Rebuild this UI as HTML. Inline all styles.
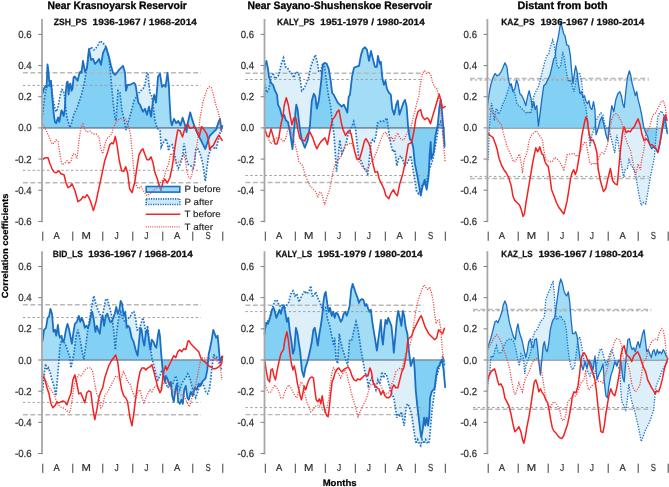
<!DOCTYPE html>
<html><head><meta charset="utf-8"><style>
html,body{margin:0;padding:0;background:#fff;}
svg{display:block;will-change:transform;}
text{font-family:"Liberation Sans", sans-serif;white-space:pre;text-rendering:geometricPrecision;}
</style></head><body>
<svg width="669" height="487" viewBox="0 0 669 487" xml:space="preserve">
<rect width="669" height="487" fill="#fff"/>
<path d="M42.00,118.00 L42.70,113.20 L44.20,100.20 L45.60,91.60 L47.00,85.90 L48.50,85.10 L49.90,87.30 L50.90,80.10 L52.10,93.00 L53.20,100.20 L54.60,107.40 L56.10,111.70 L57.50,108.90 L59.00,101.70 L60.40,94.50 L61.80,89.50 L63.30,90.20 L64.30,94.50 L65.30,103.10 L66.40,114.60 L67.60,120.30 L68.60,123.20 L70.00,127.50 L71.50,123.20 L72.90,117.50 L74.30,113.20 L75.80,110.30 L77.20,107.40 L78.60,103.10 L80.10,98.80 L81.50,94.50 L84.00,84.80 L86.00,72.80 L89.00,50.90 L91.00,46.90 L94.00,49.90 L97.00,46.90 L100.00,40.90 L103.00,42.90 L106.00,46.90 L109.00,58.90 L111.00,78.80 L113.00,100.70 L115.00,118.60 L116.00,120.60 L118.00,90.70 L120.00,92.70 L122.00,110.70 L124.00,118.60 L126.00,130.00 L128.00,122.60 L131.00,112.60 L134.00,100.70 L139.00,92.70 L143.00,88.70 L145.00,84.80 L147.00,72.80 L148.00,72.80 L149.00,84.80 L150.00,92.70 L152.00,96.70 L153.50,108.70 L155.00,120.60 L157.00,128.00 L160.00,130.50 L161.20,147.20 L163.60,142.20 L166.10,138.60 L167.30,143.50 L168.60,150.90 L169.80,146.00 L172.20,144.70 L173.50,149.60 L175.30,158.30 L176.60,164.40 L178.40,168.10 L179.60,165.70 L180.90,162.00 L182.70,155.80 L184.00,143.50 L185.20,149.60 L186.40,159.50 L188.30,164.40 L190.70,165.70 L193.20,168.10 L194.40,165.70 L195.70,149.60 L197.50,148.40 L199.40,152.10 L201.20,157.00 L203.00,165.00 L205.30,181.30 L208.50,155.50 L211.70,146.80 L216.10,149.00 L219.30,136.10 L221.40,127.40 L221.4,127.9 L42.0,127.9 Z" fill="#ddf0fa" stroke="none"/>
<path d="M42.00,93.50 L42.70,93.00 L44.20,88.00 L45.60,85.90 L46.60,87.30 L47.50,64.30 L48.50,71.50 L49.20,81.60 L49.90,84.40 L50.90,80.80 L51.80,91.60 L52.80,103.10 L53.80,114.60 L54.90,121.80 L56.10,123.20 L57.10,120.30 L58.10,117.50 L59.20,121.80 L60.40,116.00 L61.40,110.30 L62.40,111.70 L63.60,116.00 L64.70,110.30 L65.70,93.00 L66.70,83.00 L67.60,81.60 L68.60,94.50 L69.60,84.40 L70.40,83.70 L71.50,90.90 L72.50,88.70 L73.60,77.20 L74.80,76.50 L76.20,78.70 L77.60,80.80 L79.10,74.40 L80.50,71.50 L81.50,72.90 L83.00,60.90 L85.00,71.80 L87.00,67.80 L89.00,48.90 L91.00,59.90 L93.00,58.90 L95.00,63.80 L97.00,61.90 L99.00,58.90 L101.00,64.80 L103.00,52.90 L106.00,46.90 L109.00,56.90 L111.00,65.80 L113.00,72.80 L115.00,74.80 L117.00,72.80 L119.00,69.80 L121.00,67.80 L123.00,65.80 L125.00,72.80 L126.00,90.70 L127.60,84.80 L130.00,84.80 L132.00,83.80 L134.00,82.80 L135.60,84.80 L137.00,94.70 L138.40,102.70 L140.00,104.70 L141.60,108.70 L143.00,111.70 L145.00,108.70 L147.00,114.60 L149.00,106.70 L151.00,116.60 L153.00,100.70 L154.30,94.70 L156.00,102.70 L158.00,76.80 L160.00,73.80 L162.00,86.80 L164.00,84.80 L165.50,86.80 L167.50,72.80 L168.80,84.80 L169.80,104.70 L170.80,121.00 L171.90,125.30 L174.00,118.80 L176.20,123.10 L178.30,121.00 L180.50,125.30 L182.60,117.70 L184.80,124.20 L186.50,132.00 L188.00,122.00 L190.20,112.30 L192.30,119.90 L194.50,126.40 L196.70,131.70 L198.80,136.10 L201.00,140.40 L203.10,144.70 L205.30,149.00 L207.40,142.50 L209.60,136.10 L211.70,133.90 L213.90,131.70 L216.10,129.60 L218.20,123.10 L220.00,118.80 L221.40,129.60 L222.50,125.30 L222.5,127.9 L42.0,127.9 Z" fill="#a3dcf5" stroke="none"/>
<path d="M42.00,118.00 L42.25,116.29 L42.50,114.57 L42.75,112.77 L43.00,110.60 L43.25,108.43 L43.50,106.27 L43.75,104.10 L44.00,101.93 L44.25,99.89 L44.50,98.36 L44.75,96.82 L45.00,95.29 L45.25,93.75 L45.50,92.21 L45.75,90.99 L46.00,89.97 L46.25,88.95 L46.50,87.94 L46.75,86.92 L47.00,85.90 L47.25,85.77 L47.50,85.63 L47.75,85.50 L48.00,85.37 L48.25,85.23 L48.50,85.10 L48.75,85.49 L49.00,85.89 L49.25,86.28 L49.50,86.67 L49.75,87.06 L50.00,86.58 L50.25,84.78 L50.50,82.98 L50.75,81.34 L51.00,82.00 L51.25,85.00 L51.50,88.00 L51.75,91.00 L52.00,93.90 L52.25,96.78 L52.50,99.65 L52.75,102.53 L53.00,105.40 L53.25,108.28 L53.50,111.15 L53.75,114.03 L54.00,115.91 L54.25,117.55 L54.50,119.18 L54.75,120.82 L55.00,121.92 L55.25,122.21 L55.50,122.50 L55.75,122.79 L56.00,123.08 L56.25,122.77 L56.50,122.04 L56.75,121.31 L57.00,120.59 L57.25,119.88 L57.50,119.18 L57.75,118.48 L58.00,117.78 L58.25,118.09 L58.50,119.06 L58.75,120.04 L59.00,121.02 L59.25,121.56 L59.50,120.35 L59.75,119.14 L60.00,117.93 L60.25,116.72 L60.50,115.43 L60.75,114.00 L61.00,112.58 L61.25,111.15 L61.50,110.44 L61.75,110.79 L62.00,111.14 L62.25,111.49 L62.50,112.06 L62.75,112.95 L63.00,113.85 L63.25,114.75 L63.50,115.64 L63.75,115.22 L64.00,113.93 L64.25,112.63 L64.50,111.34 L64.75,109.44 L65.00,105.11 L65.25,102.67 L65.50,105.19 L65.75,107.80 L66.00,110.42 L66.25,113.03 L66.50,115.07 L66.75,116.26 L67.00,117.45 L67.25,118.64 L67.50,119.83 L67.75,120.74 L68.00,121.46 L68.25,122.19 L68.50,122.91 L68.75,123.66 L69.00,124.43 L69.25,125.20 L69.50,125.96 L69.75,126.73 L70.00,127.50 L70.25,126.78 L70.50,126.07 L70.75,125.35 L71.00,124.63 L71.25,123.92 L71.50,123.20 L71.75,122.18 L72.00,121.16 L72.25,120.15 L72.50,119.13 L72.75,118.11 L73.00,117.19 L73.25,116.43 L73.50,115.66 L73.75,114.89 L74.00,114.12 L74.25,113.35 L74.50,112.81 L74.75,112.33 L75.00,111.85 L75.25,111.36 L75.50,110.88 L75.75,110.40 L76.00,109.89 L76.25,109.37 L76.50,108.85 L76.75,108.33 L77.00,107.81 L77.25,107.25 L77.50,106.48 L77.75,105.71 L78.00,104.94 L78.25,104.17 L78.50,103.41 L78.75,102.67 L79.00,101.95 L79.25,101.24 L79.50,100.52 L79.75,99.80 L80.00,99.09 L80.25,98.34 L80.50,97.57 L80.75,96.80 L81.00,96.04 L81.25,95.27 L81.50,94.50 L81.75,93.53 L82.00,92.56 L82.25,91.59 L82.50,90.62 L82.75,89.65 L83.00,88.68 L83.25,87.71 L83.50,86.74 L83.75,85.77 L84.00,84.80 L84.25,83.30 L84.50,81.80 L84.75,80.30 L85.00,78.80 L85.25,77.30 L85.50,75.80 L85.75,74.30 L86.00,72.80 L86.25,70.97 L86.50,69.15 L86.75,68.30 L87.00,67.80 L87.25,65.44 L87.50,63.08 L87.75,60.71 L88.00,58.35 L88.25,56.38 L88.50,54.55 L88.75,52.73 L89.00,50.90 L89.25,50.40 L89.50,51.65 L89.75,53.03 L90.00,54.40 L90.25,55.78 L90.50,57.15 L90.75,58.53 L91.00,59.90 L91.25,59.78 L91.50,59.65 L91.75,59.53 L92.00,59.40 L92.25,59.28 L92.50,59.15 L92.75,59.03 L93.00,58.90 L93.25,59.51 L93.50,60.12 L93.75,60.74 L94.00,61.35 L94.25,61.96 L94.50,62.58 L94.75,63.19 L95.00,63.80 L95.25,63.56 L95.50,63.33 L95.75,63.09 L96.00,62.85 L96.25,62.61 L96.50,62.38 L96.75,62.14 L97.00,61.90 L97.25,61.53 L97.50,61.15 L97.75,60.78 L98.00,60.40 L98.25,60.03 L98.50,59.65 L98.75,59.28 L99.00,58.90 L99.25,59.64 L99.50,60.38 L99.75,61.11 L100.00,61.85 L100.25,62.59 L100.50,63.33 L100.75,64.06 L101.00,64.80 L101.25,63.31 L101.50,61.83 L101.75,60.34 L102.00,58.85 L102.25,57.36 L102.50,55.88 L102.75,54.39 L103.00,52.90 L103.25,52.40 L103.50,51.90 L103.75,51.40 L104.00,50.90 L104.25,50.40 L104.50,49.90 L104.75,49.40 L105.00,48.90 L105.25,48.40 L105.50,47.90 L105.75,47.40 L106.00,46.90 L106.25,47.90 L106.50,48.90 L106.75,49.90 L107.00,50.90 L107.25,51.90 L107.50,52.90 L107.75,53.90 L108.00,54.90 L108.25,55.90 L108.50,56.90 L108.75,57.90 L109.00,58.90 L109.25,61.39 L109.50,63.88 L109.75,66.36 L110.00,68.85 L110.25,71.34 L110.50,73.83 L110.75,76.31 L111.00,78.80 L111.25,81.54 L111.50,84.28 L111.75,87.01 L112.00,89.75 L112.25,92.49 L112.50,95.22 L112.75,97.96 L113.00,100.70 L113.25,102.94 L113.50,105.17 L113.75,107.41 L114.00,109.65 L114.25,111.89 L114.50,114.12 L114.75,116.36 L115.00,118.60 L115.25,119.10 L115.50,119.60 L115.75,120.10 L116.00,120.60 L116.25,116.86 L116.50,113.12 L116.75,109.39 L117.00,105.65 L117.25,101.91 L117.50,98.17 L117.75,94.44 L118.00,90.70 L118.25,90.95 L118.50,91.20 L118.75,91.45 L119.00,91.70 L119.25,91.95 L119.50,92.20 L119.75,92.45 L120.00,92.70 L120.25,94.95 L120.50,97.20 L120.75,99.45 L121.00,101.70 L121.25,103.95 L121.50,106.20 L121.75,108.45 L122.00,110.70 L122.25,111.69 L122.50,112.67 L122.75,113.66 L123.00,114.65 L123.25,115.64 L123.50,116.62 L123.75,117.61 L124.00,118.60 L124.25,120.02 L124.50,121.45 L124.75,122.88 L125.00,124.30 L125.25,125.72 L125.50,127.15 L125.75,127.90 L126.00,127.90 L126.25,127.90 L126.50,127.90 L126.75,127.22 L127.00,126.30 L127.25,125.38 L127.50,124.45 L127.75,123.52 L128.00,122.60 L128.25,121.77 L128.50,120.93 L128.75,120.10 L129.00,119.27 L129.25,118.43 L129.50,117.60 L129.75,116.77 L130.00,115.93 L130.25,115.10 L130.50,114.27 L130.75,113.43 L131.00,112.60 L131.25,111.61 L131.50,110.62 L131.75,109.62 L132.00,108.63 L132.25,107.64 L132.50,106.65 L132.75,105.66 L133.00,104.67 L133.25,103.67 L133.50,102.68 L133.75,101.69 L134.00,100.70 L134.25,100.30 L134.50,99.90 L134.75,99.50 L135.00,99.10 L135.25,98.70 L135.50,98.30 L135.75,97.90 L136.00,97.50 L136.25,97.10 L136.50,96.70 L136.75,96.30 L137.00,95.90 L137.25,96.13 L137.50,97.56 L137.75,98.99 L138.00,100.41 L138.25,101.84 L138.50,102.82 L138.75,103.14 L139.00,103.45 L139.25,103.76 L139.50,104.08 L139.75,104.39 L140.00,104.70 L140.25,105.33 L140.50,105.95 L140.75,106.58 L141.00,107.20 L141.25,107.83 L141.50,108.45 L141.75,109.02 L142.00,109.56 L142.25,110.09 L142.50,110.63 L142.75,111.16 L143.00,111.70 L143.25,111.33 L143.50,110.95 L143.75,110.58 L144.00,110.20 L144.25,109.83 L144.50,109.45 L144.75,109.08 L145.00,108.70 L145.25,109.44 L145.50,110.17 L145.75,110.91 L146.00,111.65 L146.25,112.39 L146.50,113.12 L146.75,113.86 L147.00,114.60 L147.25,113.61 L147.50,112.62 L147.75,111.64 L148.00,110.65 L148.25,109.66 L148.50,108.67 L148.75,107.69 L149.00,106.70 L149.25,107.94 L149.50,109.17 L149.75,110.41 L150.00,111.65 L150.25,112.89 L150.50,114.12 L150.75,115.36 L151.00,116.60 L151.25,114.61 L151.50,112.62 L151.75,110.64 L152.00,108.65 L152.25,106.66 L152.50,104.67 L152.75,102.70 L153.00,104.70 L153.25,106.70 L153.50,108.70 L153.75,110.68 L154.00,112.67 L154.25,114.65 L154.50,116.63 L154.75,118.62 L155.00,120.60 L155.25,121.52 L155.50,122.45 L155.75,123.38 L156.00,124.30 L156.25,125.22 L156.50,126.15 L156.75,127.08 L157.00,127.90 L157.25,127.90 L157.50,127.90 L157.75,127.90 L158.00,127.90 L158.25,127.90 L158.50,127.90 L158.75,127.90 L159.00,127.90 L159.25,127.90 L159.50,127.90 L159.75,127.90 L160.00,127.90 L160.25,127.90 L160.50,127.90 L160.75,127.90 L161.00,127.90 L161.25,127.90 L161.50,127.90 L161.75,127.90 L162.00,127.90 L162.25,127.90 L162.50,127.90 L162.75,127.90 L163.00,127.90 L163.25,127.90 L163.50,127.90 L163.75,127.90 L164.00,127.90 L164.25,127.90 L164.50,127.90 L164.75,127.90 L165.00,127.90 L165.25,127.90 L165.50,127.90 L165.75,127.90 L166.00,127.90 L166.25,127.90 L166.50,127.90 L166.75,127.90 L167.00,127.90 L167.25,127.90 L167.50,127.90 L167.75,127.90 L168.00,127.90 L168.25,127.90 L168.50,127.90 L168.75,127.90 L169.00,127.90 L169.25,127.90 L169.50,127.90 L169.75,127.90 L170.00,127.90 L170.25,127.90 L170.50,127.90 L170.75,127.90 L171.00,127.90 L171.25,127.90 L171.50,127.90 L171.75,127.90 L172.00,127.90 L172.25,127.90 L172.50,127.90 L172.75,127.90 L173.00,127.90 L173.25,127.90 L173.50,127.90 L173.75,127.90 L174.00,127.90 L174.25,127.90 L174.50,127.90 L174.75,127.90 L175.00,127.90 L175.25,127.90 L175.50,127.90 L175.75,127.90 L176.00,127.90 L176.25,127.90 L176.50,127.90 L176.75,127.90 L177.00,127.90 L177.25,127.90 L177.50,127.90 L177.75,127.90 L178.00,127.90 L178.25,127.90 L178.50,127.90 L178.75,127.90 L179.00,127.90 L179.25,127.90 L179.50,127.90 L179.75,127.90 L180.00,127.90 L180.25,127.90 L180.50,127.90 L180.75,127.90 L181.00,127.90 L181.25,127.90 L181.50,127.90 L181.75,127.90 L182.00,127.90 L182.25,127.90 L182.50,127.90 L182.75,127.90 L183.00,127.90 L183.25,127.90 L183.50,127.90 L183.75,127.90 L184.00,127.90 L184.25,127.90 L184.50,127.90 L184.75,127.90 L185.00,127.90 L185.25,127.90 L185.50,127.90 L185.75,128.56 L186.00,129.71 L186.25,130.85 L186.50,132.00 L186.75,130.33 L187.00,128.67 L187.25,127.90 L187.50,127.90 L187.75,127.90 L188.00,127.90 L188.25,127.90 L188.50,127.90 L188.75,127.90 L189.00,127.90 L189.25,127.90 L189.50,127.90 L189.75,127.90 L190.00,127.90 L190.25,127.90 L190.50,127.90 L190.75,127.90 L191.00,127.90 L191.25,127.90 L191.50,127.90 L191.75,127.90 L192.00,127.90 L192.25,127.90 L192.50,127.90 L192.75,127.90 L193.00,127.90 L193.25,127.90 L193.50,127.90 L193.75,127.90 L194.00,127.90 L194.25,127.90 L194.50,127.90 L194.75,127.90 L195.00,127.90 L195.25,128.21 L195.50,128.81 L195.75,129.41 L196.00,130.01 L196.25,130.62 L196.50,131.22 L196.75,131.80 L197.00,132.33 L197.25,132.85 L197.50,133.38 L197.75,133.90 L198.00,134.42 L198.25,134.95 L198.50,135.47 L198.75,136.00 L199.00,136.49 L199.25,136.98 L199.50,137.47 L199.75,137.96 L200.00,138.45 L200.25,138.93 L200.50,139.42 L200.75,139.91 L201.00,140.40 L201.25,140.91 L201.50,141.42 L201.75,141.94 L202.00,142.45 L202.25,142.96 L202.50,143.47 L202.75,143.98 L203.00,144.50 L203.25,144.99 L203.50,145.48 L203.75,145.97 L204.00,146.46 L204.25,146.95 L204.50,147.44 L204.75,147.92 L205.00,148.41 L205.25,148.90 L205.50,148.38 L205.75,147.61 L206.00,146.83 L206.25,146.06 L206.50,145.29 L206.75,144.51 L207.00,143.74 L207.25,142.96 L207.50,142.21 L207.75,141.48 L208.00,140.75 L208.25,140.03 L208.50,139.30 L208.75,138.57 L209.00,137.85 L209.25,137.12 L209.50,136.39 L209.75,135.94 L210.00,135.68 L210.25,135.42 L210.50,135.16 L210.75,134.90 L211.00,134.63 L211.25,134.37 L211.50,134.11 L211.75,133.85 L212.00,133.60 L212.25,133.35 L212.50,133.10 L212.75,132.85 L213.00,132.60 L213.25,132.35 L213.50,132.10 L213.75,131.85 L214.00,131.60 L214.25,131.37 L214.50,131.13 L214.75,130.89 L215.00,130.65 L215.25,130.41 L215.50,130.17 L215.75,129.93 L216.00,129.70 L216.25,129.14 L216.50,128.36 L216.75,127.90 L217.00,127.90 L217.25,127.90 L217.50,127.90 L217.75,127.90 L218.00,127.90 L218.25,127.90 L218.50,127.90 L218.75,127.90 L219.00,127.90 L219.25,127.90 L219.50,127.90 L219.75,127.90 L220.00,127.90 L220.25,127.90 L220.50,127.90 L220.75,127.90 L221.00,127.90 L221.25,128.02 L221.25,127.9 L42.00,127.9 Z" fill="#82d0f3" stroke="none"/>
<path d="M264.50,95.00 L265.00,84.80 L267.00,92.70 L269.00,88.70 L271.00,76.80 L273.00,72.80 L275.00,78.80 L277.00,76.80 L279.00,74.80 L281.00,64.80 L283.50,57.90 L285.50,66.80 L287.50,67.80 L289.90,71.80 L291.90,73.80 L293.90,77.80 L295.90,71.80 L297.90,72.80 L299.80,76.80 L301.80,90.70 L303.80,88.70 L305.80,84.80 L308.80,76.80 L310.80,66.80 L312.80,60.90 L315.40,54.90 L317.40,62.80 L318.80,71.80 L320.80,70.80 L322.80,62.80 L324.70,66.80 L326.70,82.80 L328.70,96.70 L330.70,106.70 L332.10,120.60 L334.00,134.60 L335.70,159.30 L336.50,171.60 L338.10,159.30 L339.80,140.00 L341.70,153.80 L343.70,150.00 L345.70,145.00 L348.00,134.60 L351.30,128.00 L353.70,121.50 L355.40,128.00 L357.00,142.80 L358.70,157.60 L361.10,160.90 L363.60,167.50 L366.00,170.80 L367.70,174.00 L369.30,159.30 L371.00,142.80 L372.60,139.60 L374.30,141.20 L375.90,136.30 L377.50,123.10 L380.00,121.50 L382.50,120.70 L384.00,121.00 L386.90,118.00 L388.80,131.90 L390.80,143.90 L392.80,151.80 L394.80,149.80 L396.80,165.80 L398.80,157.80 L400.80,155.80 L402.80,159.80 L404.80,165.80 L406.80,163.80 L408.80,159.80 L410.80,155.80 L412.70,167.80 L414.70,179.70 L416.70,191.70 L418.70,193.70 L420.70,189.70 L422.70,183.70 L424.70,185.70 L426.70,181.70 L428.70,171.80 L430.70,165.80 L432.70,159.80 L434.70,149.80 L436.70,137.90 L438.60,126.00 L440.60,122.00 L442.60,129.90 L444.60,147.80 L444.6,127.9 L264.5,127.9 Z" fill="#ddf0fa" stroke="none"/>
<path d="M264.50,70.00 L265.00,64.80 L266.40,60.90 L268.00,68.80 L269.00,76.80 L271.00,82.80 L273.00,84.80 L275.00,90.70 L277.00,94.70 L278.00,104.70 L280.00,108.70 L282.00,116.60 L284.00,114.60 L286.00,120.60 L288.00,122.00 L290.00,132.00 L292.50,149.00 L294.00,130.00 L295.50,112.00 L296.30,104.70 L297.50,108.70 L298.90,120.60 L300.00,130.00 L301.80,139.90 L304.80,147.80 L307.80,139.90 L309.80,127.00 L311.80,100.70 L313.80,93.70 L315.40,96.70 L316.80,108.70 L318.80,100.70 L320.80,84.80 L322.80,64.80 L324.70,62.80 L326.70,63.80 L328.70,68.80 L330.70,80.80 L332.10,92.70 L333.70,94.70 L335.70,98.70 L337.70,102.70 L339.70,104.70 L341.70,106.70 L343.70,104.70 L345.70,108.70 L347.30,112.60 L348.70,96.70 L350.00,94.70 L352.00,76.80 L354.00,67.80 L356.00,66.80 L359.00,65.80 L361.00,54.90 L363.00,48.90 L365.00,47.30 L367.00,49.90 L369.00,60.90 L371.00,50.90 L372.90,58.90 L374.90,66.80 L376.90,66.80 L377.90,55.90 L379.90,63.80 L380.90,61.90 L382.30,77.80 L383.90,84.80 L385.50,80.80 L386.90,88.70 L388.80,92.70 L390.80,94.70 L392.20,108.70 L394.20,114.60 L396.20,104.70 L397.80,100.70 L399.40,114.60 L401.40,108.70 L403.40,102.70 L405.00,99.90 L406.60,106.40 L408.30,129.40 L409.90,139.30 L411.60,140.90 L413.20,147.50 L414.90,163.90 L417.70,177.70 L419.70,189.70 L420.70,195.70 L422.70,185.70 L424.70,179.70 L426.70,189.70 L428.70,175.70 L429.60,155.00 L430.70,141.90 L431.30,159.00 L433.70,152.40 L435.40,136.00 L437.80,124.50 L439.50,106.40 L440.80,99.90 L442.00,111.30 L443.60,131.00 L444.70,145.80 L444.7,127.9 L264.5,127.9 Z" fill="#a3dcf5" stroke="none"/>
<path d="M264.50,95.00 L264.75,89.90 L265.00,84.80 L265.25,85.79 L265.50,86.78 L265.75,87.76 L266.00,88.75 L266.25,89.74 L266.50,90.72 L266.75,91.71 L267.00,92.70 L267.25,92.20 L267.50,91.70 L267.75,91.20 L268.00,90.70 L268.25,90.20 L268.50,89.70 L268.75,89.20 L269.00,88.70 L269.25,87.21 L269.50,85.72 L269.75,84.24 L270.00,82.75 L270.25,81.26 L270.50,81.30 L270.75,82.05 L271.00,82.80 L271.25,83.05 L271.50,83.30 L271.75,83.55 L272.00,83.80 L272.25,84.05 L272.50,84.30 L272.75,84.55 L273.00,84.80 L273.25,85.54 L273.50,86.28 L273.75,87.01 L274.00,87.75 L274.25,88.49 L274.50,89.22 L274.75,89.96 L275.00,90.70 L275.25,91.20 L275.50,91.70 L275.75,92.20 L276.00,92.70 L276.25,93.20 L276.50,93.70 L276.75,94.20 L277.00,94.70 L277.25,97.20 L277.50,99.70 L277.75,102.20 L278.00,104.70 L278.25,105.20 L278.50,105.70 L278.75,106.20 L279.00,106.70 L279.25,107.20 L279.50,107.70 L279.75,108.20 L280.00,108.70 L280.25,109.69 L280.50,110.67 L280.75,111.66 L281.00,112.65 L281.25,113.64 L281.50,114.62 L281.75,115.61 L282.00,116.60 L282.25,116.35 L282.50,116.10 L282.75,115.85 L283.00,115.60 L283.25,115.35 L283.50,115.10 L283.75,114.85 L284.00,114.60 L284.25,115.35 L284.50,116.10 L284.75,116.85 L285.00,117.60 L285.25,118.35 L285.50,119.10 L285.75,119.85 L286.00,120.60 L286.25,120.77 L286.50,120.95 L286.75,121.12 L287.00,121.30 L287.25,121.47 L287.50,121.65 L287.75,121.83 L288.00,122.00 L288.25,123.25 L288.50,124.50 L288.75,125.75 L289.00,127.00 L289.25,127.90 L289.50,127.90 L289.75,127.90 L290.00,127.90 L290.25,127.90 L290.50,127.90 L290.75,127.90 L291.00,127.90 L291.25,127.90 L291.50,127.90 L291.75,127.90 L292.00,127.90 L292.25,127.90 L292.50,127.90 L292.75,127.90 L293.00,127.90 L293.25,127.90 L293.50,127.90 L293.75,127.90 L294.00,127.90 L294.25,127.00 L294.50,124.00 L294.75,121.00 L295.00,118.00 L295.25,115.00 L295.50,112.00 L295.75,109.72 L296.00,107.44 L296.25,105.16 L296.50,105.37 L296.75,106.20 L297.00,107.03 L297.25,107.87 L297.50,108.70 L297.75,110.83 L298.00,112.95 L298.25,115.08 L298.50,117.20 L298.75,119.33 L299.00,121.45 L299.25,123.59 L299.50,125.73 L299.75,127.86 L300.00,127.90 L300.25,127.90 L300.50,127.90 L300.75,127.90 L301.00,127.90 L301.25,127.90 L301.50,127.90 L301.75,127.90 L302.00,127.90 L302.25,127.90 L302.50,127.90 L302.75,127.90 L303.00,127.90 L303.25,127.90 L303.50,127.90 L303.75,127.90 L304.00,127.90 L304.25,127.90 L304.50,127.90 L304.75,127.90 L305.00,127.90 L305.25,127.90 L305.50,127.90 L305.75,127.90 L306.00,127.90 L306.25,127.90 L306.50,127.90 L306.75,127.90 L307.00,127.90 L307.25,127.90 L307.50,127.90 L307.75,127.90 L308.00,127.90 L308.25,127.90 L308.50,127.90 L308.75,127.90 L309.00,127.90 L309.25,127.90 L309.50,127.90 L309.75,127.32 L310.00,124.37 L310.25,121.08 L310.50,117.80 L310.75,114.51 L311.00,111.22 L311.25,107.93 L311.50,104.65 L311.75,101.36 L312.00,100.00 L312.25,99.13 L312.50,98.25 L312.75,97.38 L313.00,96.50 L313.25,95.63 L313.50,94.75 L313.75,93.88 L314.00,94.07 L314.25,94.54 L314.50,95.01 L314.75,95.48 L315.00,95.95 L315.25,96.42 L315.50,97.56 L315.75,99.70 L316.00,101.84 L316.25,103.99 L316.50,106.13 L316.75,108.27 L317.00,107.90 L317.25,106.90 L317.50,105.90 L317.75,104.90 L318.00,103.90 L318.25,102.90 L318.50,101.90 L318.75,100.90 L319.00,99.11 L319.25,97.12 L319.50,95.14 L319.75,93.15 L320.00,91.16 L320.25,89.17 L320.50,87.19 L320.75,85.20 L321.00,82.80 L321.25,80.30 L321.50,77.80 L321.75,75.30 L322.00,72.80 L322.25,70.30 L322.50,67.80 L322.75,65.30 L323.00,64.59 L323.25,64.33 L323.50,64.27 L323.75,64.80 L324.00,65.33 L324.25,65.85 L324.50,66.38 L324.75,67.20 L325.00,69.20 L325.25,71.20 L325.50,73.20 L325.75,75.20 L326.00,77.20 L326.25,79.20 L326.50,81.20 L326.75,83.15 L327.00,84.89 L327.25,86.62 L327.50,88.36 L327.75,90.10 L328.00,91.84 L328.25,93.57 L328.50,95.31 L328.75,96.95 L329.00,98.20 L329.25,99.45 L329.50,100.70 L329.75,101.95 L330.00,103.20 L330.25,104.45 L330.50,105.70 L330.75,107.20 L331.00,109.68 L331.25,112.16 L331.50,114.64 L331.75,117.12 L332.00,119.61 L332.25,121.71 L332.50,123.55 L332.75,125.39 L333.00,127.23 L333.25,127.90 L333.50,127.90 L333.75,127.90 L334.00,127.90 L334.25,127.90 L334.50,127.90 L334.75,127.90 L335.00,127.90 L335.25,127.90 L335.50,127.90 L335.75,127.90 L336.00,127.90 L336.25,127.90 L336.50,127.90 L336.75,127.90 L337.00,127.90 L337.25,127.90 L337.50,127.90 L337.75,127.90 L338.00,127.90 L338.25,127.90 L338.50,127.90 L338.75,127.90 L339.00,127.90 L339.25,127.90 L339.50,127.90 L339.75,127.90 L340.00,127.90 L340.25,127.90 L340.50,127.90 L340.75,127.90 L341.00,127.90 L341.25,127.90 L341.50,127.90 L341.75,127.90 L342.00,127.90 L342.25,127.90 L342.50,127.90 L342.75,127.90 L343.00,127.90 L343.25,127.90 L343.50,127.90 L343.75,127.90 L344.00,127.90 L344.25,127.90 L344.50,127.90 L344.75,127.90 L345.00,127.90 L345.25,127.90 L345.50,127.90 L345.75,127.90 L346.00,127.90 L346.25,127.90 L346.50,127.90 L346.75,127.90 L347.00,127.90 L347.25,127.90 L347.50,127.90 L347.75,127.90 L348.00,127.90 L348.25,127.90 L348.50,127.90 L348.75,127.90 L349.00,127.90 L349.25,127.90 L349.50,127.90 L349.75,127.90 L350.00,127.90 L350.25,127.90 L350.50,127.90 L350.75,127.90 L351.00,127.90 L351.25,127.90 L351.50,127.46 L351.75,126.78 L352.00,126.10 L352.25,125.43 L352.50,124.75 L352.75,124.07 L353.00,123.40 L353.25,122.72 L353.50,122.04 L353.75,121.69 L354.00,122.65 L354.25,123.60 L354.50,124.56 L354.75,125.51 L355.00,126.47 L355.25,127.43 L355.50,127.90 L355.75,127.90 L356.00,127.90 L356.25,127.90 L356.50,127.90 L356.75,127.90 L357.00,127.90 L357.25,127.90 L357.50,127.90 L357.75,127.90 L358.00,127.90 L358.25,127.90 L358.50,127.90 L358.75,127.90 L359.00,127.90 L359.25,127.90 L359.50,127.90 L359.75,127.90 L360.00,127.90 L360.25,127.90 L360.50,127.90 L360.75,127.90 L361.00,127.90 L361.25,127.90 L361.50,127.90 L361.75,127.90 L362.00,127.90 L362.25,127.90 L362.50,127.90 L362.75,127.90 L363.00,127.90 L363.25,127.90 L363.50,127.90 L363.75,127.90 L364.00,127.90 L364.25,127.90 L364.50,127.90 L364.75,127.90 L365.00,127.90 L365.25,127.90 L365.50,127.90 L365.75,127.90 L366.00,127.90 L366.25,127.90 L366.50,127.90 L366.75,127.90 L367.00,127.90 L367.25,127.90 L367.50,127.90 L367.75,127.90 L368.00,127.90 L368.25,127.90 L368.50,127.90 L368.75,127.90 L369.00,127.90 L369.25,127.90 L369.50,127.90 L369.75,127.90 L370.00,127.90 L370.25,127.90 L370.50,127.90 L370.75,127.90 L371.00,127.90 L371.25,127.90 L371.50,127.90 L371.75,127.90 L372.00,127.90 L372.25,127.90 L372.50,127.90 L372.75,127.90 L373.00,127.90 L373.25,127.90 L373.50,127.90 L373.75,127.90 L374.00,127.90 L374.25,127.90 L374.50,127.90 L374.75,127.90 L375.00,127.90 L375.25,127.90 L375.50,127.90 L375.75,127.90 L376.00,127.90 L376.25,127.90 L376.50,127.90 L376.75,127.90 L377.00,127.22 L377.25,125.16 L377.50,123.10 L377.75,122.94 L378.00,122.78 L378.25,122.62 L378.50,122.46 L378.75,122.30 L379.00,122.14 L379.25,121.98 L379.50,121.82 L379.75,121.66 L380.00,121.50 L380.25,121.42 L380.50,121.34 L380.75,121.26 L381.00,121.18 L381.25,121.10 L381.50,121.02 L381.75,120.94 L382.00,120.86 L382.25,120.78 L382.50,120.70 L382.75,120.75 L383.00,120.80 L383.25,120.85 L383.50,120.90 L383.75,120.95 L384.00,121.00 L384.25,120.74 L384.50,120.48 L384.75,120.22 L385.00,119.97 L385.25,119.71 L385.50,119.45 L385.75,119.19 L386.00,118.93 L386.25,118.67 L386.50,118.41 L386.75,118.16 L387.00,118.73 L387.25,120.56 L387.50,122.39 L387.75,124.22 L388.00,126.05 L388.25,127.88 L388.50,127.90 L388.75,127.90 L389.00,127.90 L389.25,127.90 L389.50,127.90 L389.75,127.90 L390.00,127.90 L390.25,127.90 L390.50,127.90 L390.75,127.90 L391.00,127.90 L391.25,127.90 L391.50,127.90 L391.75,127.90 L392.00,127.90 L392.25,127.90 L392.50,127.90 L392.75,127.90 L393.00,127.90 L393.25,127.90 L393.50,127.90 L393.75,127.90 L394.00,127.90 L394.25,127.90 L394.50,127.90 L394.75,127.90 L395.00,127.90 L395.25,127.90 L395.50,127.90 L395.75,127.90 L396.00,127.90 L396.25,127.90 L396.50,127.90 L396.75,127.90 L397.00,127.90 L397.25,127.90 L397.50,127.90 L397.75,127.90 L398.00,127.90 L398.25,127.90 L398.50,127.90 L398.75,127.90 L399.00,127.90 L399.25,127.90 L399.50,127.90 L399.75,127.90 L400.00,127.90 L400.25,127.90 L400.50,127.90 L400.75,127.90 L401.00,127.90 L401.25,127.90 L401.50,127.90 L401.75,127.90 L402.00,127.90 L402.25,127.90 L402.50,127.90 L402.75,127.90 L403.00,127.90 L403.25,127.90 L403.50,127.90 L403.75,127.90 L404.00,127.90 L404.25,127.90 L404.50,127.90 L404.75,127.90 L405.00,127.90 L405.25,127.90 L405.50,127.90 L405.75,127.90 L406.00,127.90 L406.25,127.90 L406.50,127.90 L406.75,127.90 L407.00,127.90 L407.25,127.90 L407.50,127.90 L407.75,127.90 L408.00,127.90 L408.25,128.72 L408.50,130.64 L408.75,132.18 L409.00,133.73 L409.25,135.28 L409.50,136.83 L409.75,138.37 L410.00,139.39 L410.25,139.63 L410.50,139.86 L410.75,140.10 L411.00,140.34 L411.25,140.57 L411.50,140.81 L411.75,141.52 L412.00,142.55 L412.25,143.58 L412.50,144.61 L412.75,145.64 L413.00,146.68 L413.25,147.98 L413.50,150.39 L413.75,152.81 L414.00,155.22 L414.25,157.63 L414.50,160.04 L414.75,162.45 L415.00,164.39 L415.25,165.63 L415.50,166.86 L415.75,168.09 L416.00,169.32 L416.25,170.55 L416.50,171.79 L416.75,173.02 L417.00,174.25 L417.25,175.48 L417.50,176.71 L417.75,178.00 L418.00,179.50 L418.25,181.00 L418.50,182.50 L418.75,184.00 L419.00,185.50 L419.25,187.00 L419.50,188.50 L419.75,190.00 L420.00,191.10 L420.25,190.60 L420.50,190.10 L420.75,189.55 L421.00,188.80 L421.25,188.05 L421.50,187.30 L421.75,186.55 L422.00,185.80 L422.25,185.05 L422.50,184.30 L422.75,183.75 L423.00,184.00 L423.25,184.05 L423.50,183.30 L423.75,182.55 L424.00,181.80 L424.25,181.05 L424.50,180.30 L424.75,179.95 L425.00,181.20 L425.25,182.45 L425.50,183.70 L425.75,183.60 L426.00,183.10 L426.25,182.60 L426.50,182.10 L426.75,181.45 L427.00,180.21 L427.25,178.98 L427.50,177.74 L427.75,176.50 L428.00,175.26 L428.25,174.03 L428.50,172.79 L428.75,171.65 L429.00,168.80 L429.25,163.05 L429.50,157.30 L429.75,153.21 L430.00,150.24 L430.25,147.26 L430.50,144.28 L430.75,143.33 L431.00,150.45 L431.25,157.57 L431.50,158.45 L431.75,157.76 L432.00,157.08 L432.25,156.39 L432.50,155.70 L432.75,155.01 L433.00,154.32 L433.25,153.64 L433.50,152.95 L433.75,151.92 L434.00,149.51 L434.25,147.09 L434.50,144.68 L434.75,142.27 L435.00,139.86 L435.25,137.45 L435.50,135.52 L435.75,134.32 L436.00,133.12 L436.25,131.93 L436.50,130.73 L436.75,129.53 L437.00,128.33 L437.25,127.90 L437.50,127.90 L437.75,127.90 L438.00,127.90 L438.25,127.90 L438.50,126.63 L438.75,125.70 L439.00,125.20 L439.25,124.70 L439.50,124.20 L439.75,123.70 L440.00,123.20 L440.25,122.70 L440.50,122.20 L440.75,122.59 L441.00,123.58 L441.25,124.57 L441.50,125.55 L441.75,126.54 L442.00,127.53 L442.25,127.90 L442.50,127.90 L442.75,127.90 L443.00,127.90 L443.25,127.90 L443.50,129.77 L443.75,133.02 L444.00,136.38 L444.25,139.75 L444.50,143.11 L444.50,127.9 L264.50,127.9 Z" fill="#82d0f3" stroke="none"/>
<path d="M487.40,160.00 L488.30,159.50 L489.20,129.90 L490.20,117.00 L491.50,103.10 L492.90,109.60 L494.40,120.70 L495.70,109.60 L497.00,108.70 L498.50,114.20 L500.30,111.40 L502.90,103.70 L504.90,99.70 L506.90,93.70 L508.90,87.70 L510.90,85.70 L512.90,89.70 L514.90,93.70 L516.90,103.70 L518.90,105.70 L520.90,107.60 L522.80,109.60 L524.80,111.60 L526.80,113.60 L528.80,111.60 L530.80,113.60 L532.80,99.70 L534.80,93.70 L536.80,89.70 L538.80,85.70 L540.80,77.80 L542.80,69.80 L544.80,61.80 L546.80,55.90 L548.70,53.90 L550.70,45.90 L552.70,39.90 L554.30,45.90 L555.70,55.90 L557.10,65.80 L558.70,67.80 L560.70,65.80 L562.70,51.90 L564.30,57.80 L565.70,67.80 L567.10,75.80 L568.70,81.80 L570.70,79.80 L572.60,87.70 L574.00,91.70 L576.00,79.80 L578.00,72.80 L580.00,73.80 L581.60,81.80 L583.00,95.70 L584.40,103.70 L586.00,107.60 L588.00,124.90 L590.00,146.80 L592.00,134.80 L594.00,128.90 L596.00,120.90 L598.00,116.90 L600.90,112.90 L602.90,114.90 L604.90,124.90 L606.90,128.90 L608.90,126.90 L610.80,136.80 L612.80,144.80 L614.80,152.80 L616.80,134.80 L618.80,146.80 L620.80,160.70 L622.00,168.50 L623.50,177.70 L625.00,170.00 L627.40,168.50 L629.00,160.00 L631.00,165.00 L633.00,168.00 L635.80,176.20 L637.40,185.40 L638.90,194.70 L641.20,205.50 L643.50,202.40 L645.80,203.90 L648.20,190.10 L650.50,176.20 L652.80,165.40 L654.30,157.70 L655.70,140.00 L657.70,116.90 L659.60,112.90 L661.60,111.00 L663.60,114.90 L665.60,126.90 L667.60,134.80 L667.6,127.9 L487.4,127.9 Z" fill="#ddf0fa" stroke="none"/>
<path d="M487.40,105.90 L489.20,92.90 L491.00,83.70 L493.00,77.80 L495.00,73.40 L497.00,75.80 L499.00,74.80 L501.00,71.80 L502.90,67.80 L504.90,62.80 L506.90,66.80 L508.50,79.80 L509.90,85.70 L511.30,83.70 L512.90,91.70 L514.90,88.70 L516.50,79.80 L517.90,83.70 L519.90,93.70 L521.90,95.70 L523.80,99.70 L525.80,105.70 L527.80,95.70 L529.20,90.70 L530.80,97.70 L532.40,107.60 L533.80,101.70 L535.20,109.60 L536.80,105.70 L538.40,126.00 L539.80,115.60 L541.80,99.70 L543.80,85.70 L545.80,83.70 L547.70,79.80 L549.70,75.80 L551.70,67.80 L553.70,58.80 L555.10,56.90 L556.30,45.90 L557.70,39.90 L559.10,32.00 L560.70,22.00 L562.30,28.00 L563.70,33.90 L565.10,35.90 L566.70,44.90 L568.70,45.90 L570.30,54.90 L571.70,71.80 L573.00,83.70 L574.60,71.80 L575.60,65.80 L577.00,71.80 L578.40,83.70 L580.00,93.70 L581.60,91.70 L583.00,97.70 L584.40,95.70 L586.00,101.70 L587.50,103.70 L588.90,100.70 L590.30,107.60 L591.90,109.60 L593.50,101.70 L594.90,109.60 L596.00,134.80 L598.00,128.90 L600.00,120.90 L602.00,116.90 L604.00,124.90 L606.00,134.80 L608.00,140.80 L610.00,118.90 L611.80,105.70 L613.80,111.60 L615.80,99.70 L617.80,93.70 L619.80,91.70 L621.40,95.70 L622.80,103.70 L624.20,107.60 L625.80,91.70 L627.40,77.80 L629.40,70.80 L630.80,75.80 L632.20,83.70 L633.80,89.70 L635.30,95.70 L636.70,91.70 L638.10,99.70 L639.70,105.70 L641.70,114.90 L643.70,126.90 L645.70,132.80 L647.70,136.80 L649.70,144.80 L651.70,148.80 L653.70,146.80 L655.70,148.80 L657.70,152.80 L659.60,144.80 L661.60,134.80 L663.60,122.90 L665.20,116.90 L667.20,132.80 L667.2,127.9 L487.4,127.9 Z" fill="#a3dcf5" stroke="none"/>
<path d="M487.40,127.90 L487.65,127.90 L487.90,127.90 L488.15,127.90 L488.40,127.90 L488.65,127.90 L488.90,127.90 L489.15,127.90 L489.40,127.32 L489.65,124.10 L489.90,120.87 L490.15,117.65 L490.40,114.86 L490.65,112.19 L490.90,109.52 L491.15,106.84 L491.40,104.17 L491.65,103.80 L491.90,104.96 L492.15,106.12 L492.40,107.28 L492.65,108.44 L492.90,109.60 L493.15,111.45 L493.40,113.30 L493.65,115.15 L493.90,117.00 L494.15,118.85 L494.40,120.70 L494.65,118.57 L494.90,116.43 L495.15,114.30 L495.40,112.16 L495.65,110.03 L495.90,109.46 L496.15,109.29 L496.40,109.12 L496.65,108.94 L496.90,108.77 L497.15,109.25 L497.40,110.17 L497.65,111.08 L497.90,112.00 L498.15,112.92 L498.40,113.83 L498.65,113.97 L498.90,113.58 L499.15,113.19 L499.40,112.80 L499.65,112.41 L499.90,112.02 L500.15,111.63 L500.40,111.10 L500.65,110.36 L500.90,109.62 L501.15,108.88 L501.40,108.14 L501.65,107.40 L501.90,106.66 L502.15,105.92 L502.40,105.18 L502.65,104.44 L502.90,103.70 L503.15,103.20 L503.40,102.70 L503.65,102.20 L503.90,101.70 L504.15,101.20 L504.40,100.70 L504.65,100.20 L504.90,99.70 L505.15,98.95 L505.40,98.20 L505.65,97.45 L505.90,96.70 L506.15,95.95 L506.40,95.20 L506.65,94.45 L506.90,93.70 L507.15,92.95 L507.40,92.20 L507.65,91.45 L507.90,90.70 L508.15,89.95 L508.40,89.20 L508.65,88.45 L508.90,87.70 L509.15,87.45 L509.40,87.20 L509.65,86.95 L509.90,86.70 L510.15,86.45 L510.40,86.20 L510.65,85.95 L510.90,85.70 L511.15,86.20 L511.40,86.70 L511.65,87.20 L511.90,87.70 L512.15,88.20 L512.40,89.20 L512.65,90.45 L512.90,91.70 L513.15,91.33 L513.40,90.95 L513.65,91.20 L513.90,91.70 L514.15,92.20 L514.40,92.70 L514.65,93.20 L514.90,93.70 L515.15,94.95 L515.40,96.20 L515.65,97.45 L515.90,98.70 L516.15,99.95 L516.40,101.20 L516.65,102.45 L516.90,103.70 L517.15,103.95 L517.40,104.20 L517.65,104.45 L517.90,104.70 L518.15,104.95 L518.40,105.20 L518.65,105.45 L518.90,105.70 L519.15,105.94 L519.40,106.17 L519.65,106.41 L519.90,106.65 L520.15,106.89 L520.40,107.12 L520.65,107.36 L520.90,107.60 L521.15,107.86 L521.40,108.13 L521.65,108.39 L521.90,108.65 L522.15,108.92 L522.40,109.18 L522.65,109.44 L522.90,109.70 L523.15,109.95 L523.40,110.20 L523.65,110.45 L523.90,110.70 L524.15,110.95 L524.40,111.20 L524.65,111.45 L524.90,111.70 L525.15,111.95 L525.40,112.20 L525.65,112.45 L525.90,112.70 L526.15,112.95 L526.40,113.20 L526.65,113.45 L526.90,113.50 L527.15,113.25 L527.40,113.00 L527.65,112.75 L527.90,112.50 L528.15,112.25 L528.40,112.00 L528.65,111.75 L528.90,111.70 L529.15,111.95 L529.40,112.20 L529.65,112.45 L529.90,112.70 L530.15,112.95 L530.40,113.20 L530.65,113.45 L530.90,112.90 L531.15,111.17 L531.40,109.43 L531.65,107.69 L531.90,105.95 L532.15,106.05 L532.40,107.60 L532.65,106.55 L532.90,105.49 L533.15,104.44 L533.40,103.39 L533.65,102.33 L533.90,102.26 L534.15,103.67 L534.40,105.09 L534.65,106.50 L534.90,107.91 L535.15,109.32 L535.40,109.11 L535.65,108.50 L535.90,107.89 L536.15,107.28 L536.40,106.67 L536.65,106.07 L536.90,106.97 L537.15,110.14 L537.40,113.31 L537.65,116.48 L537.90,119.66 L538.15,122.83 L538.40,126.00 L538.65,124.14 L538.90,122.29 L539.15,120.43 L539.40,118.57 L539.65,116.71 L539.90,114.80 L540.15,112.82 L540.40,110.83 L540.65,108.84 L540.90,106.85 L541.15,104.87 L541.40,102.88 L541.65,100.89 L541.90,99.00 L542.15,97.25 L542.40,95.50 L542.65,93.75 L542.90,92.00 L543.15,90.25 L543.40,88.50 L543.65,86.75 L543.90,85.60 L544.15,85.35 L544.40,85.10 L544.65,84.85 L544.90,84.60 L545.15,84.35 L545.40,84.10 L545.65,83.85 L545.90,83.49 L546.15,82.98 L546.40,82.47 L546.65,81.96 L546.90,81.44 L547.15,80.93 L547.40,80.42 L547.65,79.90 L547.90,79.40 L548.15,78.90 L548.40,78.40 L548.65,77.90 L548.90,77.40 L549.15,76.90 L549.40,76.40 L549.65,75.90 L549.90,75.00 L550.15,74.00 L550.40,73.00 L550.65,72.00 L550.90,71.00 L551.15,70.00 L551.40,69.00 L551.65,68.00 L551.90,66.90 L552.15,65.78 L552.40,64.65 L552.65,63.53 L552.90,62.40 L553.15,61.28 L553.40,60.15 L553.65,59.03 L553.90,58.53 L554.15,58.19 L554.40,57.85 L554.65,57.51 L554.90,57.17 L555.15,56.44 L555.40,54.15 L555.65,55.54 L555.90,57.31 L556.15,59.08 L556.40,60.85 L556.65,62.62 L556.90,64.39 L557.15,65.86 L557.40,66.17 L557.65,66.49 L557.90,66.80 L558.15,67.11 L558.40,67.42 L558.65,67.74 L558.90,67.60 L559.15,67.35 L559.40,67.10 L559.65,66.85 L559.90,66.60 L560.15,66.35 L560.40,66.10 L560.65,65.85 L560.90,64.41 L561.15,62.67 L561.40,60.94 L561.65,59.20 L561.90,57.46 L562.15,55.72 L562.40,53.99 L562.65,52.25 L562.90,52.64 L563.15,53.56 L563.40,54.48 L563.65,55.40 L563.90,56.33 L564.15,57.25 L564.40,58.51 L564.65,60.30 L564.90,62.09 L565.15,63.87 L565.40,65.66 L565.65,67.44 L565.90,68.94 L566.15,70.37 L566.40,71.80 L566.65,73.23 L566.90,74.66 L567.15,75.99 L567.40,76.92 L567.65,77.86 L567.90,78.80 L568.15,79.74 L568.40,80.67 L568.65,81.61 L568.90,81.60 L569.15,81.35 L569.40,81.10 L569.65,80.85 L569.90,80.60 L570.15,80.35 L570.40,80.10 L570.65,79.85 L570.90,80.63 L571.15,81.67 L571.40,82.71 L571.65,83.75 L571.90,84.79 L572.15,85.83 L572.40,86.87 L572.65,87.84 L572.90,88.56 L573.15,89.27 L573.40,89.99 L573.65,90.70 L573.90,91.41 L574.15,90.81 L574.40,89.32 L574.65,87.83 L574.90,86.35 L575.15,84.86 L575.40,83.37 L575.65,81.88 L575.90,80.40 L576.15,79.28 L576.40,78.40 L576.65,77.53 L576.90,76.65 L577.15,75.78 L577.40,75.20 L577.65,77.32 L577.90,79.45 L578.15,81.57 L578.40,83.70 L578.65,85.26 L578.90,86.82 L579.15,88.39 L579.40,89.95 L579.65,91.51 L579.90,93.07 L580.15,93.51 L580.40,93.20 L580.65,92.89 L580.90,92.58 L581.15,92.26 L581.40,91.95 L581.65,91.91 L581.90,92.99 L582.15,94.06 L582.40,95.13 L582.65,96.20 L582.90,97.27 L583.15,97.49 L583.40,97.99 L583.65,99.41 L583.90,100.84 L584.15,102.27 L584.40,103.70 L584.65,104.31 L584.90,104.92 L585.15,105.53 L585.40,106.14 L585.65,106.75 L585.90,107.36 L586.15,108.90 L586.40,111.06 L586.65,113.22 L586.90,115.38 L587.15,117.55 L587.40,119.71 L587.65,121.87 L587.90,124.03 L588.15,126.54 L588.40,127.90 L588.65,127.90 L588.90,127.90 L589.15,127.90 L589.40,127.90 L589.65,127.90 L589.90,127.90 L590.15,127.90 L590.40,127.90 L590.65,127.90 L590.90,127.90 L591.15,127.90 L591.40,127.90 L591.65,127.90 L591.90,127.90 L592.15,127.90 L592.40,127.90 L592.65,127.90 L592.90,127.90 L593.15,127.90 L593.40,127.90 L593.65,127.90 L593.90,127.90 L594.15,127.90 L594.40,127.30 L594.65,126.30 L594.90,125.30 L595.15,124.30 L595.40,123.30 L595.65,126.78 L595.90,127.90 L596.15,127.90 L596.40,127.90 L596.65,127.90 L596.90,127.90 L597.15,127.90 L597.40,127.90 L597.65,127.90 L597.90,127.90 L598.15,127.90 L598.40,127.30 L598.65,126.30 L598.90,125.30 L599.15,124.30 L599.40,123.30 L599.65,122.30 L599.90,121.30 L600.15,120.60 L600.40,120.10 L600.65,119.60 L600.90,119.10 L601.15,118.60 L601.40,118.10 L601.65,117.60 L601.90,117.10 L602.15,117.50 L602.40,118.50 L602.65,119.50 L602.90,120.50 L603.15,121.50 L603.40,122.50 L603.65,123.50 L603.90,124.50 L604.15,125.64 L604.40,126.88 L604.65,127.90 L604.90,127.90 L605.15,127.90 L605.40,127.90 L605.65,127.90 L605.90,127.90 L606.15,127.90 L606.40,127.90 L606.65,128.40 L606.90,128.90 L607.15,128.65 L607.40,128.40 L607.65,128.15 L607.90,127.90 L608.15,127.90 L608.40,127.90 L608.65,127.90 L608.90,127.90 L609.15,128.20 L609.40,127.90 L609.65,127.90 L609.90,127.90 L610.15,127.90 L610.40,127.90 L610.65,127.90 L610.90,127.90 L611.15,127.90 L611.40,127.90 L611.65,127.90 L611.90,127.90 L612.15,127.90 L612.40,127.90 L612.65,127.90 L612.90,127.90 L613.15,127.90 L613.40,127.90 L613.65,127.90 L613.90,127.90 L614.15,127.90 L614.40,127.90 L614.65,127.90 L614.90,127.90 L615.15,127.90 L615.40,127.90 L615.65,127.90 L615.90,127.90 L616.15,127.90 L616.40,127.90 L616.65,127.90 L616.90,127.90 L617.15,127.90 L617.40,127.90 L617.65,127.90 L617.90,127.90 L618.15,127.90 L618.40,127.90 L618.65,127.90 L618.90,127.90 L619.15,127.90 L619.40,127.90 L619.65,127.90 L619.90,127.90 L620.15,127.90 L620.40,127.90 L620.65,127.90 L620.90,127.90 L621.15,127.90 L621.40,127.90 L621.65,127.90 L621.90,127.90 L622.15,127.90 L622.40,127.90 L622.65,127.90 L622.90,127.90 L623.15,127.90 L623.40,127.90 L623.65,127.90 L623.90,127.90 L624.15,127.90 L624.40,127.90 L624.65,127.90 L624.90,127.90 L625.15,127.90 L625.40,127.90 L625.65,127.90 L625.90,127.90 L626.15,127.90 L626.40,127.90 L626.65,127.90 L626.90,127.90 L627.15,127.90 L627.40,127.90 L627.65,127.90 L627.90,127.90 L628.15,127.90 L628.40,127.90 L628.65,127.90 L628.90,127.90 L629.15,127.90 L629.40,127.90 L629.65,127.90 L629.90,127.90 L630.15,127.90 L630.40,127.90 L630.65,127.90 L630.90,127.90 L631.15,127.90 L631.40,127.90 L631.65,127.90 L631.90,127.90 L632.15,127.90 L632.40,127.90 L632.65,127.90 L632.90,127.90 L633.15,127.90 L633.40,127.90 L633.65,127.90 L633.90,127.90 L634.15,127.90 L634.40,127.90 L634.65,127.90 L634.90,127.90 L635.15,127.90 L635.40,127.90 L635.65,127.90 L635.90,127.90 L636.15,127.90 L636.40,127.90 L636.65,127.90 L636.90,127.90 L637.15,127.90 L637.40,127.90 L637.65,127.90 L637.90,127.90 L638.15,127.90 L638.40,127.90 L638.65,127.90 L638.90,127.90 L639.15,127.90 L639.40,127.90 L639.65,127.90 L639.90,127.90 L640.15,127.90 L640.40,127.90 L640.65,127.90 L640.90,127.90 L641.15,127.90 L641.40,127.90 L641.65,127.90 L641.90,127.90 L642.15,127.90 L642.40,127.90 L642.65,127.90 L642.90,127.90 L643.15,127.90 L643.40,127.90 L643.65,127.90 L643.90,127.90 L644.15,128.23 L644.40,128.96 L644.65,129.70 L644.90,130.44 L645.15,131.18 L645.40,131.91 L645.65,132.65 L645.90,133.20 L646.15,133.70 L646.40,134.20 L646.65,134.70 L646.90,135.20 L647.15,135.70 L647.40,136.20 L647.65,136.70 L647.90,137.60 L648.15,138.60 L648.40,139.60 L648.65,140.60 L648.90,141.60 L649.15,142.60 L649.40,143.60 L649.65,144.60 L649.90,145.20 L650.15,145.70 L650.40,146.20 L650.65,146.70 L650.90,147.20 L651.15,147.70 L651.40,148.20 L651.65,148.70 L651.90,148.60 L652.15,148.35 L652.40,148.10 L652.65,147.85 L652.90,147.60 L653.15,147.35 L653.40,147.10 L653.65,146.85 L653.90,147.00 L654.15,147.25 L654.40,147.50 L654.65,147.75 L654.90,148.00 L655.15,146.95 L655.40,143.79 L655.65,140.63 L655.90,137.69 L656.15,134.80 L656.40,131.92 L656.65,129.03 L656.90,127.90 L657.15,127.90 L657.40,127.90 L657.65,127.90 L657.90,127.90 L658.15,127.90 L658.40,127.90 L658.65,127.90 L658.90,127.90 L659.15,127.90 L659.40,127.90 L659.65,127.90 L659.90,127.90 L660.15,127.90 L660.40,127.90 L660.65,127.90 L660.90,127.90 L661.15,127.90 L661.40,127.90 L661.65,127.90 L661.90,127.90 L662.15,127.90 L662.40,127.90 L662.65,127.90 L662.90,127.07 L663.15,125.58 L663.40,124.09 L663.65,122.71 L663.90,121.78 L664.15,120.84 L664.40,119.90 L664.65,121.20 L664.90,122.70 L665.15,124.20 L665.40,125.70 L665.65,127.10 L665.90,127.90 L666.15,127.90 L666.40,127.90 L666.65,128.43 L666.90,130.41 L667.15,132.40 L667.15,127.9 L487.40,127.9 Z" fill="#82d0f3" stroke="none"/>
<path d="M42.40,393.80 L44.00,375.90 L45.60,364.00 L47.00,369.90 L48.40,367.90 L50.00,371.90 L52.00,379.90 L53.90,385.90 L55.90,395.80 L57.50,377.90 L58.90,361.60 L59.90,345.70 L61.90,339.70 L63.90,341.70 L65.90,345.70 L67.90,351.70 L69.90,357.60 L70.90,367.90 L71.90,363.60 L73.90,353.70 L75.90,337.70 L77.80,329.80 L79.80,337.70 L81.80,349.70 L83.80,359.60 L85.80,345.70 L87.80,329.80 L89.80,317.80 L91.80,305.90 L93.80,295.90 L95.80,303.90 L97.80,309.80 L99.80,313.80 L101.80,317.80 L103.70,309.80 L105.70,298.90 L107.70,299.90 L109.70,307.80 L111.70,315.80 L113.70,329.80 L115.30,349.70 L116.70,331.80 L118.70,317.80 L120.70,311.80 L122.70,317.80 L124.70,321.80 L126.70,319.80 L128.60,317.80 L130.60,315.80 L132.60,311.80 L134.00,311.80 L135.60,317.80 L137.00,329.80 L139.00,329.80 L141.00,323.80 L142.90,317.80 L144.30,323.80 L145.90,333.70 L147.50,325.80 L148.90,337.70 L150.30,345.70 L151.90,358.00 L153.90,365.90 L155.90,373.90 L157.90,379.90 L159.90,375.90 L161.90,369.90 L163.90,377.90 L165.90,383.90 L167.80,387.80 L169.80,383.90 L171.80,385.90 L173.80,381.90 L175.80,375.90 L177.80,383.90 L179.80,389.80 L181.80,383.90 L183.80,379.90 L185.80,377.90 L187.80,373.90 L189.80,377.90 L191.80,385.90 L193.70,393.80 L195.70,397.80 L197.70,391.80 L199.70,385.90 L201.70,381.90 L203.70,385.90 L205.70,391.80 L207.70,393.80 L209.30,389.80 L210.70,379.90 L211.70,369.90 L213.70,355.00 L215.70,356.00 L217.60,358.00 L219.60,362.00 L221.60,369.90 L221.6,360.0 L42.4,360.0 Z" fill="#ddf0fa" stroke="none"/>
<path d="M42.40,341.70 L44.00,329.80 L46.00,327.80 L47.60,317.80 L49.00,316.80 L50.40,308.80 L52.00,313.80 L53.50,331.80 L55.00,329.80 L56.30,335.70 L57.90,324.80 L58.90,333.70 L59.90,337.70 L61.50,335.70 L62.90,341.70 L64.30,339.70 L65.90,329.80 L67.50,323.80 L68.90,328.80 L70.30,335.70 L71.90,343.70 L73.50,331.80 L74.90,323.80 L76.90,321.80 L78.80,315.80 L80.20,321.80 L81.80,317.80 L83.40,321.80 L84.80,327.80 L86.20,325.80 L87.80,327.80 L89.40,323.80 L90.80,315.80 L92.20,311.80 L93.80,319.80 L95.40,331.80 L96.80,325.80 L98.20,329.80 L99.80,333.70 L101.40,319.80 L102.70,315.80 L104.10,325.80 L105.70,315.80 L107.30,313.80 L108.70,317.80 L110.10,321.80 L111.70,321.80 L113.30,317.80 L114.70,313.80 L116.30,306.90 L117.70,313.80 L119.30,309.80 L120.70,300.90 L122.10,303.90 L123.70,315.80 L125.30,311.80 L126.70,327.80 L128.00,325.80 L129.60,327.80 L131.60,337.70 L133.60,341.70 L135.60,349.70 L137.60,355.70 L139.00,341.70 L140.40,327.80 L141.60,329.80 L142.90,339.70 L144.30,345.70 L145.90,331.80 L147.50,329.80 L148.90,339.70 L150.30,349.70 L151.90,339.70 L153.50,341.70 L154.90,345.70 L156.30,347.70 L157.90,335.70 L158.90,329.80 L159.90,335.70 L160.90,349.70 L161.90,362.00 L162.90,371.90 L163.90,377.90 L164.90,381.90 L165.90,375.90 L167.80,379.90 L169.80,385.90 L170.80,381.90 L172.20,395.80 L173.80,401.80 L175.40,389.80 L176.80,383.90 L178.20,401.80 L179.80,403.80 L181.40,399.80 L182.80,403.80 L184.20,389.80 L185.80,385.90 L187.40,397.80 L188.80,399.80 L190.80,391.80 L192.70,395.80 L194.70,387.80 L196.70,389.80 L198.70,383.90 L200.70,385.90 L202.10,381.90 L204.10,379.90 L205.70,377.90 L207.30,369.90 L208.70,354.00 L209.70,349.70 L211.70,339.70 L213.30,329.80 L214.70,333.70 L216.10,337.70 L217.60,335.70 L218.60,345.70 L219.60,357.60 L220.60,362.00 L222.00,356.00 L222.0,360.0 L42.4,360.0 Z" fill="#a3dcf5" stroke="none"/>
<path d="M42.40,360.00 L42.65,360.00 L42.90,360.00 L43.15,360.00 L43.40,360.00 L43.65,360.00 L43.90,360.00 L44.15,360.00 L44.40,360.00 L44.65,360.00 L44.90,360.00 L45.15,360.00 L45.40,360.00 L45.65,360.00 L45.90,360.00 L46.15,360.00 L46.40,360.00 L46.65,360.00 L46.90,360.00 L47.15,360.00 L47.40,360.00 L47.65,360.00 L47.90,360.00 L48.15,360.00 L48.40,360.00 L48.65,360.00 L48.90,360.00 L49.15,360.00 L49.40,360.00 L49.65,360.00 L49.90,360.00 L50.15,360.00 L50.40,360.00 L50.65,360.00 L50.90,360.00 L51.15,360.00 L51.40,360.00 L51.65,360.00 L51.90,360.00 L52.15,360.00 L52.40,360.00 L52.65,360.00 L52.90,360.00 L53.15,360.00 L53.40,360.00 L53.65,360.00 L53.90,360.00 L54.15,360.00 L54.40,360.00 L54.65,360.00 L54.90,360.00 L55.15,360.00 L55.40,360.00 L55.65,360.00 L55.90,360.00 L56.15,360.00 L56.40,360.00 L56.65,360.00 L56.90,360.00 L57.15,360.00 L57.40,360.00 L57.65,360.00 L57.90,360.00 L58.15,360.00 L58.40,360.00 L58.65,360.00 L58.90,360.00 L59.15,357.62 L59.40,353.65 L59.65,349.68 L59.90,345.70 L60.15,344.95 L60.40,344.20 L60.65,343.45 L60.90,342.70 L61.15,341.95 L61.40,341.20 L61.65,340.45 L61.90,339.70 L62.15,339.95 L62.40,340.20 L62.65,340.63 L62.90,341.70 L63.15,341.34 L63.40,341.20 L63.65,341.45 L63.90,341.70 L64.15,342.20 L64.40,342.70 L64.65,343.20 L64.90,343.70 L65.15,344.20 L65.40,344.70 L65.65,345.20 L65.90,345.70 L66.15,346.45 L66.40,347.20 L66.65,347.95 L66.90,348.70 L67.15,349.45 L67.40,350.20 L67.65,350.95 L67.90,351.70 L68.15,352.44 L68.40,353.18 L68.65,353.91 L68.90,354.65 L69.15,355.39 L69.40,356.12 L69.65,356.86 L69.90,357.60 L70.15,360.00 L70.40,360.00 L70.65,360.00 L70.90,360.00 L71.15,360.00 L71.40,360.00 L71.65,360.00 L71.90,360.00 L72.15,360.00 L72.40,360.00 L72.65,359.89 L72.90,358.65 L73.15,357.41 L73.40,356.18 L73.65,354.94 L73.90,353.70 L74.15,351.70 L74.40,349.70 L74.65,347.70 L74.90,345.70 L75.15,343.70 L75.40,341.70 L75.65,339.70 L75.90,337.70 L76.15,336.66 L76.40,335.62 L76.65,334.58 L76.90,333.54 L77.15,332.50 L77.40,331.46 L77.65,330.42 L77.90,330.20 L78.15,331.18 L78.40,332.17 L78.65,333.16 L78.90,334.15 L79.15,335.13 L79.40,336.12 L79.65,337.11 L79.90,338.30 L80.15,339.80 L80.40,341.30 L80.65,342.80 L80.90,344.30 L81.15,345.80 L81.40,347.30 L81.65,348.80 L81.90,350.20 L82.15,351.43 L82.40,352.67 L82.65,353.91 L82.90,355.15 L83.15,356.38 L83.40,357.62 L83.65,358.86 L83.90,358.90 L84.15,357.17 L84.40,355.43 L84.65,353.69 L84.90,351.95 L85.15,350.22 L85.40,348.48 L85.65,346.74 L85.90,344.90 L86.15,342.92 L86.40,340.93 L86.65,338.94 L86.90,336.95 L87.15,334.97 L87.40,332.98 L87.65,330.99 L87.90,329.20 L88.15,327.70 L88.40,326.30 L88.65,325.68 L88.90,325.05 L89.15,324.43 L89.40,323.80 L89.65,322.37 L89.90,320.94 L90.15,319.51 L90.40,318.09 L90.65,316.66 L90.90,315.51 L91.15,314.80 L91.40,314.09 L91.65,313.37 L91.90,312.66 L92.15,311.94 L92.40,312.80 L92.65,314.05 L92.90,315.30 L93.15,316.55 L93.40,317.80 L93.65,319.05 L93.90,320.55 L94.15,322.43 L94.40,324.30 L94.65,326.18 L94.90,328.05 L95.15,329.93 L95.40,331.80 L95.65,330.73 L95.90,329.66 L96.15,328.59 L96.40,327.51 L96.65,326.44 L96.90,326.09 L97.15,326.80 L97.40,327.51 L97.65,328.23 L97.90,328.94 L98.15,329.66 L98.40,330.29 L98.65,330.90 L98.90,331.51 L99.15,332.12 L99.40,332.73 L99.65,333.33 L99.90,332.83 L100.15,330.66 L100.40,328.49 L100.65,326.32 L100.90,324.14 L101.15,321.97 L101.40,319.80 L101.65,319.03 L101.90,318.26 L102.15,317.49 L102.40,316.72 L102.65,315.95 L102.90,317.23 L103.15,319.01 L103.40,320.80 L103.65,322.59 L103.90,324.37 L104.15,325.49 L104.40,323.92 L104.65,322.36 L104.90,320.80 L105.15,319.24 L105.40,317.67 L105.65,316.11 L105.90,315.55 L106.15,315.24 L106.40,314.93 L106.65,314.61 L106.90,314.30 L107.15,313.99 L107.40,314.09 L107.65,314.80 L107.90,315.51 L108.15,316.23 L108.40,316.94 L108.65,317.66 L108.90,318.37 L109.15,319.09 L109.40,319.80 L109.65,320.51 L109.90,321.23 L110.15,321.80 L110.40,321.80 L110.65,321.80 L110.90,321.80 L111.15,321.80 L111.40,321.80 L111.65,321.80 L111.90,321.30 L112.15,320.68 L112.40,320.70 L112.65,322.45 L112.90,324.20 L113.15,325.95 L113.40,327.70 L113.65,329.45 L113.90,332.29 L114.15,335.40 L114.40,338.51 L114.65,341.62 L114.90,344.73 L115.15,347.83 L115.40,348.42 L115.65,345.22 L115.90,342.03 L116.15,338.83 L116.40,335.64 L116.65,332.44 L116.90,330.40 L117.15,328.65 L117.40,326.90 L117.65,325.15 L117.90,323.40 L118.15,321.65 L118.40,319.90 L118.65,318.15 L118.90,317.20 L119.15,316.45 L119.40,315.70 L119.65,314.95 L119.90,314.20 L120.15,313.45 L120.40,312.70 L120.65,311.95 L120.90,312.40 L121.15,313.15 L121.40,313.90 L121.65,314.65 L121.90,315.40 L122.15,316.15 L122.40,316.90 L122.65,317.65 L122.90,318.20 L123.15,318.70 L123.40,319.20 L123.65,319.70 L123.90,320.20 L124.15,320.70 L124.40,321.20 L124.65,321.70 L124.90,321.60 L125.15,321.35 L125.40,321.10 L125.65,320.85 L125.90,320.60 L126.15,321.51 L126.40,324.37 L126.65,327.23 L126.90,327.49 L127.15,327.11 L127.40,326.72 L127.65,326.34 L127.90,325.95 L128.15,325.99 L128.40,326.30 L128.65,326.61 L128.90,326.93 L129.15,327.24 L129.40,327.55 L129.65,328.05 L129.90,329.29 L130.15,330.52 L130.40,331.76 L130.65,333.00 L130.90,334.24 L131.15,335.47 L131.40,336.71 L131.65,337.80 L131.90,338.30 L132.15,338.80 L132.40,339.30 L132.65,339.80 L132.90,340.30 L133.15,340.80 L133.40,341.30 L133.65,341.90 L133.90,342.90 L134.15,343.90 L134.40,344.90 L134.65,345.90 L134.90,346.90 L135.15,347.90 L135.40,348.90 L135.65,349.85 L135.90,350.60 L136.15,351.35 L136.40,352.10 L136.65,352.85 L136.90,353.60 L137.15,354.35 L137.40,355.10 L137.65,355.20 L137.90,352.70 L138.15,350.20 L138.40,347.70 L138.65,345.20 L138.90,342.70 L139.15,340.21 L139.40,337.73 L139.65,335.25 L139.90,332.76 L140.15,330.28 L140.40,327.80 L140.65,328.22 L140.90,328.63 L141.15,329.05 L141.40,329.47 L141.65,330.18 L141.90,332.08 L142.15,333.99 L142.40,335.89 L142.65,337.80 L142.90,339.70 L143.15,340.77 L143.40,341.84 L143.65,342.91 L143.90,343.99 L144.15,345.06 L144.40,344.83 L144.65,342.66 L144.90,340.49 L145.15,338.32 L145.40,336.14 L145.65,333.97 L145.90,333.70 L146.15,332.47 L146.40,331.23 L146.65,330.86 L146.90,330.55 L147.15,330.24 L147.40,329.93 L147.65,330.86 L147.90,332.63 L148.15,334.40 L148.40,336.16 L148.65,337.93 L148.90,339.70 L149.15,341.49 L149.40,343.27 L149.65,345.06 L149.90,346.84 L150.15,348.63 L150.40,349.08 L150.65,348.39 L150.90,350.31 L151.15,352.23 L151.40,354.16 L151.65,356.08 L151.90,358.00 L152.15,358.99 L152.40,359.98 L152.65,360.00 L152.90,360.00 L153.15,360.00 L153.40,360.00 L153.65,360.00 L153.90,360.00 L154.15,360.00 L154.40,360.00 L154.65,360.00 L154.90,360.00 L155.15,360.00 L155.40,360.00 L155.65,360.00 L155.90,360.00 L156.15,360.00 L156.40,360.00 L156.65,360.00 L156.90,360.00 L157.15,360.00 L157.40,360.00 L157.65,360.00 L157.90,360.00 L158.15,360.00 L158.40,360.00 L158.65,360.00 L158.90,360.00 L159.15,360.00 L159.40,360.00 L159.65,360.00 L159.90,360.00 L160.15,360.00 L160.40,360.00 L160.65,360.00 L160.90,360.00 L161.15,360.00 L161.40,360.00 L161.65,360.00 L161.90,362.00 L162.15,364.48 L162.40,366.95 L162.65,369.42 L162.90,371.90 L163.15,373.40 L163.40,374.90 L163.65,376.40 L163.90,377.90 L164.15,378.65 L164.40,379.40 L164.65,380.15 L164.90,380.90 L165.15,380.40 L165.40,378.90 L165.65,377.40 L165.90,375.90 L166.15,376.43 L166.40,376.95 L166.65,377.48 L166.90,378.01 L167.15,378.53 L167.40,379.06 L167.65,379.58 L167.90,380.20 L168.15,380.95 L168.40,381.70 L168.65,382.45 L168.90,383.20 L169.15,383.95 L169.40,384.68 L169.65,384.19 L169.90,384.00 L170.15,384.25 L170.40,383.50 L170.65,382.50 L170.90,382.89 L171.15,385.25 L171.40,385.50 L171.65,385.75 L171.90,385.70 L172.15,385.20 L172.40,384.70 L172.65,384.20 L172.90,383.70 L173.15,383.20 L173.40,382.70 L173.65,382.20 L173.90,381.60 L174.15,380.85 L174.40,380.10 L174.65,379.35 L174.90,378.60 L175.15,377.85 L175.40,377.10 L175.65,376.35 L175.90,376.30 L176.15,377.30 L176.40,378.30 L176.65,379.30 L176.90,380.30 L177.15,381.30 L177.40,382.30 L177.65,383.30 L177.90,384.19 L178.15,384.93 L178.40,385.67 L178.65,386.41 L178.90,387.14 L179.15,387.88 L179.40,388.62 L179.65,389.36 L179.90,389.51 L180.15,388.77 L180.40,388.03 L180.65,387.29 L180.90,386.56 L181.15,385.82 L181.40,385.08 L181.65,384.34 L181.90,383.70 L182.15,383.20 L182.40,382.70 L182.65,382.20 L182.90,381.70 L183.15,381.20 L183.40,380.70 L183.65,380.20 L183.90,379.80 L184.15,379.55 L184.40,379.30 L184.65,379.05 L184.90,378.80 L185.15,378.55 L185.40,378.30 L185.65,378.05 L185.90,377.70 L186.15,377.20 L186.40,376.70 L186.65,376.20 L186.90,375.70 L187.15,375.20 L187.40,374.70 L187.65,374.20 L187.90,374.10 L188.15,374.60 L188.40,375.10 L188.65,375.60 L188.90,376.10 L189.15,376.60 L189.40,377.10 L189.65,377.60 L189.90,378.30 L190.15,379.30 L190.40,380.30 L190.65,381.30 L190.90,382.30 L191.15,383.30 L191.40,384.30 L191.65,385.30 L191.90,386.32 L192.15,387.36 L192.40,388.39 L192.65,389.43 L192.90,390.47 L193.15,391.51 L193.40,392.55 L193.65,392.00 L193.90,391.00 L194.15,390.00 L194.40,389.00 L194.65,388.00 L194.90,388.00 L195.15,388.25 L195.40,388.50 L195.65,388.75 L195.90,389.00 L196.15,389.25 L196.40,389.50 L196.65,389.75 L196.90,389.21 L197.15,388.47 L197.40,387.73 L197.65,387.00 L197.90,386.26 L198.15,385.52 L198.40,384.78 L198.65,384.05 L198.90,384.10 L199.15,384.35 L199.40,384.60 L199.65,384.85 L199.90,385.10 L200.15,385.00 L200.40,384.50 L200.65,384.00 L200.90,383.50 L201.15,383.00 L201.40,382.50 L201.65,382.00 L201.90,382.30 L202.15,381.85 L202.40,381.60 L202.65,381.35 L202.90,381.10 L203.15,380.85 L203.40,380.60 L203.65,380.35 L203.90,380.10 L204.15,379.84 L204.40,379.52 L204.65,379.21 L204.90,378.90 L205.15,378.59 L205.40,378.27 L205.65,377.96 L205.90,376.90 L206.15,375.65 L206.40,374.40 L206.65,373.15 L206.90,371.90 L207.15,370.65 L207.40,368.76 L207.65,365.92 L207.90,363.09 L208.15,360.25 L208.40,360.00 L208.65,360.00 L208.90,360.00 L209.15,360.00 L209.40,360.00 L209.65,360.00 L209.90,360.00 L210.15,360.00 L210.40,360.00 L210.65,360.00 L210.90,360.00 L211.15,360.00 L211.40,360.00 L211.65,360.00 L211.90,360.00 L212.15,360.00 L212.40,360.00 L212.65,360.00 L212.90,360.00 L213.15,359.10 L213.40,357.23 L213.65,355.37 L213.90,355.10 L214.15,355.23 L214.40,355.35 L214.65,355.48 L214.90,355.60 L215.15,355.73 L215.40,355.85 L215.65,355.98 L215.90,356.21 L216.15,356.47 L216.40,356.74 L216.65,357.00 L216.90,357.26 L217.15,357.53 L217.40,357.79 L217.65,358.10 L217.90,358.60 L218.15,359.10 L218.40,359.60 L218.65,360.00 L218.90,360.00 L219.15,360.00 L219.40,360.00 L219.65,360.00 L219.90,360.00 L220.15,360.02 L220.40,361.12 L220.65,361.79 L220.90,360.71 L221.15,360.00 L221.40,360.00 L221.40,360.0 L42.40,360.0 Z" fill="#82d0f3" stroke="none"/>
<path d="M264.50,330.00 L265.00,323.80 L267.00,321.80 L269.00,319.80 L271.00,313.80 L273.00,305.90 L274.90,300.90 L276.90,299.90 L278.90,304.90 L280.90,306.90 L282.90,303.90 L284.90,307.80 L286.90,304.90 L288.90,301.90 L290.90,293.90 L292.90,290.90 L294.90,295.90 L296.90,293.90 L298.90,301.90 L300.80,297.90 L302.80,293.90 L304.80,290.90 L306.80,293.90 L308.80,291.90 L310.80,285.90 L312.20,295.90 L313.80,295.90 L315.80,291.90 L317.80,297.90 L319.80,301.90 L321.80,307.80 L323.80,309.80 L325.70,307.80 L327.70,319.80 L329.70,325.80 L331.70,335.70 L333.70,345.70 L334.70,337.70 L336.10,359.60 L337.70,363.60 L339.30,333.70 L340.70,341.70 L342.70,349.70 L344.10,353.70 L345.70,359.60 L347.70,365.60 L349.60,339.70 L352.00,339.70 L354.00,329.80 L356.00,321.80 L357.60,327.80 L359.00,335.70 L361.00,349.70 L362.40,357.60 L364.90,371.90 L366.90,377.90 L368.30,385.90 L369.90,381.90 L371.90,377.90 L373.90,383.90 L375.90,389.80 L377.90,379.90 L379.90,383.90 L381.90,371.90 L383.50,377.90 L384.90,373.90 L386.30,373.90 L387.80,379.90 L389.80,387.80 L391.80,393.80 L393.80,397.80 L395.40,407.80 L396.80,417.70 L398.20,413.70 L399.80,415.70 L401.40,411.80 L402.80,419.70 L404.20,425.70 L405.80,409.80 L407.40,403.80 L408.80,405.80 L410.20,409.80 L411.80,415.70 L413.30,425.70 L414.70,435.70 L416.10,443.60 L417.70,439.60 L419.30,443.60 L420.70,445.60 L422.10,439.60 L424.10,443.60 L425.70,439.60 L427.70,443.60 L429.30,441.60 L430.70,425.70 L432.10,409.80 L433.70,397.80 L435.30,385.90 L436.70,375.90 L438.00,371.90 L439.60,365.90 L441.20,362.00 L442.60,356.00 L444.60,365.90 L444.6,360.0 L264.5,360.0 Z" fill="#ddf0fa" stroke="none"/>
<path d="M264.50,335.00 L265.00,329.80 L266.40,322.80 L268.00,323.80 L270.00,317.80 L272.00,309.80 L273.60,307.80 L274.90,311.80 L276.30,317.80 L277.90,313.80 L279.50,309.80 L280.90,313.80 L282.30,307.80 L283.90,305.90 L285.50,313.80 L286.90,321.80 L288.30,317.80 L289.90,331.80 L291.50,341.70 L292.90,353.70 L294.30,349.70 L295.90,327.80 L297.50,333.70 L298.90,343.70 L300.20,351.70 L301.80,369.90 L303.80,376.90 L305.40,367.90 L307.40,362.00 L308.80,356.00 L310.20,349.70 L311.80,341.70 L313.40,329.80 L314.80,327.80 L316.20,335.70 L317.80,345.70 L319.40,333.70 L320.80,325.80 L322.20,315.80 L323.40,301.90 L324.70,293.90 L325.70,291.90 L327.30,303.90 L328.70,311.80 L330.10,307.80 L331.70,315.80 L333.30,311.80 L334.70,317.80 L336.10,312.80 L337.70,313.80 L339.30,317.80 L340.70,321.80 L342.10,319.80 L343.70,313.80 L345.30,311.80 L346.70,315.80 L348.10,311.80 L349.60,305.90 L351.20,289.90 L352.60,283.90 L354.40,288.90 L356.00,293.90 L357.60,297.90 L359.00,302.90 L360.40,299.90 L362.00,298.90 L363.50,299.90 L364.90,305.90 L366.30,303.90 L367.90,307.80 L369.50,311.80 L370.90,309.80 L372.30,321.80 L373.90,331.80 L375.50,341.70 L376.90,350.70 L378.30,339.70 L379.90,327.80 L380.90,319.80 L381.90,337.70 L382.90,344.70 L384.30,329.80 L385.50,319.80 L386.90,323.80 L388.20,317.80 L389.80,321.80 L391.40,325.80 L392.80,339.70 L393.80,352.70 L395.40,335.70 L396.80,319.80 L398.20,310.80 L399.80,317.80 L401.40,325.80 L402.80,310.80 L404.20,315.80 L405.80,327.80 L407.40,333.70 L408.80,350.00 L410.80,366.00 L412.20,362.00 L413.70,358.00 L414.70,369.90 L415.70,389.80 L417.30,405.80 L418.70,417.70 L420.10,429.70 L421.30,437.60 L422.70,429.70 L424.10,417.70 L425.30,425.70 L426.70,417.70 L428.10,425.70 L429.30,415.70 L430.10,397.80 L431.70,391.80 L433.30,389.80 L434.70,387.80 L436.10,375.90 L437.60,367.90 L439.20,365.90 L440.60,362.00 L442.00,360.00 L443.60,369.90 L445.20,387.80 L445.2,360.0 L264.5,360.0 Z" fill="#a3dcf5" stroke="none"/>
<path d="M264.50,335.00 L264.75,332.40 L265.00,329.80 L265.25,328.55 L265.50,327.30 L265.75,326.05 L266.00,324.80 L266.25,323.55 L266.50,322.86 L266.75,323.02 L267.00,323.18 L267.25,323.33 L267.50,323.49 L267.75,323.64 L268.00,323.80 L268.25,323.05 L268.50,322.30 L268.75,321.55 L269.00,320.80 L269.25,320.05 L269.50,319.30 L269.75,318.55 L270.00,317.80 L270.25,316.80 L270.50,315.80 L270.75,314.80 L271.00,313.80 L271.25,312.81 L271.50,311.82 L271.75,310.84 L272.00,309.85 L272.25,309.49 L272.50,309.18 L272.75,308.86 L273.00,308.55 L273.25,308.24 L273.50,307.93 L273.75,308.26 L274.00,309.03 L274.25,309.80 L274.50,310.57 L274.75,311.34 L275.00,312.23 L275.25,313.30 L275.50,314.37 L275.75,315.44 L276.00,316.51 L276.25,317.59 L276.50,317.30 L276.75,316.68 L277.00,316.05 L277.25,315.43 L277.50,314.80 L277.75,314.17 L278.00,313.55 L278.25,312.92 L278.50,312.30 L278.75,311.67 L279.00,311.05 L279.25,310.43 L279.50,309.80 L279.75,310.51 L280.00,311.23 L280.25,311.94 L280.50,312.66 L280.75,313.37 L281.00,313.37 L281.25,312.30 L281.50,311.23 L281.75,310.16 L282.00,309.09 L282.25,308.01 L282.50,307.56 L282.75,307.27 L283.00,306.97 L283.25,306.67 L283.50,306.38 L283.75,306.08 L284.00,306.39 L284.25,307.63 L284.50,308.86 L284.75,310.10 L285.00,311.33 L285.25,312.57 L285.50,313.80 L285.75,315.23 L286.00,316.66 L286.25,318.09 L286.50,319.51 L286.75,320.94 L287.00,321.51 L287.25,320.80 L287.50,320.09 L287.75,319.37 L288.00,318.66 L288.25,317.94 L288.50,319.55 L288.75,321.74 L289.00,323.93 L289.25,326.11 L289.50,328.30 L289.75,330.49 L290.00,332.42 L290.25,333.97 L290.50,335.51 L290.75,337.06 L291.00,338.61 L291.25,340.15 L291.50,341.70 L291.75,343.84 L292.00,345.99 L292.25,348.13 L292.50,350.27 L292.75,352.41 L293.00,353.41 L293.25,352.70 L293.50,351.99 L293.75,351.27 L294.00,350.56 L294.25,349.84 L294.50,346.96 L294.75,343.54 L295.00,340.12 L295.25,336.70 L295.50,333.27 L295.75,329.85 L296.00,328.17 L296.25,329.09 L296.50,330.01 L296.75,330.93 L297.00,331.86 L297.25,332.78 L297.50,333.70 L297.75,335.49 L298.00,337.27 L298.25,339.06 L298.50,340.84 L298.75,342.63 L299.00,344.32 L299.25,345.85 L299.50,347.39 L299.75,348.93 L300.00,350.47 L300.25,352.27 L300.50,355.11 L300.75,357.96 L301.00,360.00 L301.25,360.00 L301.50,360.00 L301.75,360.00 L302.00,360.00 L302.25,360.00 L302.50,360.00 L302.75,360.00 L303.00,360.00 L303.25,360.00 L303.50,360.00 L303.75,360.00 L304.00,360.00 L304.25,360.00 L304.50,360.00 L304.75,360.00 L305.00,360.00 L305.25,360.00 L305.50,360.00 L305.75,360.00 L306.00,360.00 L306.25,360.00 L306.50,360.00 L306.75,360.00 L307.00,360.00 L307.25,360.00 L307.50,360.00 L307.75,360.00 L308.00,359.43 L308.25,358.36 L308.50,357.29 L308.75,356.21 L309.00,355.10 L309.25,353.98 L309.50,352.85 L309.75,351.72 L310.00,350.60 L310.25,349.45 L310.50,348.20 L310.75,346.95 L311.00,345.70 L311.25,344.45 L311.50,343.20 L311.75,341.95 L312.00,340.21 L312.25,338.35 L312.50,336.49 L312.75,334.63 L313.00,332.77 L313.25,330.92 L313.50,329.66 L313.75,329.30 L314.00,328.94 L314.25,328.59 L314.50,328.23 L314.75,327.87 L315.00,328.93 L315.25,330.34 L315.50,331.75 L315.75,333.16 L316.00,334.57 L316.25,336.01 L316.50,337.58 L316.75,339.14 L317.00,340.70 L317.25,342.26 L317.50,343.82 L317.75,345.39 L318.00,344.20 L318.25,342.32 L318.50,340.45 L318.75,338.57 L319.00,336.70 L319.25,334.82 L319.50,333.14 L319.75,331.72 L320.00,330.31 L320.25,328.90 L320.50,327.49 L320.75,326.08 L321.00,324.37 L321.25,322.59 L321.50,320.80 L321.75,319.01 L322.00,317.23 L322.25,315.22 L322.50,312.32 L322.75,309.43 L323.00,309.00 L323.25,309.25 L323.50,309.50 L323.75,309.75 L324.00,309.59 L324.25,309.33 L324.50,309.06 L324.75,308.80 L325.00,308.54 L325.25,308.27 L325.50,308.01 L325.75,308.10 L326.00,309.60 L326.25,311.10 L326.50,312.60 L326.75,314.10 L327.00,315.60 L327.25,317.10 L327.50,318.60 L327.75,319.95 L328.00,320.70 L328.25,321.45 L328.50,322.20 L328.75,322.95 L329.00,323.70 L329.25,324.45 L329.50,325.20 L329.75,326.05 L330.00,327.29 L330.25,328.52 L330.50,329.76 L330.75,331.00 L331.00,332.24 L331.25,333.47 L331.50,334.71 L331.75,335.95 L332.00,337.20 L332.25,338.45 L332.50,339.70 L332.75,340.95 L333.00,342.20 L333.25,343.45 L333.50,344.70 L333.75,345.30 L334.00,343.30 L334.25,341.30 L334.50,339.30 L334.75,338.48 L335.00,342.39 L335.25,346.30 L335.50,350.21 L335.75,354.12 L336.00,358.04 L336.25,359.97 L336.50,360.00 L336.75,360.00 L337.00,360.00 L337.25,360.00 L337.50,360.00 L337.75,360.00 L338.00,357.99 L338.25,353.32 L338.50,348.65 L338.75,343.98 L339.00,339.31 L339.25,334.63 L339.50,334.84 L339.75,336.27 L340.00,337.70 L340.25,339.13 L340.50,340.56 L340.75,341.90 L341.00,342.90 L341.25,343.90 L341.50,344.90 L341.75,345.90 L342.00,346.90 L342.25,347.90 L342.50,348.90 L342.75,349.84 L343.00,350.56 L343.25,351.27 L343.50,351.99 L343.75,352.70 L344.00,353.41 L344.25,354.25 L344.50,355.17 L344.75,356.10 L345.00,357.02 L345.25,357.94 L345.50,358.86 L345.75,359.75 L346.00,360.00 L346.25,360.00 L346.50,360.00 L346.75,360.00 L347.00,360.00 L347.25,360.00 L347.50,360.00 L347.75,360.00 L348.00,360.00 L348.25,358.10 L348.50,354.69 L348.75,351.29 L349.00,347.88 L349.25,344.47 L349.50,341.06 L349.75,339.70 L350.00,339.70 L350.25,339.70 L350.50,339.70 L350.75,339.70 L351.00,339.70 L351.25,339.70 L351.50,339.70 L351.75,339.70 L352.00,339.70 L352.25,338.46 L352.50,337.23 L352.75,335.99 L353.00,334.75 L353.25,333.51 L353.50,332.27 L353.75,331.04 L354.00,329.80 L354.25,328.80 L354.50,327.80 L354.75,326.80 L355.00,325.80 L355.25,324.80 L355.50,323.80 L355.75,322.80 L356.00,321.80 L356.25,322.74 L356.50,323.67 L356.75,324.61 L357.00,325.55 L357.25,326.49 L357.50,327.42 L357.75,328.65 L358.00,330.06 L358.25,331.47 L358.50,332.88 L358.75,334.29 L359.00,335.70 L359.25,337.45 L359.50,339.20 L359.75,340.95 L360.00,342.70 L360.25,344.45 L360.50,346.20 L360.75,347.95 L361.00,349.70 L361.25,351.11 L361.50,352.52 L361.75,353.93 L362.00,355.34 L362.25,356.75 L362.50,358.17 L362.75,359.60 L363.00,360.00 L363.25,360.00 L363.50,360.00 L363.75,360.00 L364.00,360.00 L364.25,360.00 L364.50,360.00 L364.75,360.00 L365.00,360.00 L365.25,360.00 L365.50,360.00 L365.75,360.00 L366.00,360.00 L366.25,360.00 L366.50,360.00 L366.75,360.00 L367.00,360.00 L367.25,360.00 L367.50,360.00 L367.75,360.00 L368.00,360.00 L368.25,360.00 L368.50,360.00 L368.75,360.00 L369.00,360.00 L369.25,360.00 L369.50,360.00 L369.75,360.00 L370.00,360.00 L370.25,360.00 L370.50,360.00 L370.75,360.00 L371.00,360.00 L371.25,360.00 L371.50,360.00 L371.75,360.00 L372.00,360.00 L372.25,360.00 L372.50,360.00 L372.75,360.00 L373.00,360.00 L373.25,360.00 L373.50,360.00 L373.75,360.00 L374.00,360.00 L374.25,360.00 L374.50,360.00 L374.75,360.00 L375.00,360.00 L375.25,360.00 L375.50,360.00 L375.75,360.00 L376.00,360.00 L376.25,360.00 L376.50,360.00 L376.75,360.00 L377.00,360.00 L377.25,360.00 L377.50,360.00 L377.75,360.00 L378.00,360.00 L378.25,360.00 L378.50,360.00 L378.75,360.00 L379.00,360.00 L379.25,360.00 L379.50,360.00 L379.75,360.00 L380.00,360.00 L380.25,360.00 L380.50,360.00 L380.75,360.00 L381.00,360.00 L381.25,360.00 L381.50,360.00 L381.75,360.00 L382.00,360.00 L382.25,360.00 L382.50,360.00 L382.75,360.00 L383.00,360.00 L383.25,360.00 L383.50,360.00 L383.75,360.00 L384.00,360.00 L384.25,360.00 L384.50,360.00 L384.75,360.00 L385.00,360.00 L385.25,360.00 L385.50,360.00 L385.75,360.00 L386.00,360.00 L386.25,360.00 L386.50,360.00 L386.75,360.00 L387.00,360.00 L387.25,360.00 L387.50,360.00 L387.75,360.00 L388.00,360.00 L388.25,360.00 L388.50,360.00 L388.75,360.00 L389.00,360.00 L389.25,360.00 L389.50,360.00 L389.75,360.00 L390.00,360.00 L390.25,360.00 L390.50,360.00 L390.75,360.00 L391.00,360.00 L391.25,360.00 L391.50,360.00 L391.75,360.00 L392.00,360.00 L392.25,360.00 L392.50,360.00 L392.75,360.00 L393.00,360.00 L393.25,360.00 L393.50,360.00 L393.75,360.00 L394.00,360.00 L394.25,360.00 L394.50,360.00 L394.75,360.00 L395.00,360.00 L395.25,360.00 L395.50,360.00 L395.75,360.00 L396.00,360.00 L396.25,360.00 L396.50,360.00 L396.75,360.00 L397.00,360.00 L397.25,360.00 L397.50,360.00 L397.75,360.00 L398.00,360.00 L398.25,360.00 L398.50,360.00 L398.75,360.00 L399.00,360.00 L399.25,360.00 L399.50,360.00 L399.75,360.00 L400.00,360.00 L400.25,360.00 L400.50,360.00 L400.75,360.00 L401.00,360.00 L401.25,360.00 L401.50,360.00 L401.75,360.00 L402.00,360.00 L402.25,360.00 L402.50,360.00 L402.75,360.00 L403.00,360.00 L403.25,360.00 L403.50,360.00 L403.75,360.00 L404.00,360.00 L404.25,360.00 L404.50,360.00 L404.75,360.00 L405.00,360.00 L405.25,360.00 L405.50,360.00 L405.75,360.00 L406.00,360.00 L406.25,360.00 L406.50,360.00 L406.75,360.00 L407.00,360.00 L407.25,360.00 L407.50,360.00 L407.75,360.00 L408.00,360.00 L408.25,360.00 L408.50,360.00 L408.75,360.00 L409.00,360.00 L409.25,360.00 L409.50,360.00 L409.75,360.00 L410.00,360.00 L410.25,361.60 L410.50,363.60 L410.75,365.60 L411.00,365.43 L411.25,364.71 L411.50,364.00 L411.75,363.29 L412.00,362.57 L412.25,361.87 L412.50,361.20 L412.75,360.53 L413.00,360.00 L413.25,360.00 L413.50,360.00 L413.75,360.00 L414.00,361.57 L414.25,364.55 L414.50,367.52 L414.75,370.90 L415.00,375.87 L415.25,380.85 L415.50,385.82 L415.75,390.30 L416.00,392.80 L416.25,395.30 L416.50,397.80 L416.75,400.30 L417.00,402.80 L417.25,405.30 L417.50,407.50 L417.75,409.62 L418.00,411.75 L418.25,413.88 L418.50,416.00 L418.75,418.13 L419.00,420.27 L419.25,422.41 L419.50,424.56 L419.75,426.70 L420.00,428.84 L420.25,430.69 L420.50,432.33 L420.75,433.98 L421.00,435.62 L421.25,437.27 L421.50,436.47 L421.75,435.06 L422.00,433.65 L422.25,432.24 L422.50,430.83 L422.75,429.27 L423.00,427.13 L423.25,424.99 L423.50,422.84 L423.75,420.70 L424.00,418.56 L424.25,418.70 L424.50,420.37 L424.75,422.03 L425.00,423.70 L425.25,425.37 L425.50,424.56 L425.75,423.13 L426.00,421.70 L426.25,420.27 L426.50,418.84 L426.75,417.99 L427.00,419.41 L427.25,420.84 L427.50,422.27 L427.75,423.70 L428.00,425.13 L428.25,424.45 L428.50,422.37 L428.75,420.28 L429.00,418.20 L429.25,416.12 L429.50,411.23 L429.75,405.63 L430.00,400.04 L430.25,397.24 L430.50,396.30 L430.75,395.36 L431.00,394.43 L431.25,393.49 L431.50,392.55 L431.75,391.74 L432.00,391.43 L432.25,391.11 L432.50,390.80 L432.75,390.49 L433.00,390.18 L433.25,389.86 L433.50,389.51 L433.75,389.16 L434.00,388.80 L434.25,388.44 L434.50,388.09 L434.75,387.37 L435.00,385.25 L435.25,383.12 L435.50,381.00 L435.75,378.88 L436.00,376.75 L436.25,375.10 L436.50,373.77 L436.75,372.43 L437.00,371.10 L437.25,369.77 L437.50,368.43 L437.75,367.71 L438.00,367.40 L438.25,367.09 L438.50,366.77 L438.75,366.46 L439.00,366.15 L439.25,365.76 L439.50,365.06 L439.75,364.37 L440.00,363.67 L440.25,362.98 L440.50,362.28 L440.75,361.79 L441.00,361.43 L441.25,361.07 L441.50,360.71 L441.75,360.00 L442.00,360.00 L442.25,360.00 L442.50,360.00 L442.75,360.00 L443.00,360.00 L443.25,360.00 L443.50,360.45 L443.75,361.69 L444.00,362.93 L444.25,364.17 L444.50,365.40 L444.50,360.0 L264.50,360.0 Z" fill="#82d0f3" stroke="none"/>
<path d="M487.40,389.80 L488.60,379.90 L490.00,369.90 L491.00,355.70 L493.00,357.60 L495.00,349.70 L496.60,345.70 L497.90,351.70 L499.90,353.70 L501.90,351.70 L503.90,345.70 L505.90,341.70 L507.90,339.70 L509.90,338.70 L511.90,339.70 L513.90,341.70 L515.90,349.70 L517.90,360.00 L519.30,366.00 L520.90,353.70 L522.80,355.70 L523.80,362.00 L524.80,373.90 L525.80,366.00 L526.80,363.60 L528.80,357.60 L530.80,351.70 L532.80,337.70 L534.80,331.80 L536.80,329.80 L538.80,325.80 L540.80,320.80 L542.80,319.80 L544.40,315.80 L545.80,299.90 L547.70,293.90 L549.70,289.90 L551.70,283.90 L553.10,281.90 L554.30,293.90 L555.10,309.80 L556.70,319.80 L558.70,317.80 L560.70,315.80 L562.70,319.80 L564.70,321.80 L566.30,329.80 L567.70,345.70 L569.10,357.60 L570.70,366.00 L572.60,369.90 L574.60,366.00 L576.00,355.00 L578.00,337.70 L580.00,337.70 L581.60,345.70 L583.00,353.70 L584.40,361.60 L586.00,366.00 L588.00,372.00 L590.00,376.00 L592.00,370.00 L594.00,378.00 L596.00,368.00 L598.90,353.70 L600.30,348.70 L601.90,349.70 L603.50,355.70 L604.90,361.60 L606.50,366.00 L608.00,360.00 L609.80,353.70 L611.80,349.70 L613.80,355.70 L615.50,362.00 L617.50,366.00 L619.80,369.90 L620.80,389.80 L621.80,401.80 L623.80,405.80 L625.80,409.80 L627.40,399.80 L628.80,383.90 L630.20,393.80 L631.80,401.80 L633.80,407.80 L635.30,413.70 L636.70,419.70 L638.10,425.70 L639.70,433.70 L641.30,441.60 L642.70,437.60 L644.10,433.70 L645.70,429.70 L647.70,425.70 L649.70,421.70 L651.70,415.70 L653.70,409.80 L654.70,397.80 L655.70,387.80 L657.70,381.90 L659.60,377.90 L661.60,371.90 L663.60,367.90 L665.60,364.00 L667.60,362.00 L667.6,360.0 L487.4,360.0 Z" fill="#ddf0fa" stroke="none"/>
<path d="M487.40,349.70 L489.00,343.70 L491.00,337.70 L493.00,329.80 L495.00,321.80 L496.60,320.80 L497.90,322.80 L499.90,317.80 L501.90,311.80 L503.30,304.90 L504.90,300.90 L506.50,304.90 L507.90,313.80 L509.30,321.80 L510.90,327.80 L512.50,333.70 L513.90,337.70 L515.30,339.70 L516.50,329.80 L517.90,323.80 L519.30,331.80 L520.50,335.70 L521.90,339.70 L523.20,345.70 L524.40,351.70 L525.80,357.60 L527.20,351.70 L528.80,341.70 L530.40,338.70 L531.80,345.70 L533.20,347.70 L534.80,339.70 L536.40,338.70 L537.80,349.70 L538.80,362.00 L540.40,374.90 L541.80,360.00 L543.20,345.70 L544.40,341.70 L545.80,349.70 L547.20,351.70 L548.70,343.70 L550.30,329.80 L551.70,323.80 L553.10,319.80 L554.70,317.80 L556.30,305.90 L557.70,295.90 L559.10,285.90 L560.70,279.00 L562.30,282.90 L563.70,289.90 L565.10,293.90 L566.70,295.90 L568.30,291.90 L569.70,301.90 L571.10,319.80 L572.60,333.70 L574.20,333.70 L575.60,331.80 L577.00,335.70 L578.20,345.00 L579.60,355.00 L580.40,361.60 L583.00,370.00 L585.00,362.00 L587.00,368.00 L589.00,360.00 L591.00,364.00 L593.00,370.00 L595.00,356.00 L597.00,380.00 L599.00,374.00 L601.00,370.00 L603.00,364.00 L604.30,381.90 L605.90,395.80 L607.50,397.80 L608.90,385.90 L610.80,375.90 L612.80,369.90 L614.80,362.00 L616.80,366.00 L618.80,360.00 L620.80,362.00 L622.80,377.90 L624.20,381.90 L625.40,366.00 L626.80,350.00 L627.80,339.70 L629.40,338.70 L630.80,345.70 L632.20,349.70 L633.80,347.70 L635.30,351.70 L636.70,345.70 L638.10,341.70 L639.70,347.70 L641.30,339.70 L642.70,333.70 L644.10,329.80 L645.30,339.70 L646.70,351.70 L648.10,349.70 L649.70,353.70 L651.30,357.60 L652.70,351.70 L654.10,349.70 L655.70,355.70 L657.30,349.70 L658.70,353.70 L660.00,351.70 L661.60,353.70 L663.20,349.70 L664.60,351.70 L666.00,355.70 L667.60,357.60 L667.6,360.0 L487.4,360.0 Z" fill="#a3dcf5" stroke="none"/>
<path d="M487.40,360.00 L487.65,360.00 L487.90,360.00 L488.15,360.00 L488.40,360.00 L488.65,360.00 L488.90,360.00 L489.15,360.00 L489.40,360.00 L489.65,360.00 L489.90,360.00 L490.15,360.00 L490.40,360.00 L490.65,360.00 L490.90,357.12 L491.15,355.84 L491.40,356.08 L491.65,356.32 L491.90,356.56 L492.15,356.79 L492.40,357.03 L492.65,357.27 L492.90,357.50 L493.15,357.01 L493.40,356.02 L493.65,355.03 L493.90,354.05 L494.15,353.06 L494.40,352.07 L494.65,351.08 L494.90,350.10 L495.15,349.33 L495.40,348.70 L495.65,348.08 L495.90,347.45 L496.15,346.83 L496.40,346.20 L496.65,345.93 L496.90,347.08 L497.15,348.24 L497.40,349.39 L497.65,350.55 L497.90,351.70 L498.15,351.95 L498.40,352.20 L498.65,352.45 L498.90,352.70 L499.15,352.95 L499.40,353.20 L499.65,353.45 L499.90,353.70 L500.15,353.45 L500.40,353.20 L500.65,352.95 L500.90,352.70 L501.15,352.45 L501.40,352.20 L501.65,351.95 L501.90,351.70 L502.15,350.95 L502.40,350.20 L502.65,349.45 L502.90,348.70 L503.15,347.95 L503.40,347.20 L503.65,346.45 L503.90,345.70 L504.15,345.20 L504.40,344.70 L504.65,344.20 L504.90,343.70 L505.15,343.20 L505.40,342.70 L505.65,342.20 L505.90,341.70 L506.15,341.45 L506.40,341.20 L506.65,340.95 L506.90,340.70 L507.15,340.45 L507.40,340.20 L507.65,339.95 L507.90,339.70 L508.15,339.57 L508.40,339.45 L508.65,339.32 L508.90,339.20 L509.15,339.07 L509.40,338.95 L509.65,338.82 L509.90,338.70 L510.15,338.82 L510.40,338.95 L510.65,339.07 L510.90,339.20 L511.15,339.32 L511.40,339.45 L511.65,339.57 L511.90,339.70 L512.15,339.95 L512.40,340.20 L512.65,340.45 L512.90,340.70 L513.15,340.95 L513.40,341.20 L513.65,341.45 L513.90,341.70 L514.15,342.70 L514.40,343.70 L514.65,344.70 L514.90,345.70 L515.15,346.70 L515.40,347.70 L515.65,348.70 L515.90,349.70 L516.15,350.99 L516.40,352.27 L516.65,353.56 L516.90,354.85 L517.15,356.14 L517.40,357.43 L517.65,358.71 L517.90,360.00 L518.15,360.00 L518.40,360.00 L518.65,360.00 L518.90,360.00 L519.15,360.00 L519.40,360.00 L519.65,360.00 L519.90,360.00 L520.15,359.47 L520.40,357.54 L520.65,355.62 L520.90,353.70 L521.15,353.96 L521.40,354.23 L521.65,354.49 L521.90,354.75 L522.15,355.02 L522.40,355.28 L522.65,355.54 L522.90,356.33 L523.15,357.91 L523.40,359.48 L523.65,360.00 L523.90,360.00 L524.15,360.00 L524.40,360.00 L524.65,360.00 L524.90,360.00 L525.15,360.00 L525.40,360.00 L525.65,360.00 L525.90,360.00 L526.15,360.00 L526.40,360.00 L526.65,360.00 L526.90,360.00 L527.15,360.00 L527.40,360.00 L527.65,360.00 L527.90,360.00 L528.15,359.55 L528.40,358.80 L528.65,358.05 L528.90,357.30 L529.15,356.57 L529.40,355.83 L529.65,355.09 L529.90,354.35 L530.15,353.62 L530.40,352.88 L530.65,352.14 L530.90,351.00 L531.15,349.25 L531.40,347.50 L531.65,345.75 L531.90,345.84 L532.15,346.20 L532.40,346.56 L532.65,346.91 L532.90,347.27 L533.15,347.63 L533.40,346.70 L533.65,345.45 L533.90,344.20 L534.15,342.95 L534.40,341.70 L534.65,340.45 L534.90,339.64 L535.15,339.48 L535.40,339.32 L535.65,339.17 L535.90,339.01 L536.15,338.86 L536.40,338.70 L536.65,340.66 L536.90,342.63 L537.15,344.59 L537.40,346.56 L537.65,348.52 L537.90,350.93 L538.15,354.01 L538.40,357.08 L538.65,360.00 L538.90,360.00 L539.15,360.00 L539.40,360.00 L539.65,360.00 L539.90,360.00 L540.15,360.00 L540.40,360.00 L540.65,360.00 L540.90,360.00 L541.15,360.00 L541.40,360.00 L541.65,360.00 L541.90,358.98 L542.15,356.43 L542.40,353.87 L542.65,351.32 L542.90,348.76 L543.15,346.21 L543.40,345.03 L543.65,344.20 L543.90,343.37 L544.15,342.53 L544.40,341.70 L544.65,343.13 L544.90,344.56 L545.15,345.99 L545.40,347.41 L545.65,348.84 L545.90,349.84 L546.15,350.20 L546.40,350.56 L546.65,350.91 L546.90,351.27 L547.15,351.63 L547.40,350.63 L547.65,349.30 L547.90,347.97 L548.15,346.63 L548.40,345.30 L548.65,343.97 L548.90,341.96 L549.15,339.79 L549.40,337.62 L549.65,335.45 L549.90,333.27 L550.15,331.10 L550.40,329.37 L550.65,328.30 L550.90,327.23 L551.15,326.16 L551.40,325.09 L551.65,324.01 L551.90,323.23 L552.15,322.51 L552.40,321.80 L552.65,321.09 L552.90,320.37 L553.15,319.74 L553.40,319.43 L553.65,319.11 L553.90,318.80 L554.15,318.49 L554.40,318.18 L554.65,317.86 L554.90,316.31 L555.15,314.45 L555.40,312.59 L555.65,313.24 L555.90,314.80 L556.15,316.36 L556.40,317.92 L556.65,319.49 L556.90,319.60 L557.15,319.35 L557.40,319.10 L557.65,318.85 L557.90,318.60 L558.15,318.35 L558.40,318.10 L558.65,317.85 L558.90,317.60 L559.15,317.35 L559.40,317.10 L559.65,316.85 L559.90,316.60 L560.15,316.35 L560.40,316.10 L560.65,315.85 L560.90,316.20 L561.15,316.70 L561.40,317.20 L561.65,317.70 L561.90,318.20 L562.15,318.70 L562.40,319.20 L562.65,319.70 L562.90,320.00 L563.15,320.25 L563.40,320.50 L563.65,320.75 L563.90,321.00 L564.15,321.25 L564.40,321.50 L564.65,321.75 L564.90,322.80 L565.15,324.05 L565.40,325.30 L565.65,326.55 L565.90,327.80 L566.15,329.05 L566.40,330.94 L566.65,333.77 L566.90,336.61 L567.15,339.45 L567.40,342.29 L567.65,345.13 L567.90,347.40 L568.15,349.52 L568.40,351.65 L568.65,353.77 L568.90,355.90 L569.15,357.86 L569.40,359.17 L569.65,360.00 L569.90,360.00 L570.15,360.00 L570.40,360.00 L570.65,360.00 L570.90,360.00 L571.15,360.00 L571.40,360.00 L571.65,360.00 L571.90,360.00 L572.15,360.00 L572.40,360.00 L572.65,360.00 L572.90,360.00 L573.15,360.00 L573.40,360.00 L573.65,360.00 L573.90,360.00 L574.15,360.00 L574.40,360.00 L574.65,360.00 L574.90,360.00 L575.15,360.00 L575.40,359.71 L575.65,357.75 L575.90,355.79 L576.15,353.70 L576.40,351.54 L576.65,349.38 L576.90,347.22 L577.15,345.05 L577.40,342.89 L577.65,340.74 L577.90,342.67 L578.15,344.61 L578.40,346.43 L578.65,348.21 L578.90,350.00 L579.15,351.79 L579.40,353.57 L579.65,355.41 L579.90,357.47 L580.15,359.54 L580.40,360.00 L580.65,360.00 L580.90,360.00 L581.15,360.00 L581.40,360.00 L581.65,360.00 L581.90,360.00 L582.15,360.00 L582.40,360.00 L582.65,360.00 L582.90,360.00 L583.15,360.00 L583.40,360.00 L583.65,360.00 L583.90,360.00 L584.15,360.19 L584.40,361.60 L584.65,362.29 L584.90,362.40 L585.15,362.45 L585.40,363.20 L585.65,363.95 L585.90,364.70 L586.15,365.45 L586.40,366.20 L586.65,366.95 L586.90,367.70 L587.15,367.40 L587.40,366.40 L587.65,365.40 L587.90,364.40 L588.15,363.40 L588.40,362.40 L588.65,361.40 L588.90,360.40 L589.15,360.30 L589.40,360.80 L589.65,361.30 L589.90,361.80 L590.15,362.30 L590.40,362.80 L590.65,363.30 L590.90,363.80 L591.15,364.45 L591.40,365.20 L591.65,365.95 L591.90,366.70 L592.15,367.45 L592.40,368.20 L592.65,368.95 L592.90,369.70 L593.15,368.95 L593.40,367.20 L593.65,365.45 L593.90,363.70 L594.15,361.95 L594.40,360.20 L594.65,360.00 L594.90,360.00 L595.15,360.00 L595.40,360.80 L595.65,363.80 L595.90,366.80 L596.15,367.26 L596.40,366.03 L596.65,364.79 L596.90,363.56 L597.15,362.33 L597.40,361.10 L597.65,360.00 L597.90,360.00 L598.15,360.00 L598.40,360.00 L598.65,360.00 L598.90,360.00 L599.15,360.00 L599.40,360.00 L599.65,360.00 L599.90,360.00 L600.15,360.00 L600.40,360.00 L600.65,360.00 L600.90,360.00 L601.15,360.00 L601.40,360.00 L601.65,360.00 L601.90,360.00 L602.15,360.00 L602.40,360.00 L602.65,360.00 L602.90,360.00 L603.15,360.00 L603.40,360.00 L603.65,360.00 L603.90,360.00 L604.15,360.00 L604.40,360.00 L604.65,360.55 L604.90,361.60 L605.15,362.29 L605.40,362.98 L605.65,363.66 L605.90,364.35 L606.15,365.04 L606.40,365.72 L606.65,365.40 L606.90,364.40 L607.15,363.40 L607.40,362.40 L607.65,361.40 L607.90,360.40 L608.15,360.00 L608.40,360.00 L608.65,360.00 L608.90,360.00 L609.15,360.00 L609.40,360.00 L609.65,360.00 L609.90,360.00 L610.15,360.00 L610.40,360.00 L610.65,360.00 L610.90,360.00 L611.15,360.00 L611.40,360.00 L611.65,360.00 L611.90,360.00 L612.15,360.00 L612.40,360.00 L612.65,360.00 L612.90,360.00 L613.15,360.00 L613.40,360.00 L613.65,360.00 L613.90,360.00 L614.15,360.00 L614.40,360.00 L614.65,360.00 L614.90,360.00 L615.15,360.70 L615.40,361.63 L615.65,362.30 L615.90,362.80 L616.15,363.30 L616.40,363.80 L616.65,364.30 L616.90,364.80 L617.15,364.95 L617.40,364.20 L617.65,363.45 L617.90,362.70 L618.15,361.95 L618.40,361.20 L618.65,360.45 L618.90,360.10 L619.15,360.35 L619.40,360.60 L619.65,360.85 L619.90,361.10 L620.15,361.35 L620.40,361.60 L620.65,361.85 L620.90,362.80 L621.15,364.78 L621.40,366.77 L621.65,368.76 L621.90,370.75 L622.15,372.73 L622.40,374.72 L622.65,376.71 L622.90,378.19 L623.15,378.90 L623.40,379.61 L623.65,380.33 L623.90,381.04 L624.15,381.76 L624.40,379.25 L624.65,375.94 L624.90,372.63 L625.15,369.31 L625.40,366.00 L625.65,363.14 L625.90,360.29 L626.15,360.00 L626.40,360.00 L626.65,360.00 L626.90,360.00 L627.15,360.00 L627.40,360.00 L627.65,360.00 L627.90,360.00 L628.15,360.00 L628.40,360.00 L628.65,360.00 L628.90,360.00 L629.15,360.00 L629.40,360.00 L629.65,360.00 L629.90,360.00 L630.15,360.00 L630.40,360.00 L630.65,360.00 L630.90,360.00 L631.15,360.00 L631.40,360.00 L631.65,360.00 L631.90,360.00 L632.15,360.00 L632.40,360.00 L632.65,360.00 L632.90,360.00 L633.15,360.00 L633.40,360.00 L633.65,360.00 L633.90,360.00 L634.15,360.00 L634.40,360.00 L634.65,360.00 L634.90,360.00 L635.15,360.00 L635.40,360.00 L635.65,360.00 L635.90,360.00 L636.15,360.00 L636.40,360.00 L636.65,360.00 L636.90,360.00 L637.15,360.00 L637.40,360.00 L637.65,360.00 L637.90,360.00 L638.15,360.00 L638.40,360.00 L638.65,360.00 L638.90,360.00 L639.15,360.00 L639.40,360.00 L639.65,360.00 L639.90,360.00 L640.15,360.00 L640.40,360.00 L640.65,360.00 L640.90,360.00 L641.15,360.00 L641.40,360.00 L641.65,360.00 L641.90,360.00 L642.15,360.00 L642.40,360.00 L642.65,360.00 L642.90,360.00 L643.15,360.00 L643.40,360.00 L643.65,360.00 L643.90,360.00 L644.15,360.00 L644.40,360.00 L644.65,360.00 L644.90,360.00 L645.15,360.00 L645.40,360.00 L645.65,360.00 L645.90,360.00 L646.15,360.00 L646.40,360.00 L646.65,360.00 L646.90,360.00 L647.15,360.00 L647.40,360.00 L647.65,360.00 L647.90,360.00 L648.15,360.00 L648.40,360.00 L648.65,360.00 L648.90,360.00 L649.15,360.00 L649.40,360.00 L649.65,360.00 L649.90,360.00 L650.15,360.00 L650.40,360.00 L650.65,360.00 L650.90,360.00 L651.15,360.00 L651.40,360.00 L651.65,360.00 L651.90,360.00 L652.15,360.00 L652.40,360.00 L652.65,360.00 L652.90,360.00 L653.15,360.00 L653.40,360.00 L653.65,360.00 L653.90,360.00 L654.15,360.00 L654.40,360.00 L654.65,360.00 L654.90,360.00 L655.15,360.00 L655.40,360.00 L655.65,360.00 L655.90,360.00 L656.15,360.00 L656.40,360.00 L656.65,360.00 L656.90,360.00 L657.15,360.00 L657.40,360.00 L657.65,360.00 L657.90,360.00 L658.15,360.00 L658.40,360.00 L658.65,360.00 L658.90,360.00 L659.15,360.00 L659.40,360.00 L659.65,360.00 L659.90,360.00 L660.15,360.00 L660.40,360.00 L660.65,360.00 L660.90,360.00 L661.15,360.00 L661.40,360.00 L661.65,360.00 L661.90,360.00 L662.15,360.00 L662.40,360.00 L662.65,360.00 L662.90,360.00 L663.15,360.00 L663.40,360.00 L663.65,360.00 L663.90,360.00 L664.15,360.00 L664.40,360.00 L664.65,360.00 L664.90,360.00 L665.15,360.00 L665.40,360.00 L665.65,360.00 L665.90,360.00 L666.15,360.00 L666.40,360.00 L666.65,360.00 L666.90,360.00 L667.15,360.00 L667.40,360.00 L667.40,360.0 L487.40,360.0 Z" fill="#82d0f3" stroke="none"/>
<line x1="23.0" y1="72.70" x2="201.0" y2="72.70" stroke="#b8b8b8" stroke-width="1.4" stroke-dasharray="4.9 2.5"/>
<line x1="23.0" y1="182.70" x2="201.0" y2="182.70" stroke="#b8b8b8" stroke-width="1.4" stroke-dasharray="4.9 2.5"/>
<line x1="23.0" y1="85.40" x2="201.0" y2="85.40" stroke="#9c9c9c" stroke-width="1" stroke-dasharray="2.3 2.5"/>
<line x1="23.0" y1="170.30" x2="201.0" y2="170.30" stroke="#9c9c9c" stroke-width="1" stroke-dasharray="2.3 2.5"/>
<line x1="245.5" y1="73.20" x2="423.5" y2="73.20" stroke="#b8b8b8" stroke-width="1.4" stroke-dasharray="4.9 2.5"/>
<line x1="245.5" y1="182.50" x2="423.5" y2="182.50" stroke="#b8b8b8" stroke-width="1.4" stroke-dasharray="4.9 2.5"/>
<line x1="245.5" y1="79.50" x2="423.5" y2="79.50" stroke="#9c9c9c" stroke-width="1" stroke-dasharray="2.3 2.5"/>
<line x1="245.5" y1="175.50" x2="423.5" y2="175.50" stroke="#9c9c9c" stroke-width="1" stroke-dasharray="2.3 2.5"/>
<line x1="470.0" y1="78.50" x2="648.8" y2="78.50" stroke="#b8b8b8" stroke-width="1.4" stroke-dasharray="4.9 2.5"/>
<line x1="470.0" y1="178.50" x2="648.8" y2="178.50" stroke="#b8b8b8" stroke-width="1.4" stroke-dasharray="4.9 2.5"/>
<line x1="470.0" y1="80.00" x2="648.8" y2="80.00" stroke="#9c9c9c" stroke-width="1" stroke-dasharray="2.3 2.5"/>
<line x1="470.0" y1="176.40" x2="648.8" y2="176.40" stroke="#9c9c9c" stroke-width="1" stroke-dasharray="2.3 2.5"/>
<line x1="23.0" y1="304.80" x2="201.0" y2="304.80" stroke="#b8b8b8" stroke-width="1.4" stroke-dasharray="4.9 2.5"/>
<line x1="23.0" y1="414.80" x2="201.0" y2="414.80" stroke="#b8b8b8" stroke-width="1.4" stroke-dasharray="4.9 2.5"/>
<line x1="23.0" y1="317.50" x2="201.0" y2="317.50" stroke="#9c9c9c" stroke-width="1" stroke-dasharray="2.3 2.5"/>
<line x1="23.0" y1="402.40" x2="201.0" y2="402.40" stroke="#9c9c9c" stroke-width="1" stroke-dasharray="2.3 2.5"/>
<line x1="245.5" y1="305.30" x2="423.5" y2="305.30" stroke="#b8b8b8" stroke-width="1.4" stroke-dasharray="4.9 2.5"/>
<line x1="245.5" y1="414.60" x2="423.5" y2="414.60" stroke="#b8b8b8" stroke-width="1.4" stroke-dasharray="4.9 2.5"/>
<line x1="245.5" y1="311.60" x2="423.5" y2="311.60" stroke="#9c9c9c" stroke-width="1" stroke-dasharray="2.3 2.5"/>
<line x1="245.5" y1="407.60" x2="423.5" y2="407.60" stroke="#9c9c9c" stroke-width="1" stroke-dasharray="2.3 2.5"/>
<line x1="473.0" y1="309.50" x2="651.2" y2="309.50" stroke="#b8b8b8" stroke-width="1.4" stroke-dasharray="4.9 2.5"/>
<line x1="473.0" y1="409.30" x2="651.2" y2="409.30" stroke="#b8b8b8" stroke-width="1.4" stroke-dasharray="4.9 2.5"/>
<line x1="473.0" y1="310.80" x2="651.2" y2="310.80" stroke="#9c9c9c" stroke-width="1" stroke-dasharray="2.3 2.5"/>
<line x1="473.0" y1="407.50" x2="651.2" y2="407.50" stroke="#9c9c9c" stroke-width="1" stroke-dasharray="2.3 2.5"/>
<line x1="42.0" y1="127.9" x2="222.5" y2="127.9" stroke="#7590a6" stroke-width="1.6"/>
<line x1="264.5" y1="127.9" x2="445.0" y2="127.9" stroke="#7590a6" stroke-width="1.6"/>
<line x1="487.4" y1="128.20000000000002" x2="667.9" y2="128.20000000000002" stroke="#8a8a8a" stroke-width="1.1"/>
<line x1="42.0" y1="360.0" x2="222.5" y2="360.0" stroke="#7590a6" stroke-width="1.6"/>
<line x1="264.5" y1="360.0" x2="445.0" y2="360.0" stroke="#7590a6" stroke-width="1.6"/>
<line x1="487.4" y1="360.3" x2="667.9" y2="360.3" stroke="#8a8a8a" stroke-width="1.1"/>
<path d="M42.00,118.00 L42.70,113.20 L44.20,100.20 L45.60,91.60 L47.00,85.90 L48.50,85.10 L49.90,87.30 L50.90,80.10 L52.10,93.00 L53.20,100.20 L54.60,107.40 L56.10,111.70 L57.50,108.90 L59.00,101.70 L60.40,94.50 L61.80,89.50 L63.30,90.20 L64.30,94.50 L65.30,103.10 L66.40,114.60 L67.60,120.30 L68.60,123.20 L70.00,127.50 L71.50,123.20 L72.90,117.50 L74.30,113.20 L75.80,110.30 L77.20,107.40 L78.60,103.10 L80.10,98.80 L81.50,94.50 L84.00,84.80 L86.00,72.80 L89.00,50.90 L91.00,46.90 L94.00,49.90 L97.00,46.90 L100.00,40.90 L103.00,42.90 L106.00,46.90 L109.00,58.90 L111.00,78.80 L113.00,100.70 L115.00,118.60 L116.00,120.60 L118.00,90.70 L120.00,92.70 L122.00,110.70 L124.00,118.60 L126.00,130.00 L128.00,122.60 L131.00,112.60 L134.00,100.70 L139.00,92.70 L143.00,88.70 L145.00,84.80 L147.00,72.80 L148.00,72.80 L149.00,84.80 L150.00,92.70 L152.00,96.70 L153.50,108.70 L155.00,120.60 L157.00,128.00 L160.00,130.50 L161.20,147.20 L163.60,142.20 L166.10,138.60 L167.30,143.50 L168.60,150.90 L169.80,146.00 L172.20,144.70 L173.50,149.60 L175.30,158.30 L176.60,164.40 L178.40,168.10 L179.60,165.70 L180.90,162.00 L182.70,155.80 L184.00,143.50 L185.20,149.60 L186.40,159.50 L188.30,164.40 L190.70,165.70 L193.20,168.10 L194.40,165.70 L195.70,149.60 L197.50,148.40 L199.40,152.10 L201.20,157.00 L203.00,165.00 L205.30,181.30 L208.50,155.50 L211.70,146.80 L216.10,149.00 L219.30,136.10 L221.40,127.40" fill="none" stroke="#1f72c6" stroke-width="1.7" stroke-dasharray="1.6 1.5"/>
<path d="M42.00,93.50 L42.70,93.00 L44.20,88.00 L45.60,85.90 L46.60,87.30 L47.50,64.30 L48.50,71.50 L49.20,81.60 L49.90,84.40 L50.90,80.80 L51.80,91.60 L52.80,103.10 L53.80,114.60 L54.90,121.80 L56.10,123.20 L57.10,120.30 L58.10,117.50 L59.20,121.80 L60.40,116.00 L61.40,110.30 L62.40,111.70 L63.60,116.00 L64.70,110.30 L65.70,93.00 L66.70,83.00 L67.60,81.60 L68.60,94.50 L69.60,84.40 L70.40,83.70 L71.50,90.90 L72.50,88.70 L73.60,77.20 L74.80,76.50 L76.20,78.70 L77.60,80.80 L79.10,74.40 L80.50,71.50 L81.50,72.90 L83.00,60.90 L85.00,71.80 L87.00,67.80 L89.00,48.90 L91.00,59.90 L93.00,58.90 L95.00,63.80 L97.00,61.90 L99.00,58.90 L101.00,64.80 L103.00,52.90 L106.00,46.90 L109.00,56.90 L111.00,65.80 L113.00,72.80 L115.00,74.80 L117.00,72.80 L119.00,69.80 L121.00,67.80 L123.00,65.80 L125.00,72.80 L126.00,90.70 L127.60,84.80 L130.00,84.80 L132.00,83.80 L134.00,82.80 L135.60,84.80 L137.00,94.70 L138.40,102.70 L140.00,104.70 L141.60,108.70 L143.00,111.70 L145.00,108.70 L147.00,114.60 L149.00,106.70 L151.00,116.60 L153.00,100.70 L154.30,94.70 L156.00,102.70 L158.00,76.80 L160.00,73.80 L162.00,86.80 L164.00,84.80 L165.50,86.80 L167.50,72.80 L168.80,84.80 L169.80,104.70 L170.80,121.00 L171.90,125.30 L174.00,118.80 L176.20,123.10 L178.30,121.00 L180.50,125.30 L182.60,117.70 L184.80,124.20 L186.50,132.00 L188.00,122.00 L190.20,112.30 L192.30,119.90 L194.50,126.40 L196.70,131.70 L198.80,136.10 L201.00,140.40 L203.10,144.70 L205.30,149.00 L207.40,142.50 L209.60,136.10 L211.70,133.90 L213.90,131.70 L216.10,129.60 L218.20,123.10 L220.00,118.80 L221.40,129.60 L222.50,125.30" fill="none" stroke="#1a6fc4" stroke-width="1.8" stroke-linejoin="round"/>
<path d="M42.00,159.80 L45.00,157.80 L48.00,157.80 L50.00,163.80 L52.00,168.80 L54.00,171.80 L56.00,172.80 L59.00,170.80 L61.00,173.80 L64.00,174.80 L66.00,182.70 L68.00,187.70 L70.00,186.70 L72.00,183.70 L75.00,190.70 L78.00,201.70 L81.00,199.70 L83.00,196.70 L85.00,197.70 L87.00,194.70 L89.00,197.70 L91.00,202.60 L93.40,210.60 L95.80,202.60 L98.80,188.70 L101.80,174.80 L104.70,160.80 L107.70,151.90 L109.70,144.90 L111.70,142.90 L113.30,143.90 L115.30,136.50 L117.30,146.90 L119.30,160.80 L121.70,170.80 L123.70,171.40 L125.70,166.80 L127.60,172.80 L129.60,188.70 L132.00,192.70 L133.00,188.70 L135.00,180.70 L137.00,166.80 L139.00,154.80 L141.00,150.90 L143.00,148.90 L145.00,154.80 L147.00,159.80 L149.00,159.80 L151.00,156.80 L153.00,162.80 L155.00,172.80 L157.50,179.20 L158.70,184.10 L161.00,190.70 L163.00,181.70 L164.90,179.20 L167.30,182.90 L169.80,178.00 L172.20,166.90 L174.10,153.30 L176.00,139.80 L177.80,129.90 L180.00,130.80 L182.50,137.00 L184.90,128.30 L187.40,124.00 L189.90,128.30 L192.30,127.70 L194.80,126.50 L197.20,132.00 L199.10,137.00 L201.60,126.50 L204.00,129.60 L206.50,133.30 L208.30,139.40 L209.60,149.30 L211.40,146.80 L213.30,145.60 L215.10,141.90 L217.00,138.20 L218.80,135.10 L220.70,138.20 L222.50,140.70" fill="none" stroke="#f52020" stroke-width="1.5" stroke-linejoin="round"/>
<path d="M42.00,122.00 L43.00,125.00 L46.00,130.00 L49.00,137.00 L52.00,143.90 L54.30,142.90 L56.00,139.90 L58.00,140.90 L60.00,154.80 L62.00,164.80 L65.00,162.80 L67.00,160.80 L69.00,163.80 L71.00,160.80 L73.00,153.80 L75.00,153.80 L77.00,158.80 L79.00,140.90 L81.00,127.00 L83.00,124.00 L85.00,130.00 L87.00,132.00 L90.00,131.00 L93.00,134.00 L96.00,134.00 L99.00,137.00 L101.00,148.90 L102.70,153.80 L104.70,144.90 L106.70,138.90 L109.70,135.90 L111.70,134.00 L113.70,127.00 L116.70,121.00 L119.70,119.00 L122.70,118.00 L125.70,119.00 L128.60,127.00 L130.60,134.90 L132.00,150.00 L134.00,172.80 L136.00,184.70 L138.00,188.70 L141.00,186.70 L144.00,191.70 L147.00,195.70 L150.00,193.70 L153.00,190.70 L156.00,188.70 L159.00,184.70 L162.00,180.70 L164.00,178.00 L166.00,170.00 L168.60,164.40 L170.40,154.60 L171.60,153.30 L173.00,156.00 L176.00,163.20 L178.40,162.00 L180.90,160.70 L182.70,155.80 L184.00,153.30 L185.20,159.50 L187.00,171.80 L188.90,178.00 L190.70,178.60 L192.60,171.80 L194.40,160.70 L196.30,149.60 L197.50,141.00 L198.70,132.40 L199.90,118.80 L203.10,101.60 L206.00,92.00 L208.00,88.00 L209.60,86.50 L211.50,88.00 L213.50,95.00 L216.10,105.90 L218.20,112.30 L219.40,117.20 L220.70,128.30 L221.90,132.00" fill="none" stroke="#f04040" stroke-width="1.3" stroke-dasharray="1.1 1.4"/>
<path d="M264.50,95.00 L265.00,84.80 L267.00,92.70 L269.00,88.70 L271.00,76.80 L273.00,72.80 L275.00,78.80 L277.00,76.80 L279.00,74.80 L281.00,64.80 L283.50,57.90 L285.50,66.80 L287.50,67.80 L289.90,71.80 L291.90,73.80 L293.90,77.80 L295.90,71.80 L297.90,72.80 L299.80,76.80 L301.80,90.70 L303.80,88.70 L305.80,84.80 L308.80,76.80 L310.80,66.80 L312.80,60.90 L315.40,54.90 L317.40,62.80 L318.80,71.80 L320.80,70.80 L322.80,62.80 L324.70,66.80 L326.70,82.80 L328.70,96.70 L330.70,106.70 L332.10,120.60 L334.00,134.60 L335.70,159.30 L336.50,171.60 L338.10,159.30 L339.80,140.00 L341.70,153.80 L343.70,150.00 L345.70,145.00 L348.00,134.60 L351.30,128.00 L353.70,121.50 L355.40,128.00 L357.00,142.80 L358.70,157.60 L361.10,160.90 L363.60,167.50 L366.00,170.80 L367.70,174.00 L369.30,159.30 L371.00,142.80 L372.60,139.60 L374.30,141.20 L375.90,136.30 L377.50,123.10 L380.00,121.50 L382.50,120.70 L384.00,121.00 L386.90,118.00 L388.80,131.90 L390.80,143.90 L392.80,151.80 L394.80,149.80 L396.80,165.80 L398.80,157.80 L400.80,155.80 L402.80,159.80 L404.80,165.80 L406.80,163.80 L408.80,159.80 L410.80,155.80 L412.70,167.80 L414.70,179.70 L416.70,191.70 L418.70,193.70 L420.70,189.70 L422.70,183.70 L424.70,185.70 L426.70,181.70 L428.70,171.80 L430.70,165.80 L432.70,159.80 L434.70,149.80 L436.70,137.90 L438.60,126.00 L440.60,122.00 L442.60,129.90 L444.60,147.80" fill="none" stroke="#1f72c6" stroke-width="1.7" stroke-dasharray="1.6 1.5"/>
<path d="M264.50,70.00 L265.00,64.80 L266.40,60.90 L268.00,68.80 L269.00,76.80 L271.00,82.80 L273.00,84.80 L275.00,90.70 L277.00,94.70 L278.00,104.70 L280.00,108.70 L282.00,116.60 L284.00,114.60 L286.00,120.60 L288.00,122.00 L290.00,132.00 L292.50,149.00 L294.00,130.00 L295.50,112.00 L296.30,104.70 L297.50,108.70 L298.90,120.60 L300.00,130.00 L301.80,139.90 L304.80,147.80 L307.80,139.90 L309.80,127.00 L311.80,100.70 L313.80,93.70 L315.40,96.70 L316.80,108.70 L318.80,100.70 L320.80,84.80 L322.80,64.80 L324.70,62.80 L326.70,63.80 L328.70,68.80 L330.70,80.80 L332.10,92.70 L333.70,94.70 L335.70,98.70 L337.70,102.70 L339.70,104.70 L341.70,106.70 L343.70,104.70 L345.70,108.70 L347.30,112.60 L348.70,96.70 L350.00,94.70 L352.00,76.80 L354.00,67.80 L356.00,66.80 L359.00,65.80 L361.00,54.90 L363.00,48.90 L365.00,47.30 L367.00,49.90 L369.00,60.90 L371.00,50.90 L372.90,58.90 L374.90,66.80 L376.90,66.80 L377.90,55.90 L379.90,63.80 L380.90,61.90 L382.30,77.80 L383.90,84.80 L385.50,80.80 L386.90,88.70 L388.80,92.70 L390.80,94.70 L392.20,108.70 L394.20,114.60 L396.20,104.70 L397.80,100.70 L399.40,114.60 L401.40,108.70 L403.40,102.70 L405.00,99.90 L406.60,106.40 L408.30,129.40 L409.90,139.30 L411.60,140.90 L413.20,147.50 L414.90,163.90 L417.70,177.70 L419.70,189.70 L420.70,195.70 L422.70,185.70 L424.70,179.70 L426.70,189.70 L428.70,175.70 L429.60,155.00 L430.70,141.90 L431.30,159.00 L433.70,152.40 L435.40,136.00 L437.80,124.50 L439.50,106.40 L440.80,99.90 L442.00,111.30 L443.60,131.00 L444.70,145.80" fill="none" stroke="#1a6fc4" stroke-width="1.8" stroke-linejoin="round"/>
<path d="M264.50,127.90 L267.00,135.90 L269.00,136.90 L271.00,128.90 L273.00,135.90 L275.00,143.90 L277.00,143.90 L279.00,136.90 L281.00,124.00 L283.00,116.00 L284.30,104.70 L286.30,97.70 L288.30,104.70 L289.90,114.00 L291.90,124.90 L293.90,118.00 L295.90,118.00 L297.90,129.90 L299.80,137.90 L301.80,139.90 L304.80,140.90 L307.80,133.90 L309.80,131.90 L312.80,137.90 L314.80,143.90 L316.80,148.80 L318.80,144.90 L320.80,141.90 L322.80,139.90 L325.00,137.90 L327.50,144.50 L329.90,131.30 L332.40,119.90 L334.90,116.60 L337.30,111.60 L339.00,110.00 L341.40,123.10 L343.10,129.70 L345.50,135.50 L348.00,131.30 L349.60,130.50 L351.30,134.60 L352.90,142.80 L354.60,151.00 L357.00,159.30 L359.50,159.30 L361.90,151.00 L364.40,141.20 L366.00,138.70 L368.50,142.80 L370.20,146.90 L371.80,157.60 L373.40,165.80 L375.10,172.40 L377.50,171.60 L379.20,179.00 L381.60,183.90 L384.10,189.20 L385.90,195.70 L388.80,198.60 L390.80,193.70 L393.40,189.70 L395.40,193.70 L397.40,195.70 L399.80,183.70 L402.80,173.70 L405.00,163.90 L408.30,144.20 L411.60,142.50 L414.00,131.00 L415.70,119.60 L418.10,111.30 L420.60,109.70 L422.20,116.30 L424.70,119.60 L427.20,117.90 L428.80,119.60 L430.50,123.70 L432.10,117.90 L434.60,109.70 L437.00,101.50 L439.20,94.10 L440.80,99.90 L442.40,108.10 L444.10,107.20 L445.70,106.40" fill="none" stroke="#f52020" stroke-width="1.5" stroke-linejoin="round"/>
<path d="M264.50,128.00 L265.00,129.90 L267.00,135.90 L269.00,139.90 L271.00,143.90 L274.00,139.90 L277.00,137.90 L279.90,137.90 L281.90,139.90 L283.90,141.90 L285.90,137.90 L287.90,129.90 L289.90,126.00 L292.90,135.90 L294.90,143.90 L296.90,151.80 L298.90,161.80 L300.80,163.80 L302.80,165.80 L304.80,173.70 L306.80,178.70 L309.80,185.70 L312.80,188.70 L315.80,191.70 L317.80,197.60 L319.80,191.70 L321.80,193.70 L323.80,201.60 L324.70,205.20 L326.70,197.60 L329.90,188.80 L331.60,179.00 L333.20,170.80 L335.70,162.50 L338.10,159.30 L340.60,157.60 L343.10,151.00 L345.50,144.50 L348.00,144.50 L351.30,142.80 L353.70,147.80 L356.20,157.60 L359.50,162.50 L362.80,167.50 L366.00,170.80 L368.50,167.50 L371.00,162.50 L374.30,157.60 L377.50,149.40 L380.80,139.60 L383.30,133.80 L385.90,131.90 L387.80,136.90 L389.80,139.90 L391.80,136.90 L393.80,141.90 L395.80,135.90 L397.80,132.90 L399.80,137.90 L401.80,139.90 L403.80,139.90 L405.80,135.90 L407.80,131.90 L409.80,129.90 L411.80,124.00 L413.70,115.00 L414.90,111.30 L416.70,104.00 L418.70,96.70 L420.70,82.80 L422.70,72.80 L424.70,70.80 L426.70,73.80 L428.70,71.80 L430.70,74.80 L432.70,82.80 L434.70,86.80 L436.70,88.70 L438.60,94.70 L440.30,103.10 L442.00,122.80 L443.60,144.20 L445.20,162.20" fill="none" stroke="#f04040" stroke-width="1.3" stroke-dasharray="1.1 1.4"/>
<path d="M487.40,160.00 L488.30,159.50 L489.20,129.90 L490.20,117.00 L491.50,103.10 L492.90,109.60 L494.40,120.70 L495.70,109.60 L497.00,108.70 L498.50,114.20 L500.30,111.40 L502.90,103.70 L504.90,99.70 L506.90,93.70 L508.90,87.70 L510.90,85.70 L512.90,89.70 L514.90,93.70 L516.90,103.70 L518.90,105.70 L520.90,107.60 L522.80,109.60 L524.80,111.60 L526.80,113.60 L528.80,111.60 L530.80,113.60 L532.80,99.70 L534.80,93.70 L536.80,89.70 L538.80,85.70 L540.80,77.80 L542.80,69.80 L544.80,61.80 L546.80,55.90 L548.70,53.90 L550.70,45.90 L552.70,39.90 L554.30,45.90 L555.70,55.90 L557.10,65.80 L558.70,67.80 L560.70,65.80 L562.70,51.90 L564.30,57.80 L565.70,67.80 L567.10,75.80 L568.70,81.80 L570.70,79.80 L572.60,87.70 L574.00,91.70 L576.00,79.80 L578.00,72.80 L580.00,73.80 L581.60,81.80 L583.00,95.70 L584.40,103.70 L586.00,107.60 L588.00,124.90 L590.00,146.80 L592.00,134.80 L594.00,128.90 L596.00,120.90 L598.00,116.90 L600.90,112.90 L602.90,114.90 L604.90,124.90 L606.90,128.90 L608.90,126.90 L610.80,136.80 L612.80,144.80 L614.80,152.80 L616.80,134.80 L618.80,146.80 L620.80,160.70 L622.00,168.50 L623.50,177.70 L625.00,170.00 L627.40,168.50 L629.00,160.00 L631.00,165.00 L633.00,168.00 L635.80,176.20 L637.40,185.40 L638.90,194.70 L641.20,205.50 L643.50,202.40 L645.80,203.90 L648.20,190.10 L650.50,176.20 L652.80,165.40 L654.30,157.70 L655.70,140.00 L657.70,116.90 L659.60,112.90 L661.60,111.00 L663.60,114.90 L665.60,126.90 L667.60,134.80" fill="none" stroke="#1f72c6" stroke-width="1.35" stroke-dasharray="1.3 1.4"/>
<path d="M487.40,105.90 L489.20,92.90 L491.00,83.70 L493.00,77.80 L495.00,73.40 L497.00,75.80 L499.00,74.80 L501.00,71.80 L502.90,67.80 L504.90,62.80 L506.90,66.80 L508.50,79.80 L509.90,85.70 L511.30,83.70 L512.90,91.70 L514.90,88.70 L516.50,79.80 L517.90,83.70 L519.90,93.70 L521.90,95.70 L523.80,99.70 L525.80,105.70 L527.80,95.70 L529.20,90.70 L530.80,97.70 L532.40,107.60 L533.80,101.70 L535.20,109.60 L536.80,105.70 L538.40,126.00 L539.80,115.60 L541.80,99.70 L543.80,85.70 L545.80,83.70 L547.70,79.80 L549.70,75.80 L551.70,67.80 L553.70,58.80 L555.10,56.90 L556.30,45.90 L557.70,39.90 L559.10,32.00 L560.70,22.00 L562.30,28.00 L563.70,33.90 L565.10,35.90 L566.70,44.90 L568.70,45.90 L570.30,54.90 L571.70,71.80 L573.00,83.70 L574.60,71.80 L575.60,65.80 L577.00,71.80 L578.40,83.70 L580.00,93.70 L581.60,91.70 L583.00,97.70 L584.40,95.70 L586.00,101.70 L587.50,103.70 L588.90,100.70 L590.30,107.60 L591.90,109.60 L593.50,101.70 L594.90,109.60 L596.00,134.80 L598.00,128.90 L600.00,120.90 L602.00,116.90 L604.00,124.90 L606.00,134.80 L608.00,140.80 L610.00,118.90 L611.80,105.70 L613.80,111.60 L615.80,99.70 L617.80,93.70 L619.80,91.70 L621.40,95.70 L622.80,103.70 L624.20,107.60 L625.80,91.70 L627.40,77.80 L629.40,70.80 L630.80,75.80 L632.20,83.70 L633.80,89.70 L635.30,95.70 L636.70,91.70 L638.10,99.70 L639.70,105.70 L641.70,114.90 L643.70,126.90 L645.70,132.80 L647.70,136.80 L649.70,144.80 L651.70,148.80 L653.70,146.80 L655.70,148.80 L657.70,152.80 L659.60,144.80 L661.60,134.80 L663.60,122.90 L665.20,116.90 L667.20,132.80" fill="none" stroke="#1a6fc4" stroke-width="1.3" stroke-linejoin="round"/>
<path d="M487.40,132.70 L490.20,135.50 L492.90,137.30 L495.70,144.70 L497.30,150.00 L499.00,158.20 L501.40,164.80 L503.90,169.70 L506.30,173.00 L508.80,177.90 L511.30,186.10 L512.90,196.00 L514.60,200.10 L517.00,202.50 L519.50,205.00 L521.10,209.10 L523.10,216.50 L524.40,214.00 L526.00,202.50 L527.70,192.70 L529.30,182.80 L531.00,173.00 L532.60,163.10 L534.30,154.90 L535.80,147.80 L537.80,151.80 L539.80,146.90 L541.80,153.80 L543.30,154.90 L544.90,161.50 L546.60,164.80 L548.20,166.40 L549.90,176.30 L551.50,189.40 L554.00,196.00 L556.40,202.50 L558.90,207.50 L561.40,210.80 L563.80,214.00 L565.50,207.50 L567.10,200.90 L568.70,191.00 L570.40,179.60 L572.00,173.00 L573.70,169.70 L575.30,174.60 L577.00,169.70 L578.60,159.90 L580.20,150.00 L582.00,134.80 L584.00,124.90 L585.90,116.90 L587.50,120.90 L588.90,132.80 L590.90,140.80 L592.90,139.80 L594.90,144.80 L596.90,152.80 L598.10,168.50 L600.40,180.80 L603.50,191.60 L605.80,188.50 L608.10,177.70 L610.40,168.50 L612.70,180.80 L615.00,183.90 L617.30,184.70 L618.90,166.90 L620.80,146.80 L622.80,130.90 L624.20,126.90 L626.20,132.80 L628.20,130.90 L630.20,131.90 L632.20,128.90 L634.20,126.90 L636.10,122.90 L638.10,118.90 L640.10,124.90 L642.10,134.80 L644.10,140.80 L646.10,138.80 L648.10,140.80 L650.10,144.80 L652.10,144.80 L654.10,146.80 L656.10,148.80 L658.10,151.80 L660.00,142.80 L662.00,128.90 L664.00,116.90 L665.60,114.90 L667.20,120.90" fill="none" stroke="#f52020" stroke-width="1.5" stroke-linejoin="round"/>
<path d="M487.40,106.80 L491.10,111.40 L494.80,115.10 L498.50,121.60 L501.30,124.40 L503.10,131.80 L505.00,139.20 L507.70,148.40 L510.50,153.90 L513.30,161.30 L515.40,161.50 L517.80,156.60 L519.50,154.10 L521.10,163.10 L522.40,173.00 L524.10,159.90 L526.00,154.90 L527.70,150.00 L528.80,141.90 L530.80,135.90 L532.80,133.90 L534.80,131.90 L536.40,130.90 L538.40,133.90 L540.40,136.90 L542.40,139.90 L543.80,149.80 L545.80,159.90 L549.00,161.50 L552.30,161.50 L554.80,157.40 L558.10,159.90 L561.40,164.80 L563.80,169.70 L565.50,163.10 L567.10,154.90 L570.40,154.10 L573.70,153.30 L577.00,156.60 L580.00,152.80 L582.00,146.80 L584.00,142.80 L585.90,141.80 L587.90,152.80 L589.90,162.70 L591.90,164.70 L593.90,162.70 L595.90,164.70 L597.90,160.70 L599.90,154.80 L601.90,152.80 L603.90,153.80 L605.90,148.80 L607.90,142.80 L609.80,128.90 L611.80,118.90 L613.80,114.90 L615.80,113.90 L617.80,114.90 L619.80,118.90 L621.80,122.90 L623.80,130.90 L625.80,138.80 L627.80,144.80 L630.40,150.00 L633.50,165.40 L635.80,174.70 L638.10,163.90 L640.50,170.00 L642.00,157.70 L643.70,150.80 L645.70,134.80 L647.70,130.90 L649.70,126.90 L651.70,118.90 L653.70,113.90 L655.70,112.90 L657.70,108.90 L659.60,105.00 L661.60,101.00 L663.60,101.00 L665.20,107.00 L666.60,116.90" fill="none" stroke="#f04040" stroke-width="1.3" stroke-dasharray="1.1 1.4"/>
<path d="M42.40,393.80 L44.00,375.90 L45.60,364.00 L47.00,369.90 L48.40,367.90 L50.00,371.90 L52.00,379.90 L53.90,385.90 L55.90,395.80 L57.50,377.90 L58.90,361.60 L59.90,345.70 L61.90,339.70 L63.90,341.70 L65.90,345.70 L67.90,351.70 L69.90,357.60 L70.90,367.90 L71.90,363.60 L73.90,353.70 L75.90,337.70 L77.80,329.80 L79.80,337.70 L81.80,349.70 L83.80,359.60 L85.80,345.70 L87.80,329.80 L89.80,317.80 L91.80,305.90 L93.80,295.90 L95.80,303.90 L97.80,309.80 L99.80,313.80 L101.80,317.80 L103.70,309.80 L105.70,298.90 L107.70,299.90 L109.70,307.80 L111.70,315.80 L113.70,329.80 L115.30,349.70 L116.70,331.80 L118.70,317.80 L120.70,311.80 L122.70,317.80 L124.70,321.80 L126.70,319.80 L128.60,317.80 L130.60,315.80 L132.60,311.80 L134.00,311.80 L135.60,317.80 L137.00,329.80 L139.00,329.80 L141.00,323.80 L142.90,317.80 L144.30,323.80 L145.90,333.70 L147.50,325.80 L148.90,337.70 L150.30,345.70 L151.90,358.00 L153.90,365.90 L155.90,373.90 L157.90,379.90 L159.90,375.90 L161.90,369.90 L163.90,377.90 L165.90,383.90 L167.80,387.80 L169.80,383.90 L171.80,385.90 L173.80,381.90 L175.80,375.90 L177.80,383.90 L179.80,389.80 L181.80,383.90 L183.80,379.90 L185.80,377.90 L187.80,373.90 L189.80,377.90 L191.80,385.90 L193.70,393.80 L195.70,397.80 L197.70,391.80 L199.70,385.90 L201.70,381.90 L203.70,385.90 L205.70,391.80 L207.70,393.80 L209.30,389.80 L210.70,379.90 L211.70,369.90 L213.70,355.00 L215.70,356.00 L217.60,358.00 L219.60,362.00 L221.60,369.90" fill="none" stroke="#1f72c6" stroke-width="1.7" stroke-dasharray="1.6 1.5"/>
<path d="M42.40,341.70 L44.00,329.80 L46.00,327.80 L47.60,317.80 L49.00,316.80 L50.40,308.80 L52.00,313.80 L53.50,331.80 L55.00,329.80 L56.30,335.70 L57.90,324.80 L58.90,333.70 L59.90,337.70 L61.50,335.70 L62.90,341.70 L64.30,339.70 L65.90,329.80 L67.50,323.80 L68.90,328.80 L70.30,335.70 L71.90,343.70 L73.50,331.80 L74.90,323.80 L76.90,321.80 L78.80,315.80 L80.20,321.80 L81.80,317.80 L83.40,321.80 L84.80,327.80 L86.20,325.80 L87.80,327.80 L89.40,323.80 L90.80,315.80 L92.20,311.80 L93.80,319.80 L95.40,331.80 L96.80,325.80 L98.20,329.80 L99.80,333.70 L101.40,319.80 L102.70,315.80 L104.10,325.80 L105.70,315.80 L107.30,313.80 L108.70,317.80 L110.10,321.80 L111.70,321.80 L113.30,317.80 L114.70,313.80 L116.30,306.90 L117.70,313.80 L119.30,309.80 L120.70,300.90 L122.10,303.90 L123.70,315.80 L125.30,311.80 L126.70,327.80 L128.00,325.80 L129.60,327.80 L131.60,337.70 L133.60,341.70 L135.60,349.70 L137.60,355.70 L139.00,341.70 L140.40,327.80 L141.60,329.80 L142.90,339.70 L144.30,345.70 L145.90,331.80 L147.50,329.80 L148.90,339.70 L150.30,349.70 L151.90,339.70 L153.50,341.70 L154.90,345.70 L156.30,347.70 L157.90,335.70 L158.90,329.80 L159.90,335.70 L160.90,349.70 L161.90,362.00 L162.90,371.90 L163.90,377.90 L164.90,381.90 L165.90,375.90 L167.80,379.90 L169.80,385.90 L170.80,381.90 L172.20,395.80 L173.80,401.80 L175.40,389.80 L176.80,383.90 L178.20,401.80 L179.80,403.80 L181.40,399.80 L182.80,403.80 L184.20,389.80 L185.80,385.90 L187.40,397.80 L188.80,399.80 L190.80,391.80 L192.70,395.80 L194.70,387.80 L196.70,389.80 L198.70,383.90 L200.70,385.90 L202.10,381.90 L204.10,379.90 L205.70,377.90 L207.30,369.90 L208.70,354.00 L209.70,349.70 L211.70,339.70 L213.30,329.80 L214.70,333.70 L216.10,337.70 L217.60,335.70 L218.60,345.70 L219.60,357.60 L220.60,362.00 L222.00,356.00" fill="none" stroke="#1a6fc4" stroke-width="1.8" stroke-linejoin="round"/>
<path d="M42.40,375.90 L45.00,379.90 L47.00,387.80 L49.00,393.80 L51.00,403.80 L52.90,407.80 L54.90,405.80 L56.90,401.80 L58.90,402.80 L60.90,401.80 L62.90,400.80 L64.90,401.80 L66.90,404.80 L68.90,398.80 L70.90,393.80 L72.90,379.90 L74.90,374.90 L76.90,383.90 L78.80,393.80 L80.80,392.80 L82.80,397.80 L84.80,402.80 L86.80,392.80 L88.80,390.80 L90.80,391.80 L92.80,407.80 L94.80,419.70 L96.80,409.80 L98.80,397.80 L100.80,391.80 L102.70,387.80 L104.70,377.90 L106.70,371.90 L108.70,365.90 L110.70,362.00 L112.70,359.00 L115.70,355.00 L117.70,362.00 L119.70,377.90 L121.70,389.80 L123.70,395.80 L125.70,397.80 L127.60,401.80 L130.00,418.00 L132.00,425.70 L134.00,411.80 L136.00,395.80 L138.00,381.90 L140.00,371.90 L142.00,367.90 L143.90,367.90 L145.90,369.90 L147.90,367.90 L149.90,366.90 L151.90,364.90 L153.90,371.90 L155.90,379.90 L157.90,387.80 L159.90,392.80 L161.50,389.80 L162.90,375.90 L164.30,369.90 L165.50,365.90 L166.90,369.90 L168.80,365.90 L170.80,362.00 L171.80,359.60 L173.80,355.70 L175.80,357.60 L177.80,351.70 L179.80,349.70 L181.80,351.70 L183.80,348.70 L185.80,349.70 L187.80,341.70 L189.00,340.70 L190.80,343.70 L192.70,345.70 L194.70,347.70 L196.70,349.70 L198.70,351.70 L200.70,357.60 L202.70,360.60 L204.70,361.60 L206.70,363.60 L208.70,366.00 L211.00,367.00 L214.00,369.00 L217.00,368.00 L219.60,366.00 L221.60,363.60 L222.60,355.70" fill="none" stroke="#f52020" stroke-width="1.5" stroke-linejoin="round"/>
<path d="M42.40,371.90 L45.00,377.90 L48.00,385.90 L51.00,389.80 L53.90,393.80 L55.90,399.80 L57.90,403.80 L59.90,406.80 L62.90,407.80 L65.90,409.80 L67.90,411.80 L69.90,412.70 L71.90,401.80 L73.90,385.90 L75.90,379.90 L78.80,374.90 L80.80,375.90 L82.80,373.90 L84.80,369.90 L87.80,367.90 L90.80,367.90 L92.80,371.90 L94.80,383.90 L96.80,393.80 L98.80,397.80 L100.80,407.80 L102.70,405.80 L104.70,395.80 L107.70,391.80 L110.70,385.90 L113.70,379.90 L115.70,375.90 L118.70,377.90 L120.70,379.90 L123.30,371.90 L125.70,375.90 L127.60,381.90 L130.00,383.90 L132.00,389.80 L134.00,395.80 L136.00,397.80 L138.00,391.80 L140.00,389.80 L142.00,397.80 L143.90,402.80 L145.90,397.80 L147.90,393.80 L149.90,389.80 L151.90,391.80 L153.90,387.80 L155.90,385.90 L157.90,387.80 L159.90,389.80 L161.90,385.90 L163.90,381.90 L165.90,383.90 L167.80,379.90 L169.80,385.90 L171.80,389.80 L173.80,391.80 L175.80,393.80 L177.80,391.80 L179.80,393.80 L181.80,395.80 L183.80,394.80 L185.80,399.80 L187.80,403.80 L189.40,406.80 L190.80,401.80 L192.70,395.80 L194.70,389.80 L196.70,379.90 L198.70,369.90 L200.70,360.00 L202.70,357.60 L205.70,358.00 L208.70,357.60 L211.70,361.00 L213.70,360.00 L215.70,357.60 L217.60,362.00 L219.60,365.00 L220.60,369.90 L222.00,379.90" fill="none" stroke="#f04040" stroke-width="1.3" stroke-dasharray="1.1 1.4"/>
<path d="M264.50,330.00 L265.00,323.80 L267.00,321.80 L269.00,319.80 L271.00,313.80 L273.00,305.90 L274.90,300.90 L276.90,299.90 L278.90,304.90 L280.90,306.90 L282.90,303.90 L284.90,307.80 L286.90,304.90 L288.90,301.90 L290.90,293.90 L292.90,290.90 L294.90,295.90 L296.90,293.90 L298.90,301.90 L300.80,297.90 L302.80,293.90 L304.80,290.90 L306.80,293.90 L308.80,291.90 L310.80,285.90 L312.20,295.90 L313.80,295.90 L315.80,291.90 L317.80,297.90 L319.80,301.90 L321.80,307.80 L323.80,309.80 L325.70,307.80 L327.70,319.80 L329.70,325.80 L331.70,335.70 L333.70,345.70 L334.70,337.70 L336.10,359.60 L337.70,363.60 L339.30,333.70 L340.70,341.70 L342.70,349.70 L344.10,353.70 L345.70,359.60 L347.70,365.60 L349.60,339.70 L352.00,339.70 L354.00,329.80 L356.00,321.80 L357.60,327.80 L359.00,335.70 L361.00,349.70 L362.40,357.60 L364.90,371.90 L366.90,377.90 L368.30,385.90 L369.90,381.90 L371.90,377.90 L373.90,383.90 L375.90,389.80 L377.90,379.90 L379.90,383.90 L381.90,371.90 L383.50,377.90 L384.90,373.90 L386.30,373.90 L387.80,379.90 L389.80,387.80 L391.80,393.80 L393.80,397.80 L395.40,407.80 L396.80,417.70 L398.20,413.70 L399.80,415.70 L401.40,411.80 L402.80,419.70 L404.20,425.70 L405.80,409.80 L407.40,403.80 L408.80,405.80 L410.20,409.80 L411.80,415.70 L413.30,425.70 L414.70,435.70 L416.10,443.60 L417.70,439.60 L419.30,443.60 L420.70,445.60 L422.10,439.60 L424.10,443.60 L425.70,439.60 L427.70,443.60 L429.30,441.60 L430.70,425.70 L432.10,409.80 L433.70,397.80 L435.30,385.90 L436.70,375.90 L438.00,371.90 L439.60,365.90 L441.20,362.00 L442.60,356.00 L444.60,365.90" fill="none" stroke="#1f72c6" stroke-width="1.7" stroke-dasharray="1.6 1.5"/>
<path d="M264.50,335.00 L265.00,329.80 L266.40,322.80 L268.00,323.80 L270.00,317.80 L272.00,309.80 L273.60,307.80 L274.90,311.80 L276.30,317.80 L277.90,313.80 L279.50,309.80 L280.90,313.80 L282.30,307.80 L283.90,305.90 L285.50,313.80 L286.90,321.80 L288.30,317.80 L289.90,331.80 L291.50,341.70 L292.90,353.70 L294.30,349.70 L295.90,327.80 L297.50,333.70 L298.90,343.70 L300.20,351.70 L301.80,369.90 L303.80,376.90 L305.40,367.90 L307.40,362.00 L308.80,356.00 L310.20,349.70 L311.80,341.70 L313.40,329.80 L314.80,327.80 L316.20,335.70 L317.80,345.70 L319.40,333.70 L320.80,325.80 L322.20,315.80 L323.40,301.90 L324.70,293.90 L325.70,291.90 L327.30,303.90 L328.70,311.80 L330.10,307.80 L331.70,315.80 L333.30,311.80 L334.70,317.80 L336.10,312.80 L337.70,313.80 L339.30,317.80 L340.70,321.80 L342.10,319.80 L343.70,313.80 L345.30,311.80 L346.70,315.80 L348.10,311.80 L349.60,305.90 L351.20,289.90 L352.60,283.90 L354.40,288.90 L356.00,293.90 L357.60,297.90 L359.00,302.90 L360.40,299.90 L362.00,298.90 L363.50,299.90 L364.90,305.90 L366.30,303.90 L367.90,307.80 L369.50,311.80 L370.90,309.80 L372.30,321.80 L373.90,331.80 L375.50,341.70 L376.90,350.70 L378.30,339.70 L379.90,327.80 L380.90,319.80 L381.90,337.70 L382.90,344.70 L384.30,329.80 L385.50,319.80 L386.90,323.80 L388.20,317.80 L389.80,321.80 L391.40,325.80 L392.80,339.70 L393.80,352.70 L395.40,335.70 L396.80,319.80 L398.20,310.80 L399.80,317.80 L401.40,325.80 L402.80,310.80 L404.20,315.80 L405.80,327.80 L407.40,333.70 L408.80,350.00 L410.80,366.00 L412.20,362.00 L413.70,358.00 L414.70,369.90 L415.70,389.80 L417.30,405.80 L418.70,417.70 L420.10,429.70 L421.30,437.60 L422.70,429.70 L424.10,417.70 L425.30,425.70 L426.70,417.70 L428.10,425.70 L429.30,415.70 L430.10,397.80 L431.70,391.80 L433.30,389.80 L434.70,387.80 L436.10,375.90 L437.60,367.90 L439.20,365.90 L440.60,362.00 L442.00,360.00 L443.60,369.90 L445.20,387.80" fill="none" stroke="#1a6fc4" stroke-width="1.8" stroke-linejoin="round"/>
<path d="M264.50,360.00 L265.00,362.00 L266.40,371.90 L268.00,379.90 L269.60,381.90 L271.00,369.90 L272.40,368.90 L274.00,375.90 L275.50,379.90 L276.90,371.90 L278.90,362.00 L280.90,353.70 L283.50,349.70 L284.90,339.70 L286.90,331.80 L288.30,339.70 L289.90,354.00 L291.50,364.00 L292.90,369.90 L294.30,365.90 L295.90,373.90 L297.50,383.90 L298.90,389.80 L300.20,395.80 L301.40,399.80 L302.80,393.80 L304.20,385.90 L305.80,389.80 L307.40,383.90 L308.80,379.90 L310.20,377.90 L311.80,376.90 L313.40,377.90 L314.80,389.80 L316.20,399.80 L317.80,401.80 L319.40,398.80 L320.80,403.80 L322.20,395.80 L323.80,405.80 L325.30,411.80 L326.70,415.70 L328.10,416.70 L329.30,407.80 L330.70,393.80 L332.10,381.90 L333.70,377.90 L335.30,371.90 L336.70,369.90 L338.70,367.90 L340.10,369.90 L341.70,371.90 L343.30,369.90 L344.70,368.90 L346.70,367.90 L348.10,366.90 L350.00,369.90 L352.00,375.90 L354.00,379.90 L356.00,380.90 L358.00,378.90 L360.00,379.90 L362.00,377.90 L363.90,375.90 L365.90,374.90 L367.90,375.90 L369.90,367.90 L371.50,371.90 L372.90,381.90 L374.90,385.90 L376.90,387.80 L378.90,388.80 L380.90,394.80 L382.90,390.80 L384.90,395.80 L386.90,397.80 L388.80,397.80 L390.80,395.80 L392.20,387.80 L393.80,384.90 L395.80,387.80 L397.80,387.80 L399.80,379.90 L401.80,371.90 L403.80,367.90 L405.40,360.00 L406.80,350.00 L407.80,339.70 L409.80,337.70 L411.80,335.70 L413.70,329.80 L415.70,325.80 L417.70,321.80 L419.70,317.80 L421.30,315.80 L422.70,319.80 L424.70,325.80 L426.70,329.80 L428.70,333.70 L430.70,335.70 L432.70,337.70 L434.70,339.70 L436.70,337.70 L438.60,329.80 L440.60,331.80 L442.60,333.70 L444.60,327.80" fill="none" stroke="#f52020" stroke-width="1.5" stroke-linejoin="round"/>
<path d="M264.50,380.00 L265.00,383.90 L267.00,389.80 L269.00,392.80 L271.00,391.80 L273.00,387.80 L274.90,384.90 L276.90,387.80 L278.90,391.80 L280.90,397.80 L282.90,397.80 L284.90,391.80 L286.90,387.80 L288.90,384.90 L290.90,387.80 L292.90,391.80 L294.90,395.80 L296.90,397.80 L298.90,389.80 L300.80,381.90 L302.80,383.90 L304.80,393.80 L306.80,401.80 L308.80,406.80 L310.80,411.80 L312.80,409.80 L314.80,406.80 L316.80,405.80 L318.80,404.80 L320.80,406.80 L322.80,409.80 L324.70,411.80 L326.70,407.80 L328.70,399.80 L330.10,385.90 L331.70,373.90 L333.30,367.90 L334.70,369.90 L336.70,371.90 L338.70,373.90 L340.70,377.90 L342.70,373.90 L344.70,369.90 L346.70,373.90 L348.70,381.90 L350.60,389.80 L352.60,397.80 L354.60,403.80 L356.60,411.80 L358.00,416.70 L360.00,411.80 L362.00,407.80 L363.90,403.80 L365.90,399.80 L367.90,393.80 L369.90,385.90 L371.90,383.90 L373.90,384.90 L375.90,383.90 L377.90,382.90 L379.90,383.90 L381.90,387.80 L383.90,391.80 L385.90,393.80 L387.80,393.80 L389.80,389.80 L391.80,383.90 L393.80,379.90 L395.80,371.90 L397.80,369.90 L399.80,367.90 L401.80,369.90 L403.80,362.00 L405.80,354.00 L407.80,350.00 L409.80,345.70 L411.80,337.70 L413.70,323.80 L415.70,311.80 L417.70,301.90 L419.70,295.90 L421.70,289.90 L424.10,284.90 L426.10,287.90 L428.10,289.90 L429.70,286.90 L431.70,293.90 L433.30,301.90 L434.70,313.80 L436.10,323.80 L437.60,319.80 L439.20,319.80 L440.60,327.80 L442.00,345.70 L443.60,361.60" fill="none" stroke="#f04040" stroke-width="1.3" stroke-dasharray="1.1 1.4"/>
<path d="M487.40,389.80 L488.60,379.90 L490.00,369.90 L491.00,355.70 L493.00,357.60 L495.00,349.70 L496.60,345.70 L497.90,351.70 L499.90,353.70 L501.90,351.70 L503.90,345.70 L505.90,341.70 L507.90,339.70 L509.90,338.70 L511.90,339.70 L513.90,341.70 L515.90,349.70 L517.90,360.00 L519.30,366.00 L520.90,353.70 L522.80,355.70 L523.80,362.00 L524.80,373.90 L525.80,366.00 L526.80,363.60 L528.80,357.60 L530.80,351.70 L532.80,337.70 L534.80,331.80 L536.80,329.80 L538.80,325.80 L540.80,320.80 L542.80,319.80 L544.40,315.80 L545.80,299.90 L547.70,293.90 L549.70,289.90 L551.70,283.90 L553.10,281.90 L554.30,293.90 L555.10,309.80 L556.70,319.80 L558.70,317.80 L560.70,315.80 L562.70,319.80 L564.70,321.80 L566.30,329.80 L567.70,345.70 L569.10,357.60 L570.70,366.00 L572.60,369.90 L574.60,366.00 L576.00,355.00 L578.00,337.70 L580.00,337.70 L581.60,345.70 L583.00,353.70 L584.40,361.60 L586.00,366.00 L588.00,372.00 L590.00,376.00 L592.00,370.00 L594.00,378.00 L596.00,368.00 L598.90,353.70 L600.30,348.70 L601.90,349.70 L603.50,355.70 L604.90,361.60 L606.50,366.00 L608.00,360.00 L609.80,353.70 L611.80,349.70 L613.80,355.70 L615.50,362.00 L617.50,366.00 L619.80,369.90 L620.80,389.80 L621.80,401.80 L623.80,405.80 L625.80,409.80 L627.40,399.80 L628.80,383.90 L630.20,393.80 L631.80,401.80 L633.80,407.80 L635.30,413.70 L636.70,419.70 L638.10,425.70 L639.70,433.70 L641.30,441.60 L642.70,437.60 L644.10,433.70 L645.70,429.70 L647.70,425.70 L649.70,421.70 L651.70,415.70 L653.70,409.80 L654.70,397.80 L655.70,387.80 L657.70,381.90 L659.60,377.90 L661.60,371.90 L663.60,367.90 L665.60,364.00 L667.60,362.00" fill="none" stroke="#1f72c6" stroke-width="1.35" stroke-dasharray="1.3 1.4"/>
<path d="M487.40,349.70 L489.00,343.70 L491.00,337.70 L493.00,329.80 L495.00,321.80 L496.60,320.80 L497.90,322.80 L499.90,317.80 L501.90,311.80 L503.30,304.90 L504.90,300.90 L506.50,304.90 L507.90,313.80 L509.30,321.80 L510.90,327.80 L512.50,333.70 L513.90,337.70 L515.30,339.70 L516.50,329.80 L517.90,323.80 L519.30,331.80 L520.50,335.70 L521.90,339.70 L523.20,345.70 L524.40,351.70 L525.80,357.60 L527.20,351.70 L528.80,341.70 L530.40,338.70 L531.80,345.70 L533.20,347.70 L534.80,339.70 L536.40,338.70 L537.80,349.70 L538.80,362.00 L540.40,374.90 L541.80,360.00 L543.20,345.70 L544.40,341.70 L545.80,349.70 L547.20,351.70 L548.70,343.70 L550.30,329.80 L551.70,323.80 L553.10,319.80 L554.70,317.80 L556.30,305.90 L557.70,295.90 L559.10,285.90 L560.70,279.00 L562.30,282.90 L563.70,289.90 L565.10,293.90 L566.70,295.90 L568.30,291.90 L569.70,301.90 L571.10,319.80 L572.60,333.70 L574.20,333.70 L575.60,331.80 L577.00,335.70 L578.20,345.00 L579.60,355.00 L580.40,361.60 L583.00,370.00 L585.00,362.00 L587.00,368.00 L589.00,360.00 L591.00,364.00 L593.00,370.00 L595.00,356.00 L597.00,380.00 L599.00,374.00 L601.00,370.00 L603.00,364.00 L604.30,381.90 L605.90,395.80 L607.50,397.80 L608.90,385.90 L610.80,375.90 L612.80,369.90 L614.80,362.00 L616.80,366.00 L618.80,360.00 L620.80,362.00 L622.80,377.90 L624.20,381.90 L625.40,366.00 L626.80,350.00 L627.80,339.70 L629.40,338.70 L630.80,345.70 L632.20,349.70 L633.80,347.70 L635.30,351.70 L636.70,345.70 L638.10,341.70 L639.70,347.70 L641.30,339.70 L642.70,333.70 L644.10,329.80 L645.30,339.70 L646.70,351.70 L648.10,349.70 L649.70,353.70 L651.30,357.60 L652.70,351.70 L654.10,349.70 L655.70,355.70 L657.30,349.70 L658.70,353.70 L660.00,351.70 L661.60,353.70 L663.20,349.70 L664.60,351.70 L666.00,355.70 L667.60,357.60" fill="none" stroke="#1a6fc4" stroke-width="1.3" stroke-linejoin="round"/>
<path d="M487.40,381.90 L489.00,375.90 L491.00,371.90 L493.00,369.90 L494.60,368.90 L496.00,373.90 L497.40,379.90 L498.90,384.90 L500.90,383.90 L502.90,387.80 L504.90,397.80 L506.90,401.80 L508.90,405.80 L510.90,413.70 L512.90,423.70 L514.90,431.70 L516.90,429.70 L518.90,426.70 L520.90,431.70 L522.50,439.60 L523.80,443.20 L525.20,437.60 L526.80,427.70 L528.80,417.70 L530.80,405.80 L532.80,391.80 L534.40,381.90 L535.80,379.90 L537.20,383.90 L538.80,391.80 L540.40,388.80 L541.80,391.80 L543.80,394.80 L545.80,399.80 L547.70,402.80 L549.10,409.80 L550.70,419.70 L552.30,427.70 L553.70,430.70 L555.70,432.70 L557.70,435.70 L559.70,437.60 L561.70,438.60 L563.70,435.70 L565.70,429.70 L567.70,423.70 L569.70,413.70 L571.70,401.80 L572.00,397.80 L574.00,391.80 L576.00,392.80 L578.00,385.90 L579.60,373.90 L581.00,360.00 L582.00,355.70 L584.00,352.70 L586.00,355.70 L587.50,360.00 L588.90,362.00 L590.90,367.90 L592.90,372.90 L594.90,379.90 L596.30,389.80 L597.90,405.80 L599.50,419.70 L600.90,431.70 L602.90,432.70 L604.30,425.70 L605.90,413.70 L607.50,403.80 L608.90,395.80 L610.80,388.80 L612.80,393.80 L614.80,395.80 L616.80,387.80 L618.20,379.90 L619.80,369.90 L620.80,355.70 L622.80,347.70 L624.20,345.70 L625.80,353.70 L627.80,355.70 L629.80,357.60 L631.80,361.60 L633.80,355.70 L635.70,353.70 L637.70,351.70 L639.70,356.00 L641.70,362.00 L643.70,367.90 L645.70,371.90 L647.70,379.90 L649.70,383.90 L651.70,387.80 L653.70,390.80 L655.30,393.80 L656.70,390.80 L658.70,391.80 L660.60,385.90 L662.60,377.90 L664.60,367.90 L666.60,362.00 L668.00,358.00" fill="none" stroke="#f52020" stroke-width="1.5" stroke-linejoin="round"/>
<path d="M487.40,349.70 L491.00,343.70 L494.00,337.70 L496.60,334.70 L498.90,337.70 L501.90,343.70 L503.90,350.00 L505.90,356.00 L507.90,362.00 L509.90,369.90 L511.90,381.90 L513.90,391.80 L515.30,394.80 L516.90,389.80 L518.90,382.90 L520.90,388.80 L522.50,391.80 L523.80,383.90 L525.80,377.90 L527.80,373.90 L529.80,369.90 L531.80,364.00 L533.80,360.00 L536.80,358.60 L539.00,362.00 L541.80,371.90 L543.80,385.90 L545.80,397.80 L547.70,403.80 L549.70,407.80 L551.70,404.80 L553.70,401.80 L555.70,402.80 L557.70,405.80 L559.70,409.80 L561.70,419.70 L563.70,420.70 L565.70,415.70 L567.70,401.80 L569.70,399.80 L571.70,397.80 L573.60,396.80 L575.60,395.80 L577.60,392.80 L579.60,385.90 L581.60,381.90 L584.00,379.90 L585.90,369.90 L586.90,383.90 L588.90,389.80 L590.90,386.90 L593.90,383.90 L596.90,381.90 L599.90,380.90 L602.90,382.90 L604.90,375.90 L606.90,369.90 L608.90,362.00 L610.80,354.00 L611.80,353.70 L613.80,343.70 L615.80,338.70 L617.80,338.70 L619.80,339.70 L621.40,345.70 L622.80,355.70 L624.50,360.00 L625.80,360.00 L627.80,364.00 L629.80,371.90 L631.80,383.90 L633.80,389.80 L635.70,391.80 L637.70,388.80 L639.70,385.90 L641.70,373.90 L643.30,362.00 L645.70,359.60 L647.70,351.70 L649.70,345.70 L651.70,341.70 L653.70,339.70 L655.70,338.70 L657.70,339.70 L659.60,331.80 L661.60,328.80 L663.20,329.80 L664.60,337.70 L666.00,349.70 L667.60,361.60" fill="none" stroke="#f04040" stroke-width="1.3" stroke-dasharray="1.1 1.4"/>
<line x1="42.0" y1="19.0" x2="42.0" y2="222.21" stroke="#a6a6a6" stroke-width="1.8"/>
<line x1="38.2" y1="221.41" x2="42.0" y2="221.41" stroke="#7f7f7f" stroke-width="1"/>
<line x1="38.2" y1="190.24" x2="42.0" y2="190.24" stroke="#7f7f7f" stroke-width="1"/>
<line x1="38.2" y1="159.07" x2="42.0" y2="159.07" stroke="#7f7f7f" stroke-width="1"/>
<line x1="38.2" y1="127.90" x2="42.0" y2="127.90" stroke="#7f7f7f" stroke-width="1"/>
<line x1="38.2" y1="96.73" x2="42.0" y2="96.73" stroke="#7f7f7f" stroke-width="1"/>
<line x1="38.2" y1="65.56" x2="42.0" y2="65.56" stroke="#7f7f7f" stroke-width="1"/>
<line x1="38.2" y1="34.39" x2="42.0" y2="34.39" stroke="#7f7f7f" stroke-width="1"/>
<line x1="42.80" y1="231.60" x2="42.80" y2="240.80" stroke="#2a2a2a" stroke-width="0.9"/>
<line x1="72.80" y1="231.60" x2="72.80" y2="240.80" stroke="#2a2a2a" stroke-width="0.9"/>
<line x1="102.80" y1="231.60" x2="102.80" y2="240.80" stroke="#2a2a2a" stroke-width="0.9"/>
<line x1="132.80" y1="231.60" x2="132.80" y2="240.80" stroke="#2a2a2a" stroke-width="0.9"/>
<line x1="162.80" y1="231.60" x2="162.80" y2="240.80" stroke="#2a2a2a" stroke-width="0.9"/>
<line x1="192.80" y1="231.60" x2="192.80" y2="240.80" stroke="#2a2a2a" stroke-width="0.9"/>
<line x1="222.80" y1="231.60" x2="222.80" y2="240.80" stroke="#2a2a2a" stroke-width="0.9"/>
<line x1="264.5" y1="19.0" x2="264.5" y2="222.21" stroke="#a6a6a6" stroke-width="1.8"/>
<line x1="260.7" y1="221.41" x2="264.5" y2="221.41" stroke="#7f7f7f" stroke-width="1"/>
<line x1="260.7" y1="190.24" x2="264.5" y2="190.24" stroke="#7f7f7f" stroke-width="1"/>
<line x1="260.7" y1="159.07" x2="264.5" y2="159.07" stroke="#7f7f7f" stroke-width="1"/>
<line x1="260.7" y1="127.90" x2="264.5" y2="127.90" stroke="#7f7f7f" stroke-width="1"/>
<line x1="260.7" y1="96.73" x2="264.5" y2="96.73" stroke="#7f7f7f" stroke-width="1"/>
<line x1="260.7" y1="65.56" x2="264.5" y2="65.56" stroke="#7f7f7f" stroke-width="1"/>
<line x1="260.7" y1="34.39" x2="264.5" y2="34.39" stroke="#7f7f7f" stroke-width="1"/>
<line x1="265.30" y1="231.60" x2="265.30" y2="240.80" stroke="#2a2a2a" stroke-width="0.9"/>
<line x1="295.30" y1="231.60" x2="295.30" y2="240.80" stroke="#2a2a2a" stroke-width="0.9"/>
<line x1="325.30" y1="231.60" x2="325.30" y2="240.80" stroke="#2a2a2a" stroke-width="0.9"/>
<line x1="355.30" y1="231.60" x2="355.30" y2="240.80" stroke="#2a2a2a" stroke-width="0.9"/>
<line x1="385.30" y1="231.60" x2="385.30" y2="240.80" stroke="#2a2a2a" stroke-width="0.9"/>
<line x1="415.30" y1="231.60" x2="415.30" y2="240.80" stroke="#2a2a2a" stroke-width="0.9"/>
<line x1="445.30" y1="231.60" x2="445.30" y2="240.80" stroke="#2a2a2a" stroke-width="0.9"/>
<line x1="487.4" y1="19.0" x2="487.4" y2="222.21" stroke="#a6a6a6" stroke-width="1.8"/>
<line x1="483.59999999999997" y1="221.41" x2="487.4" y2="221.41" stroke="#7f7f7f" stroke-width="1"/>
<line x1="483.59999999999997" y1="190.24" x2="487.4" y2="190.24" stroke="#7f7f7f" stroke-width="1"/>
<line x1="483.59999999999997" y1="159.07" x2="487.4" y2="159.07" stroke="#7f7f7f" stroke-width="1"/>
<line x1="483.59999999999997" y1="127.90" x2="487.4" y2="127.90" stroke="#7f7f7f" stroke-width="1"/>
<line x1="483.59999999999997" y1="96.73" x2="487.4" y2="96.73" stroke="#7f7f7f" stroke-width="1"/>
<line x1="483.59999999999997" y1="65.56" x2="487.4" y2="65.56" stroke="#7f7f7f" stroke-width="1"/>
<line x1="483.59999999999997" y1="34.39" x2="487.4" y2="34.39" stroke="#7f7f7f" stroke-width="1"/>
<line x1="488.20" y1="231.60" x2="488.20" y2="240.80" stroke="#2a2a2a" stroke-width="0.9"/>
<line x1="518.20" y1="231.60" x2="518.20" y2="240.80" stroke="#2a2a2a" stroke-width="0.9"/>
<line x1="548.20" y1="231.60" x2="548.20" y2="240.80" stroke="#2a2a2a" stroke-width="0.9"/>
<line x1="578.20" y1="231.60" x2="578.20" y2="240.80" stroke="#2a2a2a" stroke-width="0.9"/>
<line x1="608.20" y1="231.60" x2="608.20" y2="240.80" stroke="#2a2a2a" stroke-width="0.9"/>
<line x1="638.20" y1="231.60" x2="638.20" y2="240.80" stroke="#2a2a2a" stroke-width="0.9"/>
<line x1="668.20" y1="231.60" x2="668.20" y2="240.80" stroke="#2a2a2a" stroke-width="0.9"/>
<line x1="42.0" y1="251.2" x2="42.0" y2="454.31" stroke="#a6a6a6" stroke-width="1.8"/>
<line x1="38.2" y1="453.51" x2="42.0" y2="453.51" stroke="#7f7f7f" stroke-width="1"/>
<line x1="38.2" y1="422.34" x2="42.0" y2="422.34" stroke="#7f7f7f" stroke-width="1"/>
<line x1="38.2" y1="391.17" x2="42.0" y2="391.17" stroke="#7f7f7f" stroke-width="1"/>
<line x1="38.2" y1="360.00" x2="42.0" y2="360.00" stroke="#7f7f7f" stroke-width="1"/>
<line x1="38.2" y1="328.83" x2="42.0" y2="328.83" stroke="#7f7f7f" stroke-width="1"/>
<line x1="38.2" y1="297.66" x2="42.0" y2="297.66" stroke="#7f7f7f" stroke-width="1"/>
<line x1="38.2" y1="266.49" x2="42.0" y2="266.49" stroke="#7f7f7f" stroke-width="1"/>
<line x1="42.80" y1="463.70" x2="42.80" y2="472.90" stroke="#2a2a2a" stroke-width="0.9"/>
<line x1="72.80" y1="463.70" x2="72.80" y2="472.90" stroke="#2a2a2a" stroke-width="0.9"/>
<line x1="102.80" y1="463.70" x2="102.80" y2="472.90" stroke="#2a2a2a" stroke-width="0.9"/>
<line x1="132.80" y1="463.70" x2="132.80" y2="472.90" stroke="#2a2a2a" stroke-width="0.9"/>
<line x1="162.80" y1="463.70" x2="162.80" y2="472.90" stroke="#2a2a2a" stroke-width="0.9"/>
<line x1="192.80" y1="463.70" x2="192.80" y2="472.90" stroke="#2a2a2a" stroke-width="0.9"/>
<line x1="222.80" y1="463.70" x2="222.80" y2="472.90" stroke="#2a2a2a" stroke-width="0.9"/>
<line x1="264.5" y1="251.2" x2="264.5" y2="454.31" stroke="#a6a6a6" stroke-width="1.8"/>
<line x1="260.7" y1="453.51" x2="264.5" y2="453.51" stroke="#7f7f7f" stroke-width="1"/>
<line x1="260.7" y1="422.34" x2="264.5" y2="422.34" stroke="#7f7f7f" stroke-width="1"/>
<line x1="260.7" y1="391.17" x2="264.5" y2="391.17" stroke="#7f7f7f" stroke-width="1"/>
<line x1="260.7" y1="360.00" x2="264.5" y2="360.00" stroke="#7f7f7f" stroke-width="1"/>
<line x1="260.7" y1="328.83" x2="264.5" y2="328.83" stroke="#7f7f7f" stroke-width="1"/>
<line x1="260.7" y1="297.66" x2="264.5" y2="297.66" stroke="#7f7f7f" stroke-width="1"/>
<line x1="260.7" y1="266.49" x2="264.5" y2="266.49" stroke="#7f7f7f" stroke-width="1"/>
<line x1="265.30" y1="463.70" x2="265.30" y2="472.90" stroke="#2a2a2a" stroke-width="0.9"/>
<line x1="295.30" y1="463.70" x2="295.30" y2="472.90" stroke="#2a2a2a" stroke-width="0.9"/>
<line x1="325.30" y1="463.70" x2="325.30" y2="472.90" stroke="#2a2a2a" stroke-width="0.9"/>
<line x1="355.30" y1="463.70" x2="355.30" y2="472.90" stroke="#2a2a2a" stroke-width="0.9"/>
<line x1="385.30" y1="463.70" x2="385.30" y2="472.90" stroke="#2a2a2a" stroke-width="0.9"/>
<line x1="415.30" y1="463.70" x2="415.30" y2="472.90" stroke="#2a2a2a" stroke-width="0.9"/>
<line x1="445.30" y1="463.70" x2="445.30" y2="472.90" stroke="#2a2a2a" stroke-width="0.9"/>
<line x1="487.4" y1="251.2" x2="487.4" y2="454.31" stroke="#a6a6a6" stroke-width="1.8"/>
<line x1="483.59999999999997" y1="453.51" x2="487.4" y2="453.51" stroke="#7f7f7f" stroke-width="1"/>
<line x1="483.59999999999997" y1="422.34" x2="487.4" y2="422.34" stroke="#7f7f7f" stroke-width="1"/>
<line x1="483.59999999999997" y1="391.17" x2="487.4" y2="391.17" stroke="#7f7f7f" stroke-width="1"/>
<line x1="483.59999999999997" y1="360.00" x2="487.4" y2="360.00" stroke="#7f7f7f" stroke-width="1"/>
<line x1="483.59999999999997" y1="328.83" x2="487.4" y2="328.83" stroke="#7f7f7f" stroke-width="1"/>
<line x1="483.59999999999997" y1="297.66" x2="487.4" y2="297.66" stroke="#7f7f7f" stroke-width="1"/>
<line x1="483.59999999999997" y1="266.49" x2="487.4" y2="266.49" stroke="#7f7f7f" stroke-width="1"/>
<line x1="488.20" y1="463.70" x2="488.20" y2="472.90" stroke="#2a2a2a" stroke-width="0.9"/>
<line x1="518.20" y1="463.70" x2="518.20" y2="472.90" stroke="#2a2a2a" stroke-width="0.9"/>
<line x1="548.20" y1="463.70" x2="548.20" y2="472.90" stroke="#2a2a2a" stroke-width="0.9"/>
<line x1="578.20" y1="463.70" x2="578.20" y2="472.90" stroke="#2a2a2a" stroke-width="0.9"/>
<line x1="608.20" y1="463.70" x2="608.20" y2="472.90" stroke="#2a2a2a" stroke-width="0.9"/>
<line x1="638.20" y1="463.70" x2="638.20" y2="472.90" stroke="#2a2a2a" stroke-width="0.9"/>
<line x1="668.20" y1="463.70" x2="668.20" y2="472.90" stroke="#2a2a2a" stroke-width="0.9"/>
<rect x="146.2" y="186.5" width="33.6" height="5.6" fill="rgba(80,180,235,0.55)" stroke="#1f6fbd" stroke-width="1.6"/>
<rect x="146.2" y="198.9" width="33.6" height="5.6" fill="#cbe9f9" stroke="#1f6fbd" stroke-width="1.6" stroke-dasharray="1.2 1.2"/>
<line x1="145.7" y1="214.3" x2="180.3" y2="214.3" stroke="#ee2a2a" stroke-width="1.5"/>
<line x1="145.7" y1="226.8" x2="180.3" y2="226.8" stroke="#f06060" stroke-width="1.3" stroke-dasharray="1.1 1.1"/>
<text x="47.60" y="8.80" font-size="10.8" text-anchor="start" fill="#000" font-weight="bold" textLength="139.20" lengthAdjust="spacingAndGlyphs" stroke="#000" stroke-width="0.3">Near Krasnoyarsk Reservoir</text>
<text x="247.60" y="8.80" font-size="10.8" text-anchor="start" fill="#000" font-weight="bold" textLength="184.40" lengthAdjust="spacingAndGlyphs" stroke="#000" stroke-width="0.3">Near Sayano-Shushenskoe Reservoir</text>
<text x="517.40" y="8.80" font-size="10.8" text-anchor="start" fill="#000" font-weight="bold" textLength="90.20" lengthAdjust="spacingAndGlyphs" stroke="#000" stroke-width="0.3">Distant from both</text>
<text x="53.70" y="24.60" font-size="9.0" text-anchor="start" fill="#111" font-weight="bold" textLength="33.30" lengthAdjust="spacingAndGlyphs" stroke="#111" stroke-width="0.25">ZSH_PS</text>
<text x="92.60" y="24.60" font-size="9.0" text-anchor="start" fill="#111" font-weight="bold" textLength="104.20" lengthAdjust="spacingAndGlyphs" stroke="#111" stroke-width="0.25">1936-1967 / 1968-2014</text>
<text x="276.90" y="24.60" font-size="9.0" text-anchor="start" fill="#111" font-weight="bold" textLength="37.80" lengthAdjust="spacingAndGlyphs" stroke="#111" stroke-width="0.25">KALY_PS</text>
<text x="320.30" y="24.60" font-size="9.0" text-anchor="start" fill="#111" font-weight="bold" textLength="104.50" lengthAdjust="spacingAndGlyphs" stroke="#111" stroke-width="0.25">1951-1979 / 1980-2014</text>
<text x="501.30" y="24.60" font-size="9.0" text-anchor="start" fill="#111" font-weight="bold" textLength="33.20" lengthAdjust="spacingAndGlyphs" stroke="#111" stroke-width="0.25">KAZ_PS</text>
<text x="540.50" y="24.60" font-size="9.0" text-anchor="start" fill="#111" font-weight="bold" textLength="103.90" lengthAdjust="spacingAndGlyphs" stroke="#111" stroke-width="0.25">1936-1967 / 1980-2014</text>
<text x="52.80" y="256.60" font-size="9.0" text-anchor="start" fill="#111" font-weight="bold" textLength="30.10" lengthAdjust="spacingAndGlyphs" stroke="#111" stroke-width="0.25">BID_LS</text>
<text x="88.20" y="256.60" font-size="9.0" text-anchor="start" fill="#111" font-weight="bold" textLength="104.60" lengthAdjust="spacingAndGlyphs" stroke="#111" stroke-width="0.25">1936-1967 / 1968-2014</text>
<text x="275.70" y="256.60" font-size="9.0" text-anchor="start" fill="#111" font-weight="bold" textLength="36.40" lengthAdjust="spacingAndGlyphs" stroke="#111" stroke-width="0.25">KALY_LS</text>
<text x="317.80" y="256.60" font-size="9.0" text-anchor="start" fill="#111" font-weight="bold" textLength="104.80" lengthAdjust="spacingAndGlyphs" stroke="#111" stroke-width="0.25">1951-1979 / 1980-2014</text>
<text x="501.30" y="256.60" font-size="9.0" text-anchor="start" fill="#111" font-weight="bold" textLength="31.40" lengthAdjust="spacingAndGlyphs" stroke="#111" stroke-width="0.25">KAZ_LS</text>
<text x="538.40" y="256.60" font-size="9.0" text-anchor="start" fill="#111" font-weight="bold" textLength="105.00" lengthAdjust="spacingAndGlyphs" stroke="#111" stroke-width="0.25">1936-1967 / 1980-2014</text>
<text x="31.60" y="224.91" font-size="10.3" text-anchor="end" fill="#333" textLength="16.60" lengthAdjust="spacingAndGlyphs" stroke="#333" stroke-width="0.25">-0.6</text>
<text x="31.60" y="193.74" font-size="10.3" text-anchor="end" fill="#333" textLength="16.60" lengthAdjust="spacingAndGlyphs" stroke="#333" stroke-width="0.25">-0.4</text>
<text x="31.60" y="162.57" font-size="10.3" text-anchor="end" fill="#333" textLength="16.60" lengthAdjust="spacingAndGlyphs" stroke="#333" stroke-width="0.25">-0.2</text>
<text x="31.60" y="131.40" font-size="10.3" text-anchor="end" fill="#333" textLength="13.40" lengthAdjust="spacingAndGlyphs" stroke="#333" stroke-width="0.25">0.0</text>
<text x="31.60" y="100.23" font-size="10.3" text-anchor="end" fill="#333" textLength="13.40" lengthAdjust="spacingAndGlyphs" stroke="#333" stroke-width="0.25">0.2</text>
<text x="31.60" y="69.06" font-size="10.3" text-anchor="end" fill="#333" textLength="13.40" lengthAdjust="spacingAndGlyphs" stroke="#333" stroke-width="0.25">0.4</text>
<text x="31.60" y="37.89" font-size="10.3" text-anchor="end" fill="#333" textLength="13.40" lengthAdjust="spacingAndGlyphs" stroke="#333" stroke-width="0.25">0.6</text>
<text x="56.55" y="239.10" font-size="10.2" text-anchor="middle" fill="#333" textLength="6.30" lengthAdjust="spacingAndGlyphs" stroke="#333" stroke-width="0.2">A</text>
<text x="86.15" y="239.10" font-size="10.2" text-anchor="middle" fill="#333" textLength="9.40" lengthAdjust="spacingAndGlyphs" stroke="#333" stroke-width="0.2">M</text>
<text x="116.60" y="239.10" font-size="10.2" text-anchor="middle" fill="#333" textLength="4.20" lengthAdjust="spacingAndGlyphs" stroke="#333" stroke-width="0.2">J</text>
<text x="146.35" y="239.10" font-size="10.2" text-anchor="middle" fill="#333" textLength="4.20" lengthAdjust="spacingAndGlyphs" stroke="#333" stroke-width="0.2">J</text>
<text x="177.20" y="239.10" font-size="10.2" text-anchor="middle" fill="#333" textLength="6.30" lengthAdjust="spacingAndGlyphs" stroke="#333" stroke-width="0.2">A</text>
<text x="208.00" y="239.10" font-size="10.2" text-anchor="middle" fill="#333" textLength="5.20" lengthAdjust="spacingAndGlyphs" stroke="#333" stroke-width="0.2">S</text>
<text x="254.10" y="224.91" font-size="10.3" text-anchor="end" fill="#333" textLength="16.60" lengthAdjust="spacingAndGlyphs" stroke="#333" stroke-width="0.25">-0.6</text>
<text x="254.10" y="193.74" font-size="10.3" text-anchor="end" fill="#333" textLength="16.60" lengthAdjust="spacingAndGlyphs" stroke="#333" stroke-width="0.25">-0.4</text>
<text x="254.10" y="162.57" font-size="10.3" text-anchor="end" fill="#333" textLength="16.60" lengthAdjust="spacingAndGlyphs" stroke="#333" stroke-width="0.25">-0.2</text>
<text x="254.10" y="131.40" font-size="10.3" text-anchor="end" fill="#333" textLength="13.40" lengthAdjust="spacingAndGlyphs" stroke="#333" stroke-width="0.25">0.0</text>
<text x="254.10" y="100.23" font-size="10.3" text-anchor="end" fill="#333" textLength="13.40" lengthAdjust="spacingAndGlyphs" stroke="#333" stroke-width="0.25">0.2</text>
<text x="254.10" y="69.06" font-size="10.3" text-anchor="end" fill="#333" textLength="13.40" lengthAdjust="spacingAndGlyphs" stroke="#333" stroke-width="0.25">0.4</text>
<text x="254.10" y="37.89" font-size="10.3" text-anchor="end" fill="#333" textLength="13.40" lengthAdjust="spacingAndGlyphs" stroke="#333" stroke-width="0.25">0.6</text>
<text x="279.05" y="239.10" font-size="10.2" text-anchor="middle" fill="#333" textLength="6.30" lengthAdjust="spacingAndGlyphs" stroke="#333" stroke-width="0.2">A</text>
<text x="308.65" y="239.10" font-size="10.2" text-anchor="middle" fill="#333" textLength="9.40" lengthAdjust="spacingAndGlyphs" stroke="#333" stroke-width="0.2">M</text>
<text x="339.10" y="239.10" font-size="10.2" text-anchor="middle" fill="#333" textLength="4.20" lengthAdjust="spacingAndGlyphs" stroke="#333" stroke-width="0.2">J</text>
<text x="368.85" y="239.10" font-size="10.2" text-anchor="middle" fill="#333" textLength="4.20" lengthAdjust="spacingAndGlyphs" stroke="#333" stroke-width="0.2">J</text>
<text x="399.70" y="239.10" font-size="10.2" text-anchor="middle" fill="#333" textLength="6.30" lengthAdjust="spacingAndGlyphs" stroke="#333" stroke-width="0.2">A</text>
<text x="430.50" y="239.10" font-size="10.2" text-anchor="middle" fill="#333" textLength="5.20" lengthAdjust="spacingAndGlyphs" stroke="#333" stroke-width="0.2">S</text>
<text x="477.00" y="224.91" font-size="10.3" text-anchor="end" fill="#333" textLength="16.60" lengthAdjust="spacingAndGlyphs" stroke="#333" stroke-width="0.25">-0.6</text>
<text x="477.00" y="193.74" font-size="10.3" text-anchor="end" fill="#333" textLength="16.60" lengthAdjust="spacingAndGlyphs" stroke="#333" stroke-width="0.25">-0.4</text>
<text x="477.00" y="162.57" font-size="10.3" text-anchor="end" fill="#333" textLength="16.60" lengthAdjust="spacingAndGlyphs" stroke="#333" stroke-width="0.25">-0.2</text>
<text x="477.00" y="131.40" font-size="10.3" text-anchor="end" fill="#333" textLength="13.40" lengthAdjust="spacingAndGlyphs" stroke="#333" stroke-width="0.25">0.0</text>
<text x="477.00" y="100.23" font-size="10.3" text-anchor="end" fill="#333" textLength="13.40" lengthAdjust="spacingAndGlyphs" stroke="#333" stroke-width="0.25">0.2</text>
<text x="477.00" y="69.06" font-size="10.3" text-anchor="end" fill="#333" textLength="13.40" lengthAdjust="spacingAndGlyphs" stroke="#333" stroke-width="0.25">0.4</text>
<text x="477.00" y="37.89" font-size="10.3" text-anchor="end" fill="#333" textLength="13.40" lengthAdjust="spacingAndGlyphs" stroke="#333" stroke-width="0.25">0.6</text>
<text x="501.95" y="239.10" font-size="10.2" text-anchor="middle" fill="#333" textLength="6.30" lengthAdjust="spacingAndGlyphs" stroke="#333" stroke-width="0.2">A</text>
<text x="531.55" y="239.10" font-size="10.2" text-anchor="middle" fill="#333" textLength="9.40" lengthAdjust="spacingAndGlyphs" stroke="#333" stroke-width="0.2">M</text>
<text x="562.00" y="239.10" font-size="10.2" text-anchor="middle" fill="#333" textLength="4.20" lengthAdjust="spacingAndGlyphs" stroke="#333" stroke-width="0.2">J</text>
<text x="591.75" y="239.10" font-size="10.2" text-anchor="middle" fill="#333" textLength="4.20" lengthAdjust="spacingAndGlyphs" stroke="#333" stroke-width="0.2">J</text>
<text x="622.60" y="239.10" font-size="10.2" text-anchor="middle" fill="#333" textLength="6.30" lengthAdjust="spacingAndGlyphs" stroke="#333" stroke-width="0.2">A</text>
<text x="653.40" y="239.10" font-size="10.2" text-anchor="middle" fill="#333" textLength="5.20" lengthAdjust="spacingAndGlyphs" stroke="#333" stroke-width="0.2">S</text>
<text x="31.60" y="457.01" font-size="10.3" text-anchor="end" fill="#333" textLength="16.60" lengthAdjust="spacingAndGlyphs" stroke="#333" stroke-width="0.25">-0.6</text>
<text x="31.60" y="425.84" font-size="10.3" text-anchor="end" fill="#333" textLength="16.60" lengthAdjust="spacingAndGlyphs" stroke="#333" stroke-width="0.25">-0.4</text>
<text x="31.60" y="394.67" font-size="10.3" text-anchor="end" fill="#333" textLength="16.60" lengthAdjust="spacingAndGlyphs" stroke="#333" stroke-width="0.25">-0.2</text>
<text x="31.60" y="363.50" font-size="10.3" text-anchor="end" fill="#333" textLength="13.40" lengthAdjust="spacingAndGlyphs" stroke="#333" stroke-width="0.25">0.0</text>
<text x="31.60" y="332.33" font-size="10.3" text-anchor="end" fill="#333" textLength="13.40" lengthAdjust="spacingAndGlyphs" stroke="#333" stroke-width="0.25">0.2</text>
<text x="31.60" y="301.16" font-size="10.3" text-anchor="end" fill="#333" textLength="13.40" lengthAdjust="spacingAndGlyphs" stroke="#333" stroke-width="0.25">0.4</text>
<text x="31.60" y="269.99" font-size="10.3" text-anchor="end" fill="#333" textLength="13.40" lengthAdjust="spacingAndGlyphs" stroke="#333" stroke-width="0.25">0.6</text>
<text x="56.55" y="471.20" font-size="10.2" text-anchor="middle" fill="#333" textLength="6.30" lengthAdjust="spacingAndGlyphs" stroke="#333" stroke-width="0.2">A</text>
<text x="86.15" y="471.20" font-size="10.2" text-anchor="middle" fill="#333" textLength="9.40" lengthAdjust="spacingAndGlyphs" stroke="#333" stroke-width="0.2">M</text>
<text x="116.60" y="471.20" font-size="10.2" text-anchor="middle" fill="#333" textLength="4.20" lengthAdjust="spacingAndGlyphs" stroke="#333" stroke-width="0.2">J</text>
<text x="146.35" y="471.20" font-size="10.2" text-anchor="middle" fill="#333" textLength="4.20" lengthAdjust="spacingAndGlyphs" stroke="#333" stroke-width="0.2">J</text>
<text x="177.20" y="471.20" font-size="10.2" text-anchor="middle" fill="#333" textLength="6.30" lengthAdjust="spacingAndGlyphs" stroke="#333" stroke-width="0.2">A</text>
<text x="208.00" y="471.20" font-size="10.2" text-anchor="middle" fill="#333" textLength="5.20" lengthAdjust="spacingAndGlyphs" stroke="#333" stroke-width="0.2">S</text>
<text x="254.10" y="457.01" font-size="10.3" text-anchor="end" fill="#333" textLength="16.60" lengthAdjust="spacingAndGlyphs" stroke="#333" stroke-width="0.25">-0.6</text>
<text x="254.10" y="425.84" font-size="10.3" text-anchor="end" fill="#333" textLength="16.60" lengthAdjust="spacingAndGlyphs" stroke="#333" stroke-width="0.25">-0.4</text>
<text x="254.10" y="394.67" font-size="10.3" text-anchor="end" fill="#333" textLength="16.60" lengthAdjust="spacingAndGlyphs" stroke="#333" stroke-width="0.25">-0.2</text>
<text x="254.10" y="363.50" font-size="10.3" text-anchor="end" fill="#333" textLength="13.40" lengthAdjust="spacingAndGlyphs" stroke="#333" stroke-width="0.25">0.0</text>
<text x="254.10" y="332.33" font-size="10.3" text-anchor="end" fill="#333" textLength="13.40" lengthAdjust="spacingAndGlyphs" stroke="#333" stroke-width="0.25">0.2</text>
<text x="254.10" y="301.16" font-size="10.3" text-anchor="end" fill="#333" textLength="13.40" lengthAdjust="spacingAndGlyphs" stroke="#333" stroke-width="0.25">0.4</text>
<text x="254.10" y="269.99" font-size="10.3" text-anchor="end" fill="#333" textLength="13.40" lengthAdjust="spacingAndGlyphs" stroke="#333" stroke-width="0.25">0.6</text>
<text x="279.05" y="471.20" font-size="10.2" text-anchor="middle" fill="#333" textLength="6.30" lengthAdjust="spacingAndGlyphs" stroke="#333" stroke-width="0.2">A</text>
<text x="308.65" y="471.20" font-size="10.2" text-anchor="middle" fill="#333" textLength="9.40" lengthAdjust="spacingAndGlyphs" stroke="#333" stroke-width="0.2">M</text>
<text x="339.10" y="471.20" font-size="10.2" text-anchor="middle" fill="#333" textLength="4.20" lengthAdjust="spacingAndGlyphs" stroke="#333" stroke-width="0.2">J</text>
<text x="368.85" y="471.20" font-size="10.2" text-anchor="middle" fill="#333" textLength="4.20" lengthAdjust="spacingAndGlyphs" stroke="#333" stroke-width="0.2">J</text>
<text x="399.70" y="471.20" font-size="10.2" text-anchor="middle" fill="#333" textLength="6.30" lengthAdjust="spacingAndGlyphs" stroke="#333" stroke-width="0.2">A</text>
<text x="430.50" y="471.20" font-size="10.2" text-anchor="middle" fill="#333" textLength="5.20" lengthAdjust="spacingAndGlyphs" stroke="#333" stroke-width="0.2">S</text>
<text x="477.00" y="457.01" font-size="10.3" text-anchor="end" fill="#333" textLength="16.60" lengthAdjust="spacingAndGlyphs" stroke="#333" stroke-width="0.25">-0.6</text>
<text x="477.00" y="425.84" font-size="10.3" text-anchor="end" fill="#333" textLength="16.60" lengthAdjust="spacingAndGlyphs" stroke="#333" stroke-width="0.25">-0.4</text>
<text x="477.00" y="394.67" font-size="10.3" text-anchor="end" fill="#333" textLength="16.60" lengthAdjust="spacingAndGlyphs" stroke="#333" stroke-width="0.25">-0.2</text>
<text x="477.00" y="363.50" font-size="10.3" text-anchor="end" fill="#333" textLength="13.40" lengthAdjust="spacingAndGlyphs" stroke="#333" stroke-width="0.25">0.0</text>
<text x="477.00" y="332.33" font-size="10.3" text-anchor="end" fill="#333" textLength="13.40" lengthAdjust="spacingAndGlyphs" stroke="#333" stroke-width="0.25">0.2</text>
<text x="477.00" y="301.16" font-size="10.3" text-anchor="end" fill="#333" textLength="13.40" lengthAdjust="spacingAndGlyphs" stroke="#333" stroke-width="0.25">0.4</text>
<text x="477.00" y="269.99" font-size="10.3" text-anchor="end" fill="#333" textLength="13.40" lengthAdjust="spacingAndGlyphs" stroke="#333" stroke-width="0.25">0.6</text>
<text x="501.95" y="471.20" font-size="10.2" text-anchor="middle" fill="#333" textLength="6.30" lengthAdjust="spacingAndGlyphs" stroke="#333" stroke-width="0.2">A</text>
<text x="531.55" y="471.20" font-size="10.2" text-anchor="middle" fill="#333" textLength="9.40" lengthAdjust="spacingAndGlyphs" stroke="#333" stroke-width="0.2">M</text>
<text x="562.00" y="471.20" font-size="10.2" text-anchor="middle" fill="#333" textLength="4.20" lengthAdjust="spacingAndGlyphs" stroke="#333" stroke-width="0.2">J</text>
<text x="591.75" y="471.20" font-size="10.2" text-anchor="middle" fill="#333" textLength="4.20" lengthAdjust="spacingAndGlyphs" stroke="#333" stroke-width="0.2">J</text>
<text x="622.60" y="471.20" font-size="10.2" text-anchor="middle" fill="#333" textLength="6.30" lengthAdjust="spacingAndGlyphs" stroke="#333" stroke-width="0.2">A</text>
<text x="653.40" y="471.20" font-size="10.2" text-anchor="middle" fill="#333" textLength="5.20" lengthAdjust="spacingAndGlyphs" stroke="#333" stroke-width="0.2">S</text>
<text x="0.00" y="0.00" font-size="8.9" text-anchor="start" fill="#000" font-weight="bold" textLength="104.60" lengthAdjust="spacingAndGlyphs" transform="translate(7.9,298.2) rotate(-90)" stroke="#000" stroke-width="0.22">Correlation coefficients</text>
<text x="322.70" y="485.90" font-size="9.3" text-anchor="start" fill="#000" font-weight="bold" textLength="33.80" lengthAdjust="spacingAndGlyphs" stroke="#000" stroke-width="0.22">Months</text>
<text x="184.60" y="192.30" font-size="9.0" text-anchor="start" fill="#1e1e1e" textLength="36.40" lengthAdjust="spacingAndGlyphs" stroke="#1e1e1e" stroke-width="0.15">P before</text>
<text x="184.60" y="204.80" font-size="9.0" text-anchor="start" fill="#1e1e1e" textLength="28.40" lengthAdjust="spacingAndGlyphs" stroke="#1e1e1e" stroke-width="0.15">P after</text>
<text x="184.60" y="217.40" font-size="9.0" text-anchor="start" fill="#1e1e1e" textLength="36.20" lengthAdjust="spacingAndGlyphs" stroke="#1e1e1e" stroke-width="0.15">T before</text>
<text x="184.60" y="229.70" font-size="9.0" text-anchor="start" fill="#1e1e1e" textLength="28.40" lengthAdjust="spacingAndGlyphs" stroke="#1e1e1e" stroke-width="0.15">T after</text>
</svg></body></html>
